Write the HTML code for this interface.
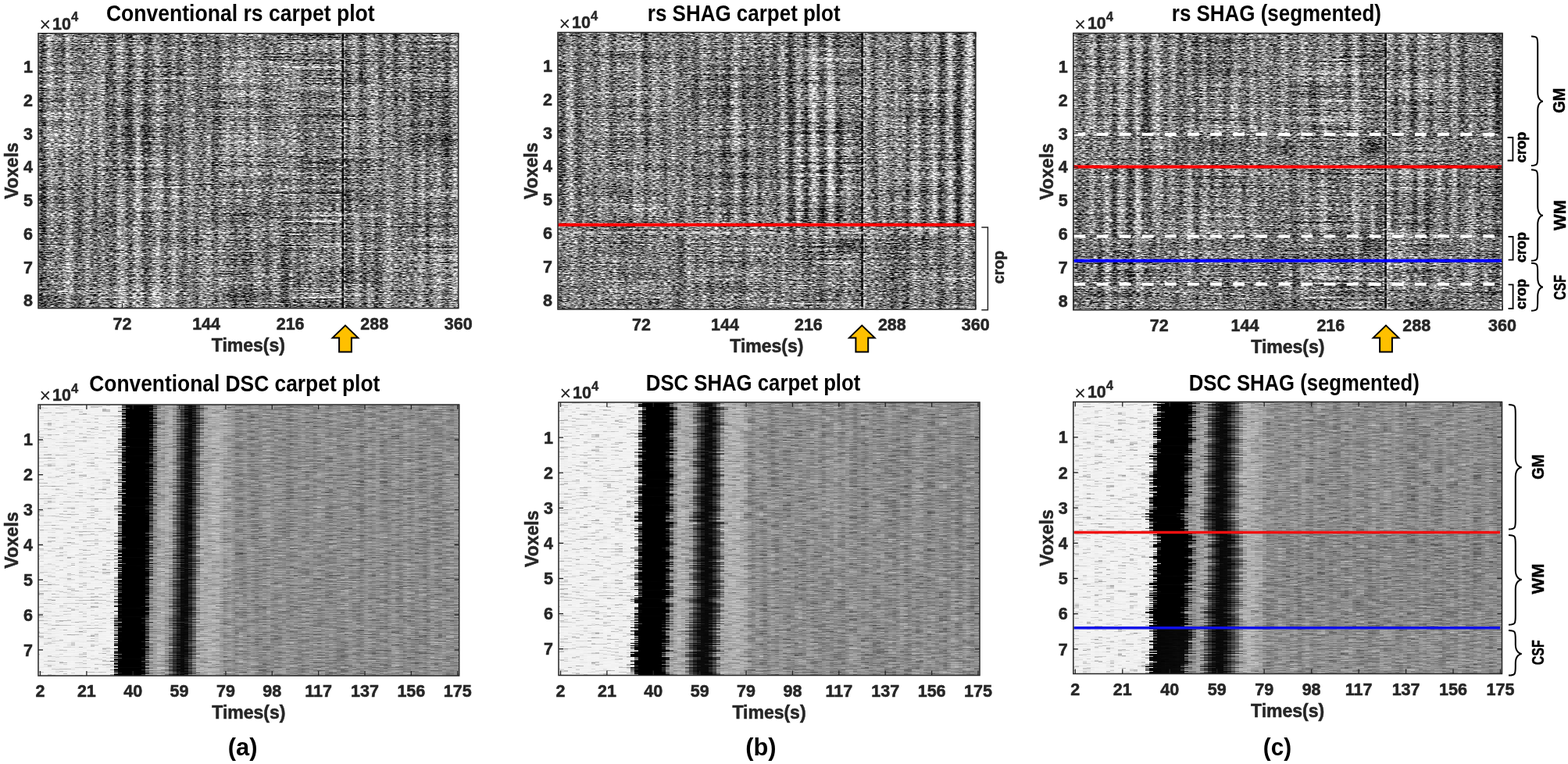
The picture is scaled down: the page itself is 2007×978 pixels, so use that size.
<!DOCTYPE html>
<html><head><meta charset="utf-8"><title>SHAG carpet plots</title>
<style>html,body{margin:0;padding:0;background:#fff;}body{width:2007px;height:978px;overflow:hidden;}svg{display:block;}</style>
</head><body><svg width="2007" height="978" viewBox="0 0 2007 978"><defs><filter id="nzTop" x="0" y="0" width="1" height="1" color-interpolation-filters="sRGB">
<feTurbulence type="fractalNoise" baseFrequency="0.1 0.004" numOctaves="2" seed="21" result="t2"/>
<feColorMatrix in="t2" type="matrix" values="1 0 0 0 0  1 0 0 0 0  1 0 0 0 0  0 0 0 0 1" result="g2"/>
<feComposite in="SourceGraphic" in2="g2" operator="arithmetic" k1="0" k2="1" k3="0.45" k4="-0.225" result="s1"/>
<feTurbulence type="fractalNoise" baseFrequency="0.008 0.6" numOctaves="1" seed="33" result="t3"/>
<feColorMatrix in="t3" type="matrix" values="1 0 0 0 0  1 0 0 0 0  1 0 0 0 0  0 0 0 0 1" result="g3"/>
<feComposite in="s1" in2="g3" operator="arithmetic" k1="0" k2="1" k3="0.75" k4="-0.375" result="s2"/>
<feTurbulence type="fractalNoise" baseFrequency="0.2 0.7" numOctaves="3" seed="7" result="t"/>
<feColorMatrix in="t" type="matrix" values="1 0 0 0 0  1 0 0 0 0  1 0 0 0 0  0 0 0 0 1" result="g"/>
<feComposite in="s2" in2="g" operator="arithmetic" k1="0" k2="1" k3="1.75" k4="-0.875"/>
</filter><filter id="soft" x="-50%" y="-50%" width="200%" height="200%"><feGaussianBlur stdDeviation="5"/></filter><linearGradient id="gt1_0" gradientUnits="userSpaceOnUse" x1="49.0" y1="0" x2="586.7" y2="0"><stop offset="0.0000" stop-color="#898989"/><stop offset="0.0082" stop-color="#5d5d5d"/><stop offset="0.0164" stop-color="#646464"/><stop offset="0.0245" stop-color="#8d8d8d"/><stop offset="0.0327" stop-color="#9b9b9b"/><stop offset="0.0409" stop-color="#828282"/><stop offset="0.0491" stop-color="#646464"/><stop offset="0.0573" stop-color="#636363"/><stop offset="0.0655" stop-color="#969696"/><stop offset="0.0736" stop-color="#9b9b9b"/><stop offset="0.0818" stop-color="#848484"/><stop offset="0.0900" stop-color="#6b6b6b"/><stop offset="0.0982" stop-color="#6c6c6c"/><stop offset="0.1064" stop-color="#7d7d7d"/><stop offset="0.1146" stop-color="#919191"/><stop offset="0.1227" stop-color="#858585"/><stop offset="0.1309" stop-color="#6f6f6f"/><stop offset="0.1391" stop-color="#686868"/><stop offset="0.1473" stop-color="#909090"/><stop offset="0.1555" stop-color="#999999"/><stop offset="0.1637" stop-color="#818181"/><stop offset="0.1718" stop-color="#686868"/><stop offset="0.1800" stop-color="#5f5f5f"/><stop offset="0.1882" stop-color="#828282"/><stop offset="0.1964" stop-color="#a1a1a1"/><stop offset="0.2046" stop-color="#929292"/><stop offset="0.2128" stop-color="#5d5d5d"/><stop offset="0.2209" stop-color="#565656"/><stop offset="0.2291" stop-color="#848484"/><stop offset="0.2373" stop-color="#a4a4a4"/><stop offset="0.2455" stop-color="#a0a0a0"/><stop offset="0.2537" stop-color="#656565"/><stop offset="0.2619" stop-color="#5c5c5c"/><stop offset="0.2700" stop-color="#6c6c6c"/><stop offset="0.2782" stop-color="#949494"/><stop offset="0.2864" stop-color="#a1a1a1"/><stop offset="0.2946" stop-color="#7c7c7c"/><stop offset="0.3028" stop-color="#676767"/><stop offset="0.3110" stop-color="#757575"/><stop offset="0.3191" stop-color="#8d8d8d"/><stop offset="0.3273" stop-color="#939393"/><stop offset="0.3355" stop-color="#777777"/><stop offset="0.3437" stop-color="#666666"/><stop offset="0.3519" stop-color="#7b7b7b"/><stop offset="0.3601" stop-color="#8b8b8b"/><stop offset="0.3682" stop-color="#888888"/><stop offset="0.3764" stop-color="#777777"/><stop offset="0.3846" stop-color="#747474"/><stop offset="0.3928" stop-color="#7b7b7b"/><stop offset="0.4010" stop-color="#868686"/><stop offset="0.4092" stop-color="#8d8d8d"/><stop offset="0.4173" stop-color="#797979"/><stop offset="0.4255" stop-color="#717171"/><stop offset="0.4337" stop-color="#787878"/><stop offset="0.4419" stop-color="#8d8d8d"/><stop offset="0.4501" stop-color="#8f8f8f"/><stop offset="0.4582" stop-color="#757575"/><stop offset="0.4664" stop-color="#6d6d6d"/><stop offset="0.4746" stop-color="#868686"/><stop offset="0.4828" stop-color="#8a8a8a"/><stop offset="0.4910" stop-color="#808080"/><stop offset="0.4992" stop-color="#757575"/><stop offset="0.5073" stop-color="#797979"/><stop offset="0.5155" stop-color="#848484"/><stop offset="0.5237" stop-color="#878787"/><stop offset="0.5319" stop-color="#7e7e7e"/><stop offset="0.5401" stop-color="#717171"/><stop offset="0.5483" stop-color="#747474"/><stop offset="0.5564" stop-color="#848484"/><stop offset="0.5646" stop-color="#898989"/><stop offset="0.5728" stop-color="#848484"/><stop offset="0.5810" stop-color="#787878"/><stop offset="0.5892" stop-color="#747474"/><stop offset="0.5974" stop-color="#7d7d7d"/><stop offset="0.6055" stop-color="#939393"/><stop offset="0.6137" stop-color="#858585"/><stop offset="0.6219" stop-color="#7a7a7a"/><stop offset="0.6301" stop-color="#727272"/><stop offset="0.6383" stop-color="#828282"/><stop offset="0.6465" stop-color="#888888"/><stop offset="0.6546" stop-color="#7e7e7e"/><stop offset="0.6628" stop-color="#747474"/><stop offset="0.6710" stop-color="#7b7b7b"/><stop offset="0.6792" stop-color="#909090"/><stop offset="0.6874" stop-color="#878787"/><stop offset="0.6956" stop-color="#6c6c6c"/><stop offset="0.7037" stop-color="#6f6f6f"/><stop offset="0.7119" stop-color="#929292"/><stop offset="0.7201" stop-color="#949494"/><stop offset="0.7283" stop-color="#6d6d6d"/><stop offset="0.7365" stop-color="#5c5c5c"/><stop offset="0.7447" stop-color="#7b7b7b"/><stop offset="0.7528" stop-color="#a0a0a0"/><stop offset="0.7610" stop-color="#8d8d8d"/><stop offset="0.7692" stop-color="#5f5f5f"/><stop offset="0.7774" stop-color="#5a5a5a"/><stop offset="0.7856" stop-color="#8e8e8e"/><stop offset="0.7938" stop-color="#999999"/><stop offset="0.8019" stop-color="#7c7c7c"/><stop offset="0.8101" stop-color="#626262"/><stop offset="0.8183" stop-color="#686868"/><stop offset="0.8265" stop-color="#939393"/><stop offset="0.8347" stop-color="#989898"/><stop offset="0.8428" stop-color="#7f7f7f"/><stop offset="0.8510" stop-color="#676767"/><stop offset="0.8592" stop-color="#6c6c6c"/><stop offset="0.8674" stop-color="#8e8e8e"/><stop offset="0.8756" stop-color="#8e8e8e"/><stop offset="0.8838" stop-color="#7a7a7a"/><stop offset="0.8919" stop-color="#616161"/><stop offset="0.9001" stop-color="#777777"/><stop offset="0.9083" stop-color="#929292"/><stop offset="0.9165" stop-color="#989898"/><stop offset="0.9247" stop-color="#6d6d6d"/><stop offset="0.9329" stop-color="#636363"/><stop offset="0.9410" stop-color="#7d7d7d"/><stop offset="0.9492" stop-color="#949494"/><stop offset="0.9574" stop-color="#939393"/><stop offset="0.9656" stop-color="#757575"/><stop offset="0.9738" stop-color="#5f5f5f"/><stop offset="0.9820" stop-color="#7d7d7d"/><stop offset="0.9901" stop-color="#969696"/><stop offset="0.9983" stop-color="#a0a0a0"/><stop offset="1.0000" stop-color="#7f7f7f"/></linearGradient><clipPath id="cpt1"><rect x="49.00" y="42.70" width="537.70" height="351.90"/></clipPath><linearGradient id="gt2_0" gradientUnits="userSpaceOnUse" x1="714.0" y1="0" x2="1248.8" y2="0"><stop offset="0.0000" stop-color="#818181"/><stop offset="0.0080" stop-color="#565656"/><stop offset="0.0161" stop-color="#5a5a5a"/><stop offset="0.0241" stop-color="#939393"/><stop offset="0.0322" stop-color="#afafaf"/><stop offset="0.0402" stop-color="#7e7e7e"/><stop offset="0.0482" stop-color="#626262"/><stop offset="0.0563" stop-color="#787878"/><stop offset="0.0643" stop-color="#8e8e8e"/><stop offset="0.0724" stop-color="#898989"/><stop offset="0.0804" stop-color="#707070"/><stop offset="0.0884" stop-color="#6d6d6d"/><stop offset="0.0965" stop-color="#7c7c7c"/><stop offset="0.1045" stop-color="#969696"/><stop offset="0.1126" stop-color="#8c8c8c"/><stop offset="0.1206" stop-color="#767676"/><stop offset="0.1286" stop-color="#696969"/><stop offset="0.1367" stop-color="#717171"/><stop offset="0.1447" stop-color="#858585"/><stop offset="0.1528" stop-color="#8f8f8f"/><stop offset="0.1608" stop-color="#7f7f7f"/><stop offset="0.1688" stop-color="#6e6e6e"/><stop offset="0.1769" stop-color="#6a6a6a"/><stop offset="0.1849" stop-color="#939393"/><stop offset="0.1930" stop-color="#9e9e9e"/><stop offset="0.2010" stop-color="#808080"/><stop offset="0.2091" stop-color="#636363"/><stop offset="0.2171" stop-color="#6e6e6e"/><stop offset="0.2251" stop-color="#8f8f8f"/><stop offset="0.2332" stop-color="#919191"/><stop offset="0.2412" stop-color="#7c7c7c"/><stop offset="0.2493" stop-color="#6d6d6d"/><stop offset="0.2573" stop-color="#757575"/><stop offset="0.2653" stop-color="#8c8c8c"/><stop offset="0.2734" stop-color="#8d8d8d"/><stop offset="0.2814" stop-color="#777777"/><stop offset="0.2895" stop-color="#6d6d6d"/><stop offset="0.2975" stop-color="#7a7a7a"/><stop offset="0.3055" stop-color="#8d8d8d"/><stop offset="0.3136" stop-color="#8d8d8d"/><stop offset="0.3216" stop-color="#757575"/><stop offset="0.3297" stop-color="#6f6f6f"/><stop offset="0.3377" stop-color="#878787"/><stop offset="0.3457" stop-color="#979797"/><stop offset="0.3538" stop-color="#7f7f7f"/><stop offset="0.3618" stop-color="#686868"/><stop offset="0.3699" stop-color="#707070"/><stop offset="0.3779" stop-color="#7e7e7e"/><stop offset="0.3859" stop-color="#9d9d9d"/><stop offset="0.3940" stop-color="#858585"/><stop offset="0.4020" stop-color="#6d6d6d"/><stop offset="0.4101" stop-color="#606060"/><stop offset="0.4181" stop-color="#888888"/><stop offset="0.4261" stop-color="#9a9a9a"/><stop offset="0.4342" stop-color="#818181"/><stop offset="0.4422" stop-color="#5e5e5e"/><stop offset="0.4503" stop-color="#6d6d6d"/><stop offset="0.4583" stop-color="#8d8d8d"/><stop offset="0.4663" stop-color="#8c8c8c"/><stop offset="0.4744" stop-color="#6f6f6f"/><stop offset="0.4824" stop-color="#6a6a6a"/><stop offset="0.4905" stop-color="#757575"/><stop offset="0.4985" stop-color="#8d8d8d"/><stop offset="0.5065" stop-color="#888888"/><stop offset="0.5146" stop-color="#767676"/><stop offset="0.5226" stop-color="#6d6d6d"/><stop offset="0.5307" stop-color="#878787"/><stop offset="0.5387" stop-color="#a4a4a4"/><stop offset="0.5467" stop-color="#828282"/><stop offset="0.5548" stop-color="#4c4c4c"/><stop offset="0.5628" stop-color="#6d6d6d"/><stop offset="0.5709" stop-color="#a4a4a4"/><stop offset="0.5789" stop-color="#a0a0a0"/><stop offset="0.5869" stop-color="#6d6d6d"/><stop offset="0.5950" stop-color="#424242"/><stop offset="0.6030" stop-color="#8c8c8c"/><stop offset="0.6111" stop-color="#bababa"/><stop offset="0.6191" stop-color="#989898"/><stop offset="0.6272" stop-color="#565656"/><stop offset="0.6352" stop-color="#404040"/><stop offset="0.6432" stop-color="#8b8b8b"/><stop offset="0.6513" stop-color="#bebebe"/><stop offset="0.6593" stop-color="#979797"/><stop offset="0.6674" stop-color="#5b5b5b"/><stop offset="0.6754" stop-color="#5b5b5b"/><stop offset="0.6834" stop-color="#7d7d7d"/><stop offset="0.6915" stop-color="#a8a8a8"/><stop offset="0.6995" stop-color="#959595"/><stop offset="0.7076" stop-color="#626262"/><stop offset="0.7156" stop-color="#595959"/><stop offset="0.7236" stop-color="#797979"/><stop offset="0.7317" stop-color="#9e9e9e"/><stop offset="0.7397" stop-color="#a8a8a8"/><stop offset="0.7478" stop-color="#828282"/><stop offset="0.7558" stop-color="#5e5e5e"/><stop offset="0.7638" stop-color="#676767"/><stop offset="0.7719" stop-color="#909090"/><stop offset="0.7799" stop-color="#909090"/><stop offset="0.7880" stop-color="#7b7b7b"/><stop offset="0.7960" stop-color="#6d6d6d"/><stop offset="0.8040" stop-color="#767676"/><stop offset="0.8121" stop-color="#919191"/><stop offset="0.8201" stop-color="#8f8f8f"/><stop offset="0.8282" stop-color="#6e6e6e"/><stop offset="0.8362" stop-color="#525252"/><stop offset="0.8442" stop-color="#818181"/><stop offset="0.8523" stop-color="#b5b5b5"/><stop offset="0.8603" stop-color="#a8a8a8"/><stop offset="0.8684" stop-color="#6c6c6c"/><stop offset="0.8764" stop-color="#525252"/><stop offset="0.8844" stop-color="#6c6c6c"/><stop offset="0.8925" stop-color="#929292"/><stop offset="0.9005" stop-color="#bababa"/><stop offset="0.9086" stop-color="#8d8d8d"/><stop offset="0.9166" stop-color="#3e3e3e"/><stop offset="0.9246" stop-color="#575757"/><stop offset="0.9327" stop-color="#a4a4a4"/><stop offset="0.9407" stop-color="#c5c5c5"/><stop offset="0.9488" stop-color="#808080"/><stop offset="0.9568" stop-color="#3b3b3b"/><stop offset="0.9648" stop-color="#464646"/><stop offset="0.9729" stop-color="#969696"/><stop offset="0.9809" stop-color="#c5c5c5"/><stop offset="0.9890" stop-color="#b9b9b9"/><stop offset="0.9970" stop-color="#595959"/><stop offset="1.0000" stop-color="#323232"/></linearGradient><linearGradient id="gt2_1" gradientUnits="userSpaceOnUse" x1="714.0" y1="0" x2="1248.8" y2="0"><stop offset="0.0000" stop-color="#7d7d7d"/><stop offset="0.0080" stop-color="#6f6f6f"/><stop offset="0.0161" stop-color="#717171"/><stop offset="0.0241" stop-color="#828282"/><stop offset="0.0322" stop-color="#8b8b8b"/><stop offset="0.0402" stop-color="#7c7c7c"/><stop offset="0.0482" stop-color="#737373"/><stop offset="0.0563" stop-color="#7a7a7a"/><stop offset="0.0643" stop-color="#808080"/><stop offset="0.0724" stop-color="#7f7f7f"/><stop offset="0.0804" stop-color="#777777"/><stop offset="0.0884" stop-color="#767676"/><stop offset="0.0965" stop-color="#7b7b7b"/><stop offset="0.1045" stop-color="#838383"/><stop offset="0.1126" stop-color="#808080"/><stop offset="0.1206" stop-color="#797979"/><stop offset="0.1286" stop-color="#757575"/><stop offset="0.1367" stop-color="#787878"/><stop offset="0.1447" stop-color="#7e7e7e"/><stop offset="0.1528" stop-color="#818181"/><stop offset="0.1608" stop-color="#7c7c7c"/><stop offset="0.1688" stop-color="#777777"/><stop offset="0.1769" stop-color="#757575"/><stop offset="0.1849" stop-color="#828282"/><stop offset="0.1930" stop-color="#858585"/><stop offset="0.2010" stop-color="#7c7c7c"/><stop offset="0.2091" stop-color="#737373"/><stop offset="0.2171" stop-color="#777777"/><stop offset="0.2251" stop-color="#818181"/><stop offset="0.2332" stop-color="#818181"/><stop offset="0.2412" stop-color="#7b7b7b"/><stop offset="0.2493" stop-color="#767676"/><stop offset="0.2573" stop-color="#797979"/><stop offset="0.2653" stop-color="#808080"/><stop offset="0.2734" stop-color="#808080"/><stop offset="0.2814" stop-color="#797979"/><stop offset="0.2895" stop-color="#767676"/><stop offset="0.2975" stop-color="#7a7a7a"/><stop offset="0.3055" stop-color="#808080"/><stop offset="0.3136" stop-color="#808080"/><stop offset="0.3216" stop-color="#797979"/><stop offset="0.3297" stop-color="#777777"/><stop offset="0.3377" stop-color="#7e7e7e"/><stop offset="0.3457" stop-color="#838383"/><stop offset="0.3538" stop-color="#7c7c7c"/><stop offset="0.3618" stop-color="#757575"/><stop offset="0.3699" stop-color="#777777"/><stop offset="0.3779" stop-color="#7c7c7c"/><stop offset="0.3859" stop-color="#858585"/><stop offset="0.3940" stop-color="#7e7e7e"/><stop offset="0.4020" stop-color="#767676"/><stop offset="0.4101" stop-color="#727272"/><stop offset="0.4181" stop-color="#7f7f7f"/><stop offset="0.4261" stop-color="#848484"/><stop offset="0.4342" stop-color="#7d7d7d"/><stop offset="0.4422" stop-color="#727272"/><stop offset="0.4503" stop-color="#767676"/><stop offset="0.4583" stop-color="#808080"/><stop offset="0.4663" stop-color="#808080"/><stop offset="0.4744" stop-color="#777777"/><stop offset="0.4824" stop-color="#767676"/><stop offset="0.4905" stop-color="#797979"/><stop offset="0.4985" stop-color="#808080"/><stop offset="0.5065" stop-color="#7f7f7f"/><stop offset="0.5146" stop-color="#797979"/><stop offset="0.5226" stop-color="#777777"/><stop offset="0.5307" stop-color="#7e7e7e"/><stop offset="0.5387" stop-color="#878787"/><stop offset="0.5467" stop-color="#7d7d7d"/><stop offset="0.5548" stop-color="#6c6c6c"/><stop offset="0.5628" stop-color="#777777"/><stop offset="0.5709" stop-color="#878787"/><stop offset="0.5789" stop-color="#868686"/><stop offset="0.5869" stop-color="#767676"/><stop offset="0.5950" stop-color="#696969"/><stop offset="0.6030" stop-color="#808080"/><stop offset="0.6111" stop-color="#8e8e8e"/><stop offset="0.6191" stop-color="#848484"/><stop offset="0.6272" stop-color="#6f6f6f"/><stop offset="0.6352" stop-color="#696969"/><stop offset="0.6432" stop-color="#808080"/><stop offset="0.6513" stop-color="#8f8f8f"/><stop offset="0.6593" stop-color="#838383"/><stop offset="0.6674" stop-color="#717171"/><stop offset="0.6754" stop-color="#717171"/><stop offset="0.6834" stop-color="#7b7b7b"/><stop offset="0.6915" stop-color="#888888"/><stop offset="0.6995" stop-color="#838383"/><stop offset="0.7076" stop-color="#737373"/><stop offset="0.7156" stop-color="#707070"/><stop offset="0.7236" stop-color="#7a7a7a"/><stop offset="0.7317" stop-color="#858585"/><stop offset="0.7397" stop-color="#898989"/><stop offset="0.7478" stop-color="#7d7d7d"/><stop offset="0.7558" stop-color="#727272"/><stop offset="0.7638" stop-color="#757575"/><stop offset="0.7719" stop-color="#818181"/><stop offset="0.7799" stop-color="#818181"/><stop offset="0.7880" stop-color="#7b7b7b"/><stop offset="0.7960" stop-color="#767676"/><stop offset="0.8040" stop-color="#797979"/><stop offset="0.8121" stop-color="#818181"/><stop offset="0.8201" stop-color="#818181"/><stop offset="0.8282" stop-color="#777777"/><stop offset="0.8362" stop-color="#6e6e6e"/><stop offset="0.8442" stop-color="#7d7d7d"/><stop offset="0.8523" stop-color="#8c8c8c"/><stop offset="0.8603" stop-color="#898989"/><stop offset="0.8684" stop-color="#767676"/><stop offset="0.8764" stop-color="#6e6e6e"/><stop offset="0.8844" stop-color="#767676"/><stop offset="0.8925" stop-color="#828282"/><stop offset="0.9005" stop-color="#8e8e8e"/><stop offset="0.9086" stop-color="#808080"/><stop offset="0.9166" stop-color="#686868"/><stop offset="0.9246" stop-color="#707070"/><stop offset="0.9327" stop-color="#878787"/><stop offset="0.9407" stop-color="#919191"/><stop offset="0.9488" stop-color="#7c7c7c"/><stop offset="0.9568" stop-color="#676767"/><stop offset="0.9648" stop-color="#6a6a6a"/><stop offset="0.9729" stop-color="#838383"/><stop offset="0.9809" stop-color="#919191"/><stop offset="0.9890" stop-color="#8d8d8d"/><stop offset="0.9970" stop-color="#707070"/><stop offset="1.0000" stop-color="#656565"/></linearGradient><clipPath id="cpt2"><rect x="714.00" y="41.50" width="534.80" height="354.50"/></clipPath><linearGradient id="gt3_0" gradientUnits="userSpaceOnUse" x1="1373.8" y1="0" x2="1923.0" y2="0"><stop offset="0.0000" stop-color="#bdbdbd"/><stop offset="0.0078" stop-color="#787878"/><stop offset="0.0157" stop-color="#555555"/><stop offset="0.0235" stop-color="#565656"/><stop offset="0.0313" stop-color="#848484"/><stop offset="0.0391" stop-color="#a9a9a9"/><stop offset="0.0470" stop-color="#a5a5a5"/><stop offset="0.0548" stop-color="#686868"/><stop offset="0.0626" stop-color="#5f5f5f"/><stop offset="0.0705" stop-color="#808080"/><stop offset="0.0783" stop-color="#b0b0b0"/><stop offset="0.0861" stop-color="#8b8b8b"/><stop offset="0.0940" stop-color="#494949"/><stop offset="0.1018" stop-color="#696969"/><stop offset="0.1096" stop-color="#b0b0b0"/><stop offset="0.1174" stop-color="#a8a8a8"/><stop offset="0.1253" stop-color="#6f6f6f"/><stop offset="0.1331" stop-color="#464646"/><stop offset="0.1409" stop-color="#656565"/><stop offset="0.1488" stop-color="#bdbdbd"/><stop offset="0.1566" stop-color="#a6a6a6"/><stop offset="0.1644" stop-color="#575757"/><stop offset="0.1723" stop-color="#4a4a4a"/><stop offset="0.1801" stop-color="#787878"/><stop offset="0.1879" stop-color="#a9a9a9"/><stop offset="0.1957" stop-color="#9b9b9b"/><stop offset="0.2036" stop-color="#737373"/><stop offset="0.2114" stop-color="#6a6a6a"/><stop offset="0.2192" stop-color="#757575"/><stop offset="0.2271" stop-color="#959595"/><stop offset="0.2349" stop-color="#a0a0a0"/><stop offset="0.2427" stop-color="#747474"/><stop offset="0.2505" stop-color="#5e5e5e"/><stop offset="0.2584" stop-color="#767676"/><stop offset="0.2662" stop-color="#979797"/><stop offset="0.2740" stop-color="#a0a0a0"/><stop offset="0.2819" stop-color="#686868"/><stop offset="0.2897" stop-color="#626262"/><stop offset="0.2975" stop-color="#878787"/><stop offset="0.3054" stop-color="#969696"/><stop offset="0.3132" stop-color="#797979"/><stop offset="0.3210" stop-color="#6a6a6a"/><stop offset="0.3288" stop-color="#7b7b7b"/><stop offset="0.3367" stop-color="#8f8f8f"/><stop offset="0.3445" stop-color="#8b8b8b"/><stop offset="0.3523" stop-color="#757575"/><stop offset="0.3602" stop-color="#6d6d6d"/><stop offset="0.3680" stop-color="#7b7b7b"/><stop offset="0.3758" stop-color="#8e8e8e"/><stop offset="0.3836" stop-color="#8b8b8b"/><stop offset="0.3915" stop-color="#7b7b7b"/><stop offset="0.3993" stop-color="#6d6d6d"/><stop offset="0.4071" stop-color="#7a7a7a"/><stop offset="0.4150" stop-color="#8e8e8e"/><stop offset="0.4228" stop-color="#8b8b8b"/><stop offset="0.4306" stop-color="#737373"/><stop offset="0.4385" stop-color="#6d6d6d"/><stop offset="0.4463" stop-color="#838383"/><stop offset="0.4541" stop-color="#959595"/><stop offset="0.4619" stop-color="#878787"/><stop offset="0.4698" stop-color="#6b6b6b"/><stop offset="0.4776" stop-color="#6b6b6b"/><stop offset="0.4854" stop-color="#8b8b8b"/><stop offset="0.4933" stop-color="#a1a1a1"/><stop offset="0.5011" stop-color="#8c8c8c"/><stop offset="0.5089" stop-color="#737373"/><stop offset="0.5168" stop-color="#6d6d6d"/><stop offset="0.5246" stop-color="#7b7b7b"/><stop offset="0.5324" stop-color="#929292"/><stop offset="0.5402" stop-color="#969696"/><stop offset="0.5481" stop-color="#7d7d7d"/><stop offset="0.5559" stop-color="#686868"/><stop offset="0.5637" stop-color="#717171"/><stop offset="0.5716" stop-color="#888888"/><stop offset="0.5794" stop-color="#a6a6a6"/><stop offset="0.5872" stop-color="#989898"/><stop offset="0.5950" stop-color="#767676"/><stop offset="0.6029" stop-color="#6d6d6d"/><stop offset="0.6107" stop-color="#6f6f6f"/><stop offset="0.6185" stop-color="#8e8e8e"/><stop offset="0.6264" stop-color="#8b8b8b"/><stop offset="0.6342" stop-color="#737373"/><stop offset="0.6420" stop-color="#6f6f6f"/><stop offset="0.6499" stop-color="#7f7f7f"/><stop offset="0.6577" stop-color="#989898"/><stop offset="0.6655" stop-color="#969696"/><stop offset="0.6733" stop-color="#7a7a7a"/><stop offset="0.6812" stop-color="#6d6d6d"/><stop offset="0.6890" stop-color="#7c7c7c"/><stop offset="0.6968" stop-color="#959595"/><stop offset="0.7047" stop-color="#818181"/><stop offset="0.7125" stop-color="#676767"/><stop offset="0.7203" stop-color="#6e6e6e"/><stop offset="0.7282" stop-color="#8b8b8b"/><stop offset="0.7360" stop-color="#a0a0a0"/><stop offset="0.7438" stop-color="#808080"/><stop offset="0.7516" stop-color="#676767"/><stop offset="0.7595" stop-color="#747474"/><stop offset="0.7673" stop-color="#858585"/><stop offset="0.7751" stop-color="#9b9b9b"/><stop offset="0.7830" stop-color="#8f8f8f"/><stop offset="0.7908" stop-color="#585858"/><stop offset="0.7986" stop-color="#5c5c5c"/><stop offset="0.8064" stop-color="#9d9d9d"/><stop offset="0.8143" stop-color="#9c9c9c"/><stop offset="0.8221" stop-color="#787878"/><stop offset="0.8299" stop-color="#545454"/><stop offset="0.8378" stop-color="#717171"/><stop offset="0.8456" stop-color="#8e8e8e"/><stop offset="0.8534" stop-color="#959595"/><stop offset="0.8613" stop-color="#7c7c7c"/><stop offset="0.8691" stop-color="#626262"/><stop offset="0.8769" stop-color="#707070"/><stop offset="0.8847" stop-color="#a4a4a4"/><stop offset="0.8926" stop-color="#a0a0a0"/><stop offset="0.9004" stop-color="#676767"/><stop offset="0.9082" stop-color="#585858"/><stop offset="0.9161" stop-color="#767676"/><stop offset="0.9239" stop-color="#8d8d8d"/><stop offset="0.9317" stop-color="#898989"/><stop offset="0.9395" stop-color="#777777"/><stop offset="0.9474" stop-color="#5f5f5f"/><stop offset="0.9552" stop-color="#717171"/><stop offset="0.9630" stop-color="#939393"/><stop offset="0.9709" stop-color="#8f8f8f"/><stop offset="0.9787" stop-color="#686868"/><stop offset="0.9865" stop-color="#4a4a4a"/><stop offset="0.9944" stop-color="#595959"/><stop offset="1.0000" stop-color="#909090"/></linearGradient><linearGradient id="gt3_1" gradientUnits="userSpaceOnUse" x1="1373.8" y1="0" x2="1923.0" y2="0"><stop offset="0.0000" stop-color="#8c8c8c"/><stop offset="0.0078" stop-color="#777777"/><stop offset="0.0157" stop-color="#6d6d6d"/><stop offset="0.0235" stop-color="#6d6d6d"/><stop offset="0.0313" stop-color="#7b7b7b"/><stop offset="0.0391" stop-color="#868686"/><stop offset="0.0470" stop-color="#858585"/><stop offset="0.0548" stop-color="#727272"/><stop offset="0.0626" stop-color="#707070"/><stop offset="0.0705" stop-color="#7a7a7a"/><stop offset="0.0783" stop-color="#888888"/><stop offset="0.0861" stop-color="#7d7d7d"/><stop offset="0.0940" stop-color="#696969"/><stop offset="0.1018" stop-color="#737373"/><stop offset="0.1096" stop-color="#888888"/><stop offset="0.1174" stop-color="#868686"/><stop offset="0.1253" stop-color="#747474"/><stop offset="0.1331" stop-color="#686868"/><stop offset="0.1409" stop-color="#717171"/><stop offset="0.1488" stop-color="#8c8c8c"/><stop offset="0.1566" stop-color="#858585"/><stop offset="0.1644" stop-color="#6d6d6d"/><stop offset="0.1723" stop-color="#696969"/><stop offset="0.1801" stop-color="#777777"/><stop offset="0.1879" stop-color="#868686"/><stop offset="0.1957" stop-color="#828282"/><stop offset="0.2036" stop-color="#767676"/><stop offset="0.2114" stop-color="#737373"/><stop offset="0.2192" stop-color="#767676"/><stop offset="0.2271" stop-color="#808080"/><stop offset="0.2349" stop-color="#838383"/><stop offset="0.2427" stop-color="#767676"/><stop offset="0.2505" stop-color="#6f6f6f"/><stop offset="0.2584" stop-color="#777777"/><stop offset="0.2662" stop-color="#818181"/><stop offset="0.2740" stop-color="#838383"/><stop offset="0.2819" stop-color="#727272"/><stop offset="0.2897" stop-color="#717171"/><stop offset="0.2975" stop-color="#7c7c7c"/><stop offset="0.3054" stop-color="#808080"/><stop offset="0.3132" stop-color="#787878"/><stop offset="0.3210" stop-color="#737373"/><stop offset="0.3288" stop-color="#787878"/><stop offset="0.3367" stop-color="#7e7e7e"/><stop offset="0.3445" stop-color="#7d7d7d"/><stop offset="0.3523" stop-color="#767676"/><stop offset="0.3602" stop-color="#747474"/><stop offset="0.3680" stop-color="#787878"/><stop offset="0.3758" stop-color="#7e7e7e"/><stop offset="0.3836" stop-color="#7d7d7d"/><stop offset="0.3915" stop-color="#787878"/><stop offset="0.3993" stop-color="#747474"/><stop offset="0.4071" stop-color="#787878"/><stop offset="0.4150" stop-color="#7e7e7e"/><stop offset="0.4228" stop-color="#7d7d7d"/><stop offset="0.4306" stop-color="#767676"/><stop offset="0.4385" stop-color="#747474"/><stop offset="0.4463" stop-color="#7b7b7b"/><stop offset="0.4541" stop-color="#808080"/><stop offset="0.4619" stop-color="#7c7c7c"/><stop offset="0.4698" stop-color="#737373"/><stop offset="0.4776" stop-color="#737373"/><stop offset="0.4854" stop-color="#7d7d7d"/><stop offset="0.4933" stop-color="#848484"/><stop offset="0.5011" stop-color="#7d7d7d"/><stop offset="0.5089" stop-color="#767676"/><stop offset="0.5168" stop-color="#747474"/><stop offset="0.5246" stop-color="#787878"/><stop offset="0.5324" stop-color="#7f7f7f"/><stop offset="0.5402" stop-color="#808080"/><stop offset="0.5481" stop-color="#797979"/><stop offset="0.5559" stop-color="#727272"/><stop offset="0.5637" stop-color="#757575"/><stop offset="0.5716" stop-color="#7c7c7c"/><stop offset="0.5794" stop-color="#858585"/><stop offset="0.5872" stop-color="#818181"/><stop offset="0.5950" stop-color="#777777"/><stop offset="0.6029" stop-color="#747474"/><stop offset="0.6107" stop-color="#757575"/><stop offset="0.6185" stop-color="#7e7e7e"/><stop offset="0.6264" stop-color="#7d7d7d"/><stop offset="0.6342" stop-color="#767676"/><stop offset="0.6420" stop-color="#747474"/><stop offset="0.6499" stop-color="#797979"/><stop offset="0.6577" stop-color="#818181"/><stop offset="0.6655" stop-color="#808080"/><stop offset="0.6733" stop-color="#787878"/><stop offset="0.6812" stop-color="#747474"/><stop offset="0.6890" stop-color="#787878"/><stop offset="0.6968" stop-color="#808080"/><stop offset="0.7047" stop-color="#7a7a7a"/><stop offset="0.7125" stop-color="#727272"/><stop offset="0.7203" stop-color="#747474"/><stop offset="0.7282" stop-color="#7d7d7d"/><stop offset="0.7360" stop-color="#848484"/><stop offset="0.7438" stop-color="#7a7a7a"/><stop offset="0.7516" stop-color="#727272"/><stop offset="0.7595" stop-color="#767676"/><stop offset="0.7673" stop-color="#7b7b7b"/><stop offset="0.7751" stop-color="#828282"/><stop offset="0.7830" stop-color="#7e7e7e"/><stop offset="0.7908" stop-color="#6d6d6d"/><stop offset="0.7986" stop-color="#6f6f6f"/><stop offset="0.8064" stop-color="#828282"/><stop offset="0.8143" stop-color="#828282"/><stop offset="0.8221" stop-color="#777777"/><stop offset="0.8299" stop-color="#6c6c6c"/><stop offset="0.8378" stop-color="#757575"/><stop offset="0.8456" stop-color="#7e7e7e"/><stop offset="0.8534" stop-color="#808080"/><stop offset="0.8613" stop-color="#797979"/><stop offset="0.8691" stop-color="#717171"/><stop offset="0.8769" stop-color="#757575"/><stop offset="0.8847" stop-color="#848484"/><stop offset="0.8926" stop-color="#838383"/><stop offset="0.9004" stop-color="#727272"/><stop offset="0.9082" stop-color="#6e6e6e"/><stop offset="0.9161" stop-color="#777777"/><stop offset="0.9239" stop-color="#7e7e7e"/><stop offset="0.9317" stop-color="#7c7c7c"/><stop offset="0.9395" stop-color="#777777"/><stop offset="0.9474" stop-color="#707070"/><stop offset="0.9552" stop-color="#757575"/><stop offset="0.9630" stop-color="#7f7f7f"/><stop offset="0.9709" stop-color="#7e7e7e"/><stop offset="0.9787" stop-color="#727272"/><stop offset="0.9865" stop-color="#696969"/><stop offset="0.9944" stop-color="#6e6e6e"/><stop offset="1.0000" stop-color="#7f7f7f"/></linearGradient><linearGradient id="gt3_2" gradientUnits="userSpaceOnUse" x1="1373.8" y1="0" x2="1923.0" y2="0"><stop offset="0.0000" stop-color="#bdbdbd"/><stop offset="0.0078" stop-color="#787878"/><stop offset="0.0157" stop-color="#555555"/><stop offset="0.0235" stop-color="#565656"/><stop offset="0.0313" stop-color="#848484"/><stop offset="0.0391" stop-color="#a9a9a9"/><stop offset="0.0470" stop-color="#a5a5a5"/><stop offset="0.0548" stop-color="#686868"/><stop offset="0.0626" stop-color="#5f5f5f"/><stop offset="0.0705" stop-color="#808080"/><stop offset="0.0783" stop-color="#b0b0b0"/><stop offset="0.0861" stop-color="#8b8b8b"/><stop offset="0.0940" stop-color="#494949"/><stop offset="0.1018" stop-color="#696969"/><stop offset="0.1096" stop-color="#b0b0b0"/><stop offset="0.1174" stop-color="#a8a8a8"/><stop offset="0.1253" stop-color="#6f6f6f"/><stop offset="0.1331" stop-color="#464646"/><stop offset="0.1409" stop-color="#656565"/><stop offset="0.1488" stop-color="#bdbdbd"/><stop offset="0.1566" stop-color="#a6a6a6"/><stop offset="0.1644" stop-color="#575757"/><stop offset="0.1723" stop-color="#4a4a4a"/><stop offset="0.1801" stop-color="#787878"/><stop offset="0.1879" stop-color="#a9a9a9"/><stop offset="0.1957" stop-color="#9b9b9b"/><stop offset="0.2036" stop-color="#737373"/><stop offset="0.2114" stop-color="#6a6a6a"/><stop offset="0.2192" stop-color="#757575"/><stop offset="0.2271" stop-color="#959595"/><stop offset="0.2349" stop-color="#a0a0a0"/><stop offset="0.2427" stop-color="#747474"/><stop offset="0.2505" stop-color="#5e5e5e"/><stop offset="0.2584" stop-color="#767676"/><stop offset="0.2662" stop-color="#979797"/><stop offset="0.2740" stop-color="#a0a0a0"/><stop offset="0.2819" stop-color="#686868"/><stop offset="0.2897" stop-color="#626262"/><stop offset="0.2975" stop-color="#878787"/><stop offset="0.3054" stop-color="#969696"/><stop offset="0.3132" stop-color="#797979"/><stop offset="0.3210" stop-color="#6a6a6a"/><stop offset="0.3288" stop-color="#7b7b7b"/><stop offset="0.3367" stop-color="#8f8f8f"/><stop offset="0.3445" stop-color="#8b8b8b"/><stop offset="0.3523" stop-color="#757575"/><stop offset="0.3602" stop-color="#6d6d6d"/><stop offset="0.3680" stop-color="#7b7b7b"/><stop offset="0.3758" stop-color="#8e8e8e"/><stop offset="0.3836" stop-color="#8b8b8b"/><stop offset="0.3915" stop-color="#7b7b7b"/><stop offset="0.3993" stop-color="#6d6d6d"/><stop offset="0.4071" stop-color="#7a7a7a"/><stop offset="0.4150" stop-color="#8e8e8e"/><stop offset="0.4228" stop-color="#8b8b8b"/><stop offset="0.4306" stop-color="#737373"/><stop offset="0.4385" stop-color="#6d6d6d"/><stop offset="0.4463" stop-color="#838383"/><stop offset="0.4541" stop-color="#959595"/><stop offset="0.4619" stop-color="#878787"/><stop offset="0.4698" stop-color="#6b6b6b"/><stop offset="0.4776" stop-color="#6b6b6b"/><stop offset="0.4854" stop-color="#8b8b8b"/><stop offset="0.4933" stop-color="#a1a1a1"/><stop offset="0.5011" stop-color="#8c8c8c"/><stop offset="0.5089" stop-color="#737373"/><stop offset="0.5168" stop-color="#6d6d6d"/><stop offset="0.5246" stop-color="#7b7b7b"/><stop offset="0.5324" stop-color="#929292"/><stop offset="0.5402" stop-color="#969696"/><stop offset="0.5481" stop-color="#7d7d7d"/><stop offset="0.5559" stop-color="#686868"/><stop offset="0.5637" stop-color="#717171"/><stop offset="0.5716" stop-color="#888888"/><stop offset="0.5794" stop-color="#a6a6a6"/><stop offset="0.5872" stop-color="#989898"/><stop offset="0.5950" stop-color="#767676"/><stop offset="0.6029" stop-color="#6d6d6d"/><stop offset="0.6107" stop-color="#6f6f6f"/><stop offset="0.6185" stop-color="#8e8e8e"/><stop offset="0.6264" stop-color="#8b8b8b"/><stop offset="0.6342" stop-color="#737373"/><stop offset="0.6420" stop-color="#6f6f6f"/><stop offset="0.6499" stop-color="#7f7f7f"/><stop offset="0.6577" stop-color="#989898"/><stop offset="0.6655" stop-color="#969696"/><stop offset="0.6733" stop-color="#7a7a7a"/><stop offset="0.6812" stop-color="#6d6d6d"/><stop offset="0.6890" stop-color="#7c7c7c"/><stop offset="0.6968" stop-color="#959595"/><stop offset="0.7047" stop-color="#818181"/><stop offset="0.7125" stop-color="#676767"/><stop offset="0.7203" stop-color="#6e6e6e"/><stop offset="0.7282" stop-color="#8b8b8b"/><stop offset="0.7360" stop-color="#a0a0a0"/><stop offset="0.7438" stop-color="#808080"/><stop offset="0.7516" stop-color="#676767"/><stop offset="0.7595" stop-color="#747474"/><stop offset="0.7673" stop-color="#858585"/><stop offset="0.7751" stop-color="#9b9b9b"/><stop offset="0.7830" stop-color="#8f8f8f"/><stop offset="0.7908" stop-color="#585858"/><stop offset="0.7986" stop-color="#5c5c5c"/><stop offset="0.8064" stop-color="#9d9d9d"/><stop offset="0.8143" stop-color="#9c9c9c"/><stop offset="0.8221" stop-color="#787878"/><stop offset="0.8299" stop-color="#545454"/><stop offset="0.8378" stop-color="#717171"/><stop offset="0.8456" stop-color="#8e8e8e"/><stop offset="0.8534" stop-color="#959595"/><stop offset="0.8613" stop-color="#7c7c7c"/><stop offset="0.8691" stop-color="#626262"/><stop offset="0.8769" stop-color="#707070"/><stop offset="0.8847" stop-color="#a4a4a4"/><stop offset="0.8926" stop-color="#a0a0a0"/><stop offset="0.9004" stop-color="#676767"/><stop offset="0.9082" stop-color="#585858"/><stop offset="0.9161" stop-color="#767676"/><stop offset="0.9239" stop-color="#8d8d8d"/><stop offset="0.9317" stop-color="#898989"/><stop offset="0.9395" stop-color="#777777"/><stop offset="0.9474" stop-color="#5f5f5f"/><stop offset="0.9552" stop-color="#717171"/><stop offset="0.9630" stop-color="#939393"/><stop offset="0.9709" stop-color="#8f8f8f"/><stop offset="0.9787" stop-color="#686868"/><stop offset="0.9865" stop-color="#4a4a4a"/><stop offset="0.9944" stop-color="#595959"/><stop offset="1.0000" stop-color="#909090"/></linearGradient><linearGradient id="gt3_3" gradientUnits="userSpaceOnUse" x1="1373.8" y1="0" x2="1923.0" y2="0"><stop offset="0.0000" stop-color="#8c8c8c"/><stop offset="0.0078" stop-color="#777777"/><stop offset="0.0157" stop-color="#6d6d6d"/><stop offset="0.0235" stop-color="#6d6d6d"/><stop offset="0.0313" stop-color="#7b7b7b"/><stop offset="0.0391" stop-color="#868686"/><stop offset="0.0470" stop-color="#858585"/><stop offset="0.0548" stop-color="#727272"/><stop offset="0.0626" stop-color="#707070"/><stop offset="0.0705" stop-color="#7a7a7a"/><stop offset="0.0783" stop-color="#888888"/><stop offset="0.0861" stop-color="#7d7d7d"/><stop offset="0.0940" stop-color="#696969"/><stop offset="0.1018" stop-color="#737373"/><stop offset="0.1096" stop-color="#888888"/><stop offset="0.1174" stop-color="#868686"/><stop offset="0.1253" stop-color="#747474"/><stop offset="0.1331" stop-color="#686868"/><stop offset="0.1409" stop-color="#717171"/><stop offset="0.1488" stop-color="#8c8c8c"/><stop offset="0.1566" stop-color="#858585"/><stop offset="0.1644" stop-color="#6d6d6d"/><stop offset="0.1723" stop-color="#696969"/><stop offset="0.1801" stop-color="#777777"/><stop offset="0.1879" stop-color="#868686"/><stop offset="0.1957" stop-color="#828282"/><stop offset="0.2036" stop-color="#767676"/><stop offset="0.2114" stop-color="#737373"/><stop offset="0.2192" stop-color="#767676"/><stop offset="0.2271" stop-color="#808080"/><stop offset="0.2349" stop-color="#838383"/><stop offset="0.2427" stop-color="#767676"/><stop offset="0.2505" stop-color="#6f6f6f"/><stop offset="0.2584" stop-color="#777777"/><stop offset="0.2662" stop-color="#818181"/><stop offset="0.2740" stop-color="#838383"/><stop offset="0.2819" stop-color="#727272"/><stop offset="0.2897" stop-color="#717171"/><stop offset="0.2975" stop-color="#7c7c7c"/><stop offset="0.3054" stop-color="#808080"/><stop offset="0.3132" stop-color="#787878"/><stop offset="0.3210" stop-color="#737373"/><stop offset="0.3288" stop-color="#787878"/><stop offset="0.3367" stop-color="#7e7e7e"/><stop offset="0.3445" stop-color="#7d7d7d"/><stop offset="0.3523" stop-color="#767676"/><stop offset="0.3602" stop-color="#747474"/><stop offset="0.3680" stop-color="#787878"/><stop offset="0.3758" stop-color="#7e7e7e"/><stop offset="0.3836" stop-color="#7d7d7d"/><stop offset="0.3915" stop-color="#787878"/><stop offset="0.3993" stop-color="#747474"/><stop offset="0.4071" stop-color="#787878"/><stop offset="0.4150" stop-color="#7e7e7e"/><stop offset="0.4228" stop-color="#7d7d7d"/><stop offset="0.4306" stop-color="#767676"/><stop offset="0.4385" stop-color="#747474"/><stop offset="0.4463" stop-color="#7b7b7b"/><stop offset="0.4541" stop-color="#808080"/><stop offset="0.4619" stop-color="#7c7c7c"/><stop offset="0.4698" stop-color="#737373"/><stop offset="0.4776" stop-color="#737373"/><stop offset="0.4854" stop-color="#7d7d7d"/><stop offset="0.4933" stop-color="#848484"/><stop offset="0.5011" stop-color="#7d7d7d"/><stop offset="0.5089" stop-color="#767676"/><stop offset="0.5168" stop-color="#747474"/><stop offset="0.5246" stop-color="#787878"/><stop offset="0.5324" stop-color="#7f7f7f"/><stop offset="0.5402" stop-color="#808080"/><stop offset="0.5481" stop-color="#797979"/><stop offset="0.5559" stop-color="#727272"/><stop offset="0.5637" stop-color="#757575"/><stop offset="0.5716" stop-color="#7c7c7c"/><stop offset="0.5794" stop-color="#858585"/><stop offset="0.5872" stop-color="#818181"/><stop offset="0.5950" stop-color="#777777"/><stop offset="0.6029" stop-color="#747474"/><stop offset="0.6107" stop-color="#757575"/><stop offset="0.6185" stop-color="#7e7e7e"/><stop offset="0.6264" stop-color="#7d7d7d"/><stop offset="0.6342" stop-color="#767676"/><stop offset="0.6420" stop-color="#747474"/><stop offset="0.6499" stop-color="#797979"/><stop offset="0.6577" stop-color="#818181"/><stop offset="0.6655" stop-color="#808080"/><stop offset="0.6733" stop-color="#787878"/><stop offset="0.6812" stop-color="#747474"/><stop offset="0.6890" stop-color="#787878"/><stop offset="0.6968" stop-color="#808080"/><stop offset="0.7047" stop-color="#7a7a7a"/><stop offset="0.7125" stop-color="#727272"/><stop offset="0.7203" stop-color="#747474"/><stop offset="0.7282" stop-color="#7d7d7d"/><stop offset="0.7360" stop-color="#848484"/><stop offset="0.7438" stop-color="#7a7a7a"/><stop offset="0.7516" stop-color="#727272"/><stop offset="0.7595" stop-color="#767676"/><stop offset="0.7673" stop-color="#7b7b7b"/><stop offset="0.7751" stop-color="#828282"/><stop offset="0.7830" stop-color="#7e7e7e"/><stop offset="0.7908" stop-color="#6d6d6d"/><stop offset="0.7986" stop-color="#6f6f6f"/><stop offset="0.8064" stop-color="#828282"/><stop offset="0.8143" stop-color="#828282"/><stop offset="0.8221" stop-color="#777777"/><stop offset="0.8299" stop-color="#6c6c6c"/><stop offset="0.8378" stop-color="#757575"/><stop offset="0.8456" stop-color="#7e7e7e"/><stop offset="0.8534" stop-color="#808080"/><stop offset="0.8613" stop-color="#797979"/><stop offset="0.8691" stop-color="#717171"/><stop offset="0.8769" stop-color="#757575"/><stop offset="0.8847" stop-color="#848484"/><stop offset="0.8926" stop-color="#838383"/><stop offset="0.9004" stop-color="#727272"/><stop offset="0.9082" stop-color="#6e6e6e"/><stop offset="0.9161" stop-color="#777777"/><stop offset="0.9239" stop-color="#7e7e7e"/><stop offset="0.9317" stop-color="#7c7c7c"/><stop offset="0.9395" stop-color="#777777"/><stop offset="0.9474" stop-color="#707070"/><stop offset="0.9552" stop-color="#757575"/><stop offset="0.9630" stop-color="#7f7f7f"/><stop offset="0.9709" stop-color="#7e7e7e"/><stop offset="0.9787" stop-color="#727272"/><stop offset="0.9865" stop-color="#696969"/><stop offset="0.9944" stop-color="#6e6e6e"/><stop offset="1.0000" stop-color="#7f7f7f"/></linearGradient><linearGradient id="gt3_4" gradientUnits="userSpaceOnUse" x1="1373.8" y1="0" x2="1923.0" y2="0"><stop offset="0.0000" stop-color="#adadad"/><stop offset="0.0078" stop-color="#777777"/><stop offset="0.0157" stop-color="#5b5b5b"/><stop offset="0.0235" stop-color="#5c5c5c"/><stop offset="0.0313" stop-color="#808080"/><stop offset="0.0391" stop-color="#9d9d9d"/><stop offset="0.0470" stop-color="#9a9a9a"/><stop offset="0.0548" stop-color="#6a6a6a"/><stop offset="0.0626" stop-color="#636363"/><stop offset="0.0705" stop-color="#7d7d7d"/><stop offset="0.0783" stop-color="#a3a3a3"/><stop offset="0.0861" stop-color="#868686"/><stop offset="0.0940" stop-color="#525252"/><stop offset="0.1018" stop-color="#6b6b6b"/><stop offset="0.1096" stop-color="#a3a3a3"/><stop offset="0.1174" stop-color="#9c9c9c"/><stop offset="0.1253" stop-color="#707070"/><stop offset="0.1331" stop-color="#505050"/><stop offset="0.1409" stop-color="#686868"/><stop offset="0.1488" stop-color="#adadad"/><stop offset="0.1566" stop-color="#9b9b9b"/><stop offset="0.1644" stop-color="#5d5d5d"/><stop offset="0.1723" stop-color="#535353"/><stop offset="0.1801" stop-color="#777777"/><stop offset="0.1879" stop-color="#9d9d9d"/><stop offset="0.1957" stop-color="#929292"/><stop offset="0.2036" stop-color="#737373"/><stop offset="0.2114" stop-color="#6c6c6c"/><stop offset="0.2192" stop-color="#757575"/><stop offset="0.2271" stop-color="#8e8e8e"/><stop offset="0.2349" stop-color="#969696"/><stop offset="0.2427" stop-color="#747474"/><stop offset="0.2505" stop-color="#626262"/><stop offset="0.2584" stop-color="#767676"/><stop offset="0.2662" stop-color="#8f8f8f"/><stop offset="0.2740" stop-color="#969696"/><stop offset="0.2819" stop-color="#6a6a6a"/><stop offset="0.2897" stop-color="#666666"/><stop offset="0.2975" stop-color="#838383"/><stop offset="0.3054" stop-color="#8e8e8e"/><stop offset="0.3132" stop-color="#787878"/><stop offset="0.3210" stop-color="#6c6c6c"/><stop offset="0.3288" stop-color="#797979"/><stop offset="0.3367" stop-color="#898989"/><stop offset="0.3445" stop-color="#868686"/><stop offset="0.3523" stop-color="#747474"/><stop offset="0.3602" stop-color="#6e6e6e"/><stop offset="0.3680" stop-color="#797979"/><stop offset="0.3758" stop-color="#888888"/><stop offset="0.3836" stop-color="#858585"/><stop offset="0.3915" stop-color="#797979"/><stop offset="0.3993" stop-color="#6e6e6e"/><stop offset="0.4071" stop-color="#787878"/><stop offset="0.4150" stop-color="#888888"/><stop offset="0.4228" stop-color="#868686"/><stop offset="0.4306" stop-color="#737373"/><stop offset="0.4385" stop-color="#6e6e6e"/><stop offset="0.4463" stop-color="#7f7f7f"/><stop offset="0.4541" stop-color="#8e8e8e"/><stop offset="0.4619" stop-color="#838383"/><stop offset="0.4698" stop-color="#6c6c6c"/><stop offset="0.4776" stop-color="#6d6d6d"/><stop offset="0.4854" stop-color="#858585"/><stop offset="0.4933" stop-color="#979797"/><stop offset="0.5011" stop-color="#868686"/><stop offset="0.5089" stop-color="#737373"/><stop offset="0.5168" stop-color="#6e6e6e"/><stop offset="0.5246" stop-color="#797979"/><stop offset="0.5324" stop-color="#8b8b8b"/><stop offset="0.5402" stop-color="#8e8e8e"/><stop offset="0.5481" stop-color="#7b7b7b"/><stop offset="0.5559" stop-color="#6a6a6a"/><stop offset="0.5637" stop-color="#717171"/><stop offset="0.5716" stop-color="#838383"/><stop offset="0.5794" stop-color="#9b9b9b"/><stop offset="0.5872" stop-color="#8f8f8f"/><stop offset="0.5950" stop-color="#757575"/><stop offset="0.6029" stop-color="#6e6e6e"/><stop offset="0.6107" stop-color="#707070"/><stop offset="0.6185" stop-color="#888888"/><stop offset="0.6264" stop-color="#868686"/><stop offset="0.6342" stop-color="#737373"/><stop offset="0.6420" stop-color="#707070"/><stop offset="0.6499" stop-color="#7c7c7c"/><stop offset="0.6577" stop-color="#909090"/><stop offset="0.6655" stop-color="#8e8e8e"/><stop offset="0.6733" stop-color="#797979"/><stop offset="0.6812" stop-color="#6e6e6e"/><stop offset="0.6890" stop-color="#7a7a7a"/><stop offset="0.6968" stop-color="#8e8e8e"/><stop offset="0.7047" stop-color="#7e7e7e"/><stop offset="0.7125" stop-color="#6a6a6a"/><stop offset="0.7203" stop-color="#6f6f6f"/><stop offset="0.7282" stop-color="#868686"/><stop offset="0.7360" stop-color="#969696"/><stop offset="0.7438" stop-color="#7d7d7d"/><stop offset="0.7516" stop-color="#6a6a6a"/><stop offset="0.7595" stop-color="#737373"/><stop offset="0.7673" stop-color="#818181"/><stop offset="0.7751" stop-color="#929292"/><stop offset="0.7830" stop-color="#898989"/><stop offset="0.7908" stop-color="#5e5e5e"/><stop offset="0.7986" stop-color="#616161"/><stop offset="0.8064" stop-color="#939393"/><stop offset="0.8143" stop-color="#939393"/><stop offset="0.8221" stop-color="#777777"/><stop offset="0.8299" stop-color="#5b5b5b"/><stop offset="0.8378" stop-color="#717171"/><stop offset="0.8456" stop-color="#888888"/><stop offset="0.8534" stop-color="#8d8d8d"/><stop offset="0.8613" stop-color="#7a7a7a"/><stop offset="0.8691" stop-color="#666666"/><stop offset="0.8769" stop-color="#717171"/><stop offset="0.8847" stop-color="#999999"/><stop offset="0.8926" stop-color="#969696"/><stop offset="0.9004" stop-color="#6a6a6a"/><stop offset="0.9082" stop-color="#5e5e5e"/><stop offset="0.9161" stop-color="#757575"/><stop offset="0.9239" stop-color="#878787"/><stop offset="0.9317" stop-color="#848484"/><stop offset="0.9395" stop-color="#767676"/><stop offset="0.9474" stop-color="#636363"/><stop offset="0.9552" stop-color="#727272"/><stop offset="0.9630" stop-color="#8c8c8c"/><stop offset="0.9709" stop-color="#898989"/><stop offset="0.9787" stop-color="#6a6a6a"/><stop offset="0.9865" stop-color="#535353"/><stop offset="0.9944" stop-color="#5e5e5e"/><stop offset="1.0000" stop-color="#8a8a8a"/></linearGradient><linearGradient id="gt3_5" gradientUnits="userSpaceOnUse" x1="1373.8" y1="0" x2="1923.0" y2="0"><stop offset="0.0000" stop-color="#8c8c8c"/><stop offset="0.0078" stop-color="#777777"/><stop offset="0.0157" stop-color="#6d6d6d"/><stop offset="0.0235" stop-color="#6d6d6d"/><stop offset="0.0313" stop-color="#7b7b7b"/><stop offset="0.0391" stop-color="#868686"/><stop offset="0.0470" stop-color="#858585"/><stop offset="0.0548" stop-color="#727272"/><stop offset="0.0626" stop-color="#707070"/><stop offset="0.0705" stop-color="#7a7a7a"/><stop offset="0.0783" stop-color="#888888"/><stop offset="0.0861" stop-color="#7d7d7d"/><stop offset="0.0940" stop-color="#696969"/><stop offset="0.1018" stop-color="#737373"/><stop offset="0.1096" stop-color="#888888"/><stop offset="0.1174" stop-color="#868686"/><stop offset="0.1253" stop-color="#747474"/><stop offset="0.1331" stop-color="#686868"/><stop offset="0.1409" stop-color="#717171"/><stop offset="0.1488" stop-color="#8c8c8c"/><stop offset="0.1566" stop-color="#858585"/><stop offset="0.1644" stop-color="#6d6d6d"/><stop offset="0.1723" stop-color="#696969"/><stop offset="0.1801" stop-color="#777777"/><stop offset="0.1879" stop-color="#868686"/><stop offset="0.1957" stop-color="#828282"/><stop offset="0.2036" stop-color="#767676"/><stop offset="0.2114" stop-color="#737373"/><stop offset="0.2192" stop-color="#767676"/><stop offset="0.2271" stop-color="#808080"/><stop offset="0.2349" stop-color="#838383"/><stop offset="0.2427" stop-color="#767676"/><stop offset="0.2505" stop-color="#6f6f6f"/><stop offset="0.2584" stop-color="#777777"/><stop offset="0.2662" stop-color="#818181"/><stop offset="0.2740" stop-color="#838383"/><stop offset="0.2819" stop-color="#727272"/><stop offset="0.2897" stop-color="#717171"/><stop offset="0.2975" stop-color="#7c7c7c"/><stop offset="0.3054" stop-color="#808080"/><stop offset="0.3132" stop-color="#787878"/><stop offset="0.3210" stop-color="#737373"/><stop offset="0.3288" stop-color="#787878"/><stop offset="0.3367" stop-color="#7e7e7e"/><stop offset="0.3445" stop-color="#7d7d7d"/><stop offset="0.3523" stop-color="#767676"/><stop offset="0.3602" stop-color="#747474"/><stop offset="0.3680" stop-color="#787878"/><stop offset="0.3758" stop-color="#7e7e7e"/><stop offset="0.3836" stop-color="#7d7d7d"/><stop offset="0.3915" stop-color="#787878"/><stop offset="0.3993" stop-color="#747474"/><stop offset="0.4071" stop-color="#787878"/><stop offset="0.4150" stop-color="#7e7e7e"/><stop offset="0.4228" stop-color="#7d7d7d"/><stop offset="0.4306" stop-color="#767676"/><stop offset="0.4385" stop-color="#747474"/><stop offset="0.4463" stop-color="#7b7b7b"/><stop offset="0.4541" stop-color="#808080"/><stop offset="0.4619" stop-color="#7c7c7c"/><stop offset="0.4698" stop-color="#737373"/><stop offset="0.4776" stop-color="#737373"/><stop offset="0.4854" stop-color="#7d7d7d"/><stop offset="0.4933" stop-color="#848484"/><stop offset="0.5011" stop-color="#7d7d7d"/><stop offset="0.5089" stop-color="#767676"/><stop offset="0.5168" stop-color="#747474"/><stop offset="0.5246" stop-color="#787878"/><stop offset="0.5324" stop-color="#7f7f7f"/><stop offset="0.5402" stop-color="#808080"/><stop offset="0.5481" stop-color="#797979"/><stop offset="0.5559" stop-color="#727272"/><stop offset="0.5637" stop-color="#757575"/><stop offset="0.5716" stop-color="#7c7c7c"/><stop offset="0.5794" stop-color="#858585"/><stop offset="0.5872" stop-color="#818181"/><stop offset="0.5950" stop-color="#777777"/><stop offset="0.6029" stop-color="#747474"/><stop offset="0.6107" stop-color="#757575"/><stop offset="0.6185" stop-color="#7e7e7e"/><stop offset="0.6264" stop-color="#7d7d7d"/><stop offset="0.6342" stop-color="#767676"/><stop offset="0.6420" stop-color="#747474"/><stop offset="0.6499" stop-color="#797979"/><stop offset="0.6577" stop-color="#818181"/><stop offset="0.6655" stop-color="#808080"/><stop offset="0.6733" stop-color="#787878"/><stop offset="0.6812" stop-color="#747474"/><stop offset="0.6890" stop-color="#787878"/><stop offset="0.6968" stop-color="#808080"/><stop offset="0.7047" stop-color="#7a7a7a"/><stop offset="0.7125" stop-color="#727272"/><stop offset="0.7203" stop-color="#747474"/><stop offset="0.7282" stop-color="#7d7d7d"/><stop offset="0.7360" stop-color="#848484"/><stop offset="0.7438" stop-color="#7a7a7a"/><stop offset="0.7516" stop-color="#727272"/><stop offset="0.7595" stop-color="#767676"/><stop offset="0.7673" stop-color="#7b7b7b"/><stop offset="0.7751" stop-color="#828282"/><stop offset="0.7830" stop-color="#7e7e7e"/><stop offset="0.7908" stop-color="#6d6d6d"/><stop offset="0.7986" stop-color="#6f6f6f"/><stop offset="0.8064" stop-color="#828282"/><stop offset="0.8143" stop-color="#828282"/><stop offset="0.8221" stop-color="#777777"/><stop offset="0.8299" stop-color="#6c6c6c"/><stop offset="0.8378" stop-color="#757575"/><stop offset="0.8456" stop-color="#7e7e7e"/><stop offset="0.8534" stop-color="#808080"/><stop offset="0.8613" stop-color="#797979"/><stop offset="0.8691" stop-color="#717171"/><stop offset="0.8769" stop-color="#757575"/><stop offset="0.8847" stop-color="#848484"/><stop offset="0.8926" stop-color="#838383"/><stop offset="0.9004" stop-color="#727272"/><stop offset="0.9082" stop-color="#6e6e6e"/><stop offset="0.9161" stop-color="#777777"/><stop offset="0.9239" stop-color="#7e7e7e"/><stop offset="0.9317" stop-color="#7c7c7c"/><stop offset="0.9395" stop-color="#777777"/><stop offset="0.9474" stop-color="#707070"/><stop offset="0.9552" stop-color="#757575"/><stop offset="0.9630" stop-color="#7f7f7f"/><stop offset="0.9709" stop-color="#7e7e7e"/><stop offset="0.9787" stop-color="#727272"/><stop offset="0.9865" stop-color="#696969"/><stop offset="0.9944" stop-color="#6e6e6e"/><stop offset="1.0000" stop-color="#7f7f7f"/></linearGradient><clipPath id="cpt3"><rect x="1373.80" y="42.50" width="549.20" height="354.30"/></clipPath><linearGradient id="sg1" gradientUnits="userSpaceOnUse" x1="33.0" y1="0" x2="603.7" y2="0"><stop offset="0.0000" stop-color="#f2f2f2"/><stop offset="0.0280" stop-color="#f2f2f2"/><stop offset="0.2135" stop-color="#f2f2f2"/><stop offset="0.2231" stop-color="#000000"/><stop offset="0.2836" stop-color="#000000"/><stop offset="0.2958" stop-color="#949494"/><stop offset="0.3133" stop-color="#a6a6a6"/><stop offset="0.3238" stop-color="#b8b8b8"/><stop offset="0.3379" stop-color="#999999"/><stop offset="0.3484" stop-color="#4c4c4c"/><stop offset="0.3589" stop-color="#262626"/><stop offset="0.3624" stop-color="#0a0a0a"/><stop offset="0.3765" stop-color="#0a0a0a"/><stop offset="0.3800" stop-color="#262626"/><stop offset="0.3887" stop-color="#4c4c4c"/><stop offset="0.4010" stop-color="#adadad"/><stop offset="0.4395" stop-color="#b2b2b2"/><stop offset="0.4606" stop-color="#999999"/><stop offset="0.4851" stop-color="#919191"/><stop offset="0.9720" stop-color="#8f8f8f"/><stop offset="1.0000" stop-color="#8f8f8f"/></linearGradient><linearGradient id="sg2" gradientUnits="userSpaceOnUse" x1="33.0" y1="0" x2="603.7" y2="0"><stop offset="0.0000" stop-color="#f2f2f2"/><stop offset="0.0280" stop-color="#f2f2f2"/><stop offset="0.2130" stop-color="#f2f2f2"/><stop offset="0.2225" stop-color="#000000"/><stop offset="0.2830" stop-color="#000000"/><stop offset="0.2951" stop-color="#949494"/><stop offset="0.3127" stop-color="#a6a6a6"/><stop offset="0.3232" stop-color="#b8b8b8"/><stop offset="0.3373" stop-color="#999999"/><stop offset="0.3477" stop-color="#4c4c4c"/><stop offset="0.3582" stop-color="#262626"/><stop offset="0.3618" stop-color="#0a0a0a"/><stop offset="0.3759" stop-color="#0a0a0a"/><stop offset="0.3794" stop-color="#262626"/><stop offset="0.3882" stop-color="#4c4c4c"/><stop offset="0.4004" stop-color="#adadad"/><stop offset="0.4390" stop-color="#b2b2b2"/><stop offset="0.4600" stop-color="#999999"/><stop offset="0.4845" stop-color="#919191"/><stop offset="0.9720" stop-color="#8f8f8f"/><stop offset="1.0000" stop-color="#8f8f8f"/></linearGradient><linearGradient id="sg3" gradientUnits="userSpaceOnUse" x1="33.0" y1="0" x2="603.7" y2="0"><stop offset="0.0000" stop-color="#f2f2f2"/><stop offset="0.0280" stop-color="#f2f2f2"/><stop offset="0.2124" stop-color="#f2f2f2"/><stop offset="0.2218" stop-color="#000000"/><stop offset="0.2824" stop-color="#000000"/><stop offset="0.2945" stop-color="#949494"/><stop offset="0.3120" stop-color="#a6a6a6"/><stop offset="0.3225" stop-color="#b8b8b8"/><stop offset="0.3367" stop-color="#999999"/><stop offset="0.3471" stop-color="#4c4c4c"/><stop offset="0.3576" stop-color="#262626"/><stop offset="0.3612" stop-color="#0a0a0a"/><stop offset="0.3754" stop-color="#0a0a0a"/><stop offset="0.3789" stop-color="#262626"/><stop offset="0.3876" stop-color="#4c4c4c"/><stop offset="0.3999" stop-color="#adadad"/><stop offset="0.4384" stop-color="#b2b2b2"/><stop offset="0.4595" stop-color="#999999"/><stop offset="0.4840" stop-color="#919191"/><stop offset="0.9720" stop-color="#8f8f8f"/><stop offset="1.0000" stop-color="#8f8f8f"/></linearGradient><linearGradient id="sg4" gradientUnits="userSpaceOnUse" x1="33.0" y1="0" x2="603.7" y2="0"><stop offset="0.0000" stop-color="#f2f2f2"/><stop offset="0.0280" stop-color="#f2f2f2"/><stop offset="0.2119" stop-color="#f2f2f2"/><stop offset="0.2212" stop-color="#000000"/><stop offset="0.2818" stop-color="#000000"/><stop offset="0.2938" stop-color="#949494"/><stop offset="0.3114" stop-color="#a6a6a6"/><stop offset="0.3219" stop-color="#b8b8b8"/><stop offset="0.3361" stop-color="#999999"/><stop offset="0.3464" stop-color="#4c4c4c"/><stop offset="0.3569" stop-color="#262626"/><stop offset="0.3606" stop-color="#0a0a0a"/><stop offset="0.3748" stop-color="#0a0a0a"/><stop offset="0.3783" stop-color="#262626"/><stop offset="0.3871" stop-color="#4c4c4c"/><stop offset="0.3993" stop-color="#adadad"/><stop offset="0.4379" stop-color="#b2b2b2"/><stop offset="0.4589" stop-color="#999999"/><stop offset="0.4835" stop-color="#919191"/><stop offset="0.9720" stop-color="#8f8f8f"/><stop offset="1.0000" stop-color="#8f8f8f"/></linearGradient><linearGradient id="sg5" gradientUnits="userSpaceOnUse" x1="33.0" y1="0" x2="603.7" y2="0"><stop offset="0.0000" stop-color="#f2f2f2"/><stop offset="0.0280" stop-color="#f2f2f2"/><stop offset="0.2113" stop-color="#f2f2f2"/><stop offset="0.2206" stop-color="#000000"/><stop offset="0.2812" stop-color="#000000"/><stop offset="0.2932" stop-color="#949494"/><stop offset="0.3107" stop-color="#a6a6a6"/><stop offset="0.3212" stop-color="#b8b8b8"/><stop offset="0.3355" stop-color="#999999"/><stop offset="0.3457" stop-color="#4c4c4c"/><stop offset="0.3563" stop-color="#262626"/><stop offset="0.3600" stop-color="#0a0a0a"/><stop offset="0.3743" stop-color="#0a0a0a"/><stop offset="0.3778" stop-color="#262626"/><stop offset="0.3865" stop-color="#4c4c4c"/><stop offset="0.3988" stop-color="#adadad"/><stop offset="0.4373" stop-color="#b2b2b2"/><stop offset="0.4584" stop-color="#999999"/><stop offset="0.4829" stop-color="#919191"/><stop offset="0.9720" stop-color="#8f8f8f"/><stop offset="1.0000" stop-color="#8f8f8f"/></linearGradient><linearGradient id="sg6" gradientUnits="userSpaceOnUse" x1="33.0" y1="0" x2="603.7" y2="0"><stop offset="0.0000" stop-color="#f2f2f2"/><stop offset="0.0280" stop-color="#f2f2f2"/><stop offset="0.2108" stop-color="#f2f2f2"/><stop offset="0.2199" stop-color="#000000"/><stop offset="0.2805" stop-color="#000000"/><stop offset="0.2925" stop-color="#949494"/><stop offset="0.3100" stop-color="#a6a6a6"/><stop offset="0.3205" stop-color="#b8b8b8"/><stop offset="0.3349" stop-color="#999999"/><stop offset="0.3451" stop-color="#4c4c4c"/><stop offset="0.3556" stop-color="#262626"/><stop offset="0.3594" stop-color="#0a0a0a"/><stop offset="0.3737" stop-color="#0a0a0a"/><stop offset="0.3772" stop-color="#262626"/><stop offset="0.3860" stop-color="#4c4c4c"/><stop offset="0.3982" stop-color="#adadad"/><stop offset="0.4368" stop-color="#b2b2b2"/><stop offset="0.4578" stop-color="#999999"/><stop offset="0.4824" stop-color="#919191"/><stop offset="0.9720" stop-color="#8f8f8f"/><stop offset="1.0000" stop-color="#8f8f8f"/></linearGradient><linearGradient id="sg7" gradientUnits="userSpaceOnUse" x1="33.0" y1="0" x2="603.7" y2="0"><stop offset="0.0000" stop-color="#f2f2f2"/><stop offset="0.0280" stop-color="#f2f2f2"/><stop offset="0.2102" stop-color="#f2f2f2"/><stop offset="0.2193" stop-color="#000000"/><stop offset="0.2799" stop-color="#000000"/><stop offset="0.2919" stop-color="#949494"/><stop offset="0.3094" stop-color="#a6a6a6"/><stop offset="0.3199" stop-color="#b8b8b8"/><stop offset="0.3343" stop-color="#999999"/><stop offset="0.3444" stop-color="#4c4c4c"/><stop offset="0.3549" stop-color="#262626"/><stop offset="0.3588" stop-color="#0a0a0a"/><stop offset="0.3732" stop-color="#0a0a0a"/><stop offset="0.3767" stop-color="#262626"/><stop offset="0.3854" stop-color="#4c4c4c"/><stop offset="0.3977" stop-color="#adadad"/><stop offset="0.4363" stop-color="#b2b2b2"/><stop offset="0.4573" stop-color="#999999"/><stop offset="0.4818" stop-color="#919191"/><stop offset="0.9720" stop-color="#8f8f8f"/><stop offset="1.0000" stop-color="#8f8f8f"/></linearGradient><linearGradient id="sg8" gradientUnits="userSpaceOnUse" x1="33.0" y1="0" x2="603.7" y2="0"><stop offset="0.0000" stop-color="#f2f2f2"/><stop offset="0.0280" stop-color="#f2f2f2"/><stop offset="0.2097" stop-color="#f2f2f2"/><stop offset="0.2187" stop-color="#000000"/><stop offset="0.2793" stop-color="#000000"/><stop offset="0.2912" stop-color="#949494"/><stop offset="0.3087" stop-color="#a6a6a6"/><stop offset="0.3192" stop-color="#b8b8b8"/><stop offset="0.3337" stop-color="#999999"/><stop offset="0.3438" stop-color="#4c4c4c"/><stop offset="0.3543" stop-color="#262626"/><stop offset="0.3582" stop-color="#0a0a0a"/><stop offset="0.3726" stop-color="#0a0a0a"/><stop offset="0.3761" stop-color="#262626"/><stop offset="0.3849" stop-color="#4c4c4c"/><stop offset="0.3972" stop-color="#adadad"/><stop offset="0.4357" stop-color="#b2b2b2"/><stop offset="0.4567" stop-color="#999999"/><stop offset="0.4813" stop-color="#919191"/><stop offset="0.9720" stop-color="#8f8f8f"/><stop offset="1.0000" stop-color="#8f8f8f"/></linearGradient><linearGradient id="sg9" gradientUnits="userSpaceOnUse" x1="33.0" y1="0" x2="603.7" y2="0"><stop offset="0.0000" stop-color="#f2f2f2"/><stop offset="0.0280" stop-color="#f2f2f2"/><stop offset="0.2091" stop-color="#f2f2f2"/><stop offset="0.2181" stop-color="#000000"/><stop offset="0.2787" stop-color="#000000"/><stop offset="0.2905" stop-color="#949494"/><stop offset="0.3081" stop-color="#a6a6a6"/><stop offset="0.3186" stop-color="#b8b8b8"/><stop offset="0.3331" stop-color="#999999"/><stop offset="0.3431" stop-color="#4c4c4c"/><stop offset="0.3536" stop-color="#262626"/><stop offset="0.3576" stop-color="#0a0a0a"/><stop offset="0.3721" stop-color="#0a0a0a"/><stop offset="0.3756" stop-color="#262626"/><stop offset="0.3843" stop-color="#4c4c4c"/><stop offset="0.3966" stop-color="#adadad"/><stop offset="0.4352" stop-color="#b2b2b2"/><stop offset="0.4562" stop-color="#999999"/><stop offset="0.4807" stop-color="#919191"/><stop offset="0.9720" stop-color="#8f8f8f"/><stop offset="1.0000" stop-color="#8f8f8f"/></linearGradient><linearGradient id="sg10" gradientUnits="userSpaceOnUse" x1="33.0" y1="0" x2="603.7" y2="0"><stop offset="0.0000" stop-color="#f2f2f2"/><stop offset="0.0280" stop-color="#f2f2f2"/><stop offset="0.2086" stop-color="#f2f2f2"/><stop offset="0.2174" stop-color="#000000"/><stop offset="0.2781" stop-color="#000000"/><stop offset="0.2899" stop-color="#949494"/><stop offset="0.3074" stop-color="#a6a6a6"/><stop offset="0.3179" stop-color="#b8b8b8"/><stop offset="0.3325" stop-color="#999999"/><stop offset="0.3425" stop-color="#4c4c4c"/><stop offset="0.3530" stop-color="#262626"/><stop offset="0.3570" stop-color="#0a0a0a"/><stop offset="0.3715" stop-color="#0a0a0a"/><stop offset="0.3750" stop-color="#262626"/><stop offset="0.3838" stop-color="#4c4c4c"/><stop offset="0.3961" stop-color="#adadad"/><stop offset="0.4346" stop-color="#b2b2b2"/><stop offset="0.4556" stop-color="#999999"/><stop offset="0.4802" stop-color="#919191"/><stop offset="0.9720" stop-color="#8f8f8f"/><stop offset="1.0000" stop-color="#8f8f8f"/></linearGradient><linearGradient id="sg11" gradientUnits="userSpaceOnUse" x1="33.0" y1="0" x2="603.7" y2="0"><stop offset="0.0000" stop-color="#f2f2f2"/><stop offset="0.0280" stop-color="#f2f2f2"/><stop offset="0.2080" stop-color="#f2f2f2"/><stop offset="0.2168" stop-color="#000000"/><stop offset="0.2775" stop-color="#000000"/><stop offset="0.2892" stop-color="#949494"/><stop offset="0.3068" stop-color="#a6a6a6"/><stop offset="0.3173" stop-color="#b8b8b8"/><stop offset="0.3319" stop-color="#999999"/><stop offset="0.3418" stop-color="#4c4c4c"/><stop offset="0.3523" stop-color="#262626"/><stop offset="0.3564" stop-color="#0a0a0a"/><stop offset="0.3710" stop-color="#0a0a0a"/><stop offset="0.3745" stop-color="#262626"/><stop offset="0.3832" stop-color="#4c4c4c"/><stop offset="0.3955" stop-color="#adadad"/><stop offset="0.4341" stop-color="#b2b2b2"/><stop offset="0.4551" stop-color="#999999"/><stop offset="0.4796" stop-color="#919191"/><stop offset="0.9720" stop-color="#8f8f8f"/><stop offset="1.0000" stop-color="#8f8f8f"/></linearGradient><linearGradient id="sg12" gradientUnits="userSpaceOnUse" x1="33.0" y1="0" x2="603.7" y2="0"><stop offset="0.0000" stop-color="#f2f2f2"/><stop offset="0.0280" stop-color="#f2f2f2"/><stop offset="0.2075" stop-color="#f2f2f2"/><stop offset="0.2162" stop-color="#000000"/><stop offset="0.2769" stop-color="#000000"/><stop offset="0.2886" stop-color="#949494"/><stop offset="0.3061" stop-color="#a6a6a6"/><stop offset="0.3166" stop-color="#b8b8b8"/><stop offset="0.3313" stop-color="#999999"/><stop offset="0.3411" stop-color="#4c4c4c"/><stop offset="0.3517" stop-color="#262626"/><stop offset="0.3558" stop-color="#0a0a0a"/><stop offset="0.3704" stop-color="#0a0a0a"/><stop offset="0.3739" stop-color="#262626"/><stop offset="0.3827" stop-color="#4c4c4c"/><stop offset="0.3950" stop-color="#adadad"/><stop offset="0.4335" stop-color="#b2b2b2"/><stop offset="0.4545" stop-color="#999999"/><stop offset="0.4791" stop-color="#919191"/><stop offset="0.9720" stop-color="#8f8f8f"/><stop offset="1.0000" stop-color="#8f8f8f"/></linearGradient><linearGradient id="sg13" gradientUnits="userSpaceOnUse" x1="33.0" y1="0" x2="603.7" y2="0"><stop offset="0.0000" stop-color="#f2f2f2"/><stop offset="0.0280" stop-color="#f2f2f2"/><stop offset="0.2069" stop-color="#f2f2f2"/><stop offset="0.2155" stop-color="#000000"/><stop offset="0.2763" stop-color="#000000"/><stop offset="0.2879" stop-color="#949494"/><stop offset="0.3054" stop-color="#a6a6a6"/><stop offset="0.3159" stop-color="#b8b8b8"/><stop offset="0.3307" stop-color="#999999"/><stop offset="0.3405" stop-color="#4c4c4c"/><stop offset="0.3510" stop-color="#262626"/><stop offset="0.3552" stop-color="#0a0a0a"/><stop offset="0.3699" stop-color="#0a0a0a"/><stop offset="0.3734" stop-color="#262626"/><stop offset="0.3822" stop-color="#4c4c4c"/><stop offset="0.3944" stop-color="#adadad"/><stop offset="0.4330" stop-color="#b2b2b2"/><stop offset="0.4540" stop-color="#999999"/><stop offset="0.4785" stop-color="#919191"/><stop offset="0.9720" stop-color="#8f8f8f"/><stop offset="1.0000" stop-color="#8f8f8f"/></linearGradient><linearGradient id="sg14" gradientUnits="userSpaceOnUse" x1="33.0" y1="0" x2="603.7" y2="0"><stop offset="0.0000" stop-color="#f2f2f2"/><stop offset="0.0280" stop-color="#f2f2f2"/><stop offset="0.2064" stop-color="#f2f2f2"/><stop offset="0.2149" stop-color="#000000"/><stop offset="0.2757" stop-color="#000000"/><stop offset="0.2873" stop-color="#949494"/><stop offset="0.3048" stop-color="#a6a6a6"/><stop offset="0.3153" stop-color="#b8b8b8"/><stop offset="0.3300" stop-color="#999999"/><stop offset="0.3398" stop-color="#4c4c4c"/><stop offset="0.3503" stop-color="#262626"/><stop offset="0.3546" stop-color="#0a0a0a"/><stop offset="0.3693" stop-color="#0a0a0a"/><stop offset="0.3728" stop-color="#262626"/><stop offset="0.3816" stop-color="#4c4c4c"/><stop offset="0.3939" stop-color="#adadad"/><stop offset="0.4324" stop-color="#b2b2b2"/><stop offset="0.4534" stop-color="#999999"/><stop offset="0.4780" stop-color="#919191"/><stop offset="0.9720" stop-color="#8f8f8f"/><stop offset="1.0000" stop-color="#8f8f8f"/></linearGradient><linearGradient id="sg15" gradientUnits="userSpaceOnUse" x1="33.0" y1="0" x2="603.7" y2="0"><stop offset="0.0000" stop-color="#f2f2f2"/><stop offset="0.0280" stop-color="#f2f2f2"/><stop offset="0.2058" stop-color="#f2f2f2"/><stop offset="0.2143" stop-color="#000000"/><stop offset="0.2751" stop-color="#000000"/><stop offset="0.2866" stop-color="#949494"/><stop offset="0.3041" stop-color="#a6a6a6"/><stop offset="0.3146" stop-color="#b8b8b8"/><stop offset="0.3294" stop-color="#999999"/><stop offset="0.3392" stop-color="#4c4c4c"/><stop offset="0.3497" stop-color="#262626"/><stop offset="0.3540" stop-color="#0a0a0a"/><stop offset="0.3688" stop-color="#0a0a0a"/><stop offset="0.3723" stop-color="#262626"/><stop offset="0.3811" stop-color="#4c4c4c"/><stop offset="0.3933" stop-color="#adadad"/><stop offset="0.4319" stop-color="#b2b2b2"/><stop offset="0.4529" stop-color="#999999"/><stop offset="0.4774" stop-color="#919191"/><stop offset="0.9720" stop-color="#8f8f8f"/><stop offset="1.0000" stop-color="#8f8f8f"/></linearGradient><linearGradient id="sg16" gradientUnits="userSpaceOnUse" x1="33.0" y1="0" x2="603.7" y2="0"><stop offset="0.0000" stop-color="#f2f2f2"/><stop offset="0.0280" stop-color="#f2f2f2"/><stop offset="0.2053" stop-color="#f2f2f2"/><stop offset="0.2136" stop-color="#000000"/><stop offset="0.2745" stop-color="#000000"/><stop offset="0.2859" stop-color="#949494"/><stop offset="0.3035" stop-color="#a6a6a6"/><stop offset="0.3140" stop-color="#b8b8b8"/><stop offset="0.3288" stop-color="#999999"/><stop offset="0.3385" stop-color="#4c4c4c"/><stop offset="0.3490" stop-color="#262626"/><stop offset="0.3534" stop-color="#0a0a0a"/><stop offset="0.3682" stop-color="#0a0a0a"/><stop offset="0.3717" stop-color="#262626"/><stop offset="0.3805" stop-color="#4c4c4c"/><stop offset="0.3928" stop-color="#adadad"/><stop offset="0.4313" stop-color="#b2b2b2"/><stop offset="0.4524" stop-color="#999999"/><stop offset="0.4769" stop-color="#919191"/><stop offset="0.9720" stop-color="#8f8f8f"/><stop offset="1.0000" stop-color="#8f8f8f"/></linearGradient><linearGradient id="sg17" gradientUnits="userSpaceOnUse" x1="33.0" y1="0" x2="603.7" y2="0"><stop offset="0.0000" stop-color="#f2f2f2"/><stop offset="0.0280" stop-color="#f2f2f2"/><stop offset="0.2047" stop-color="#f2f2f2"/><stop offset="0.2130" stop-color="#000000"/><stop offset="0.2739" stop-color="#000000"/><stop offset="0.2853" stop-color="#949494"/><stop offset="0.3028" stop-color="#a6a6a6"/><stop offset="0.3133" stop-color="#b8b8b8"/><stop offset="0.3282" stop-color="#999999"/><stop offset="0.3379" stop-color="#4c4c4c"/><stop offset="0.3484" stop-color="#262626"/><stop offset="0.3528" stop-color="#0a0a0a"/><stop offset="0.3677" stop-color="#0a0a0a"/><stop offset="0.3712" stop-color="#262626"/><stop offset="0.3800" stop-color="#4c4c4c"/><stop offset="0.3922" stop-color="#adadad"/><stop offset="0.4308" stop-color="#b2b2b2"/><stop offset="0.4518" stop-color="#999999"/><stop offset="0.4763" stop-color="#919191"/><stop offset="0.9720" stop-color="#8f8f8f"/><stop offset="1.0000" stop-color="#8f8f8f"/></linearGradient><linearGradient id="sg18" gradientUnits="userSpaceOnUse" x1="33.0" y1="0" x2="603.7" y2="0"><stop offset="0.0000" stop-color="#f2f2f2"/><stop offset="0.0280" stop-color="#f2f2f2"/><stop offset="0.2042" stop-color="#f2f2f2"/><stop offset="0.2124" stop-color="#000000"/><stop offset="0.2733" stop-color="#000000"/><stop offset="0.2846" stop-color="#949494"/><stop offset="0.3022" stop-color="#a6a6a6"/><stop offset="0.3127" stop-color="#b8b8b8"/><stop offset="0.3276" stop-color="#999999"/><stop offset="0.3372" stop-color="#4c4c4c"/><stop offset="0.3477" stop-color="#262626"/><stop offset="0.3522" stop-color="#0a0a0a"/><stop offset="0.3671" stop-color="#0a0a0a"/><stop offset="0.3707" stop-color="#262626"/><stop offset="0.3794" stop-color="#4c4c4c"/><stop offset="0.3917" stop-color="#adadad"/><stop offset="0.4302" stop-color="#b2b2b2"/><stop offset="0.4513" stop-color="#999999"/><stop offset="0.4758" stop-color="#919191"/><stop offset="0.9720" stop-color="#8f8f8f"/><stop offset="1.0000" stop-color="#8f8f8f"/></linearGradient><linearGradient id="sg19" gradientUnits="userSpaceOnUse" x1="33.0" y1="0" x2="603.7" y2="0"><stop offset="0.0000" stop-color="#f2f2f2"/><stop offset="0.0280" stop-color="#f2f2f2"/><stop offset="0.2036" stop-color="#f2f2f2"/><stop offset="0.2118" stop-color="#000000"/><stop offset="0.2727" stop-color="#000000"/><stop offset="0.2840" stop-color="#949494"/><stop offset="0.3015" stop-color="#a6a6a6"/><stop offset="0.3120" stop-color="#b8b8b8"/><stop offset="0.3270" stop-color="#999999"/><stop offset="0.3365" stop-color="#4c4c4c"/><stop offset="0.3471" stop-color="#262626"/><stop offset="0.3516" stop-color="#0a0a0a"/><stop offset="0.3666" stop-color="#0a0a0a"/><stop offset="0.3701" stop-color="#262626"/><stop offset="0.3789" stop-color="#4c4c4c"/><stop offset="0.3911" stop-color="#adadad"/><stop offset="0.4297" stop-color="#b2b2b2"/><stop offset="0.4507" stop-color="#999999"/><stop offset="0.4752" stop-color="#919191"/><stop offset="0.9720" stop-color="#8f8f8f"/><stop offset="1.0000" stop-color="#8f8f8f"/></linearGradient><linearGradient id="sg20" gradientUnits="userSpaceOnUse" x1="33.0" y1="0" x2="603.7" y2="0"><stop offset="0.0000" stop-color="#f2f2f2"/><stop offset="0.0280" stop-color="#f2f2f2"/><stop offset="0.2031" stop-color="#f2f2f2"/><stop offset="0.2111" stop-color="#000000"/><stop offset="0.2721" stop-color="#000000"/><stop offset="0.2833" stop-color="#949494"/><stop offset="0.3008" stop-color="#a6a6a6"/><stop offset="0.3114" stop-color="#b8b8b8"/><stop offset="0.3264" stop-color="#999999"/><stop offset="0.3359" stop-color="#4c4c4c"/><stop offset="0.3464" stop-color="#262626"/><stop offset="0.3510" stop-color="#0a0a0a"/><stop offset="0.3661" stop-color="#0a0a0a"/><stop offset="0.3696" stop-color="#262626"/><stop offset="0.3783" stop-color="#4c4c4c"/><stop offset="0.3906" stop-color="#adadad"/><stop offset="0.4291" stop-color="#b2b2b2"/><stop offset="0.4502" stop-color="#999999"/><stop offset="0.4747" stop-color="#919191"/><stop offset="0.9720" stop-color="#8f8f8f"/><stop offset="1.0000" stop-color="#8f8f8f"/></linearGradient><linearGradient id="sg21" gradientUnits="userSpaceOnUse" x1="33.0" y1="0" x2="603.7" y2="0"><stop offset="0.0000" stop-color="#f2f2f2"/><stop offset="0.0280" stop-color="#f2f2f2"/><stop offset="0.2025" stop-color="#f2f2f2"/><stop offset="0.2105" stop-color="#000000"/><stop offset="0.2715" stop-color="#000000"/><stop offset="0.2827" stop-color="#949494"/><stop offset="0.3002" stop-color="#a6a6a6"/><stop offset="0.3107" stop-color="#b8b8b8"/><stop offset="0.3258" stop-color="#999999"/><stop offset="0.3352" stop-color="#4c4c4c"/><stop offset="0.3457" stop-color="#262626"/><stop offset="0.3504" stop-color="#0a0a0a"/><stop offset="0.3655" stop-color="#0a0a0a"/><stop offset="0.3690" stop-color="#262626"/><stop offset="0.3778" stop-color="#4c4c4c"/><stop offset="0.3900" stop-color="#adadad"/><stop offset="0.4286" stop-color="#b2b2b2"/><stop offset="0.4496" stop-color="#999999"/><stop offset="0.4741" stop-color="#919191"/><stop offset="0.9720" stop-color="#8f8f8f"/><stop offset="1.0000" stop-color="#8f8f8f"/></linearGradient><linearGradient id="sg22" gradientUnits="userSpaceOnUse" x1="33.0" y1="0" x2="603.7" y2="0"><stop offset="0.0000" stop-color="#f2f2f2"/><stop offset="0.0280" stop-color="#f2f2f2"/><stop offset="0.2020" stop-color="#f2f2f2"/><stop offset="0.2099" stop-color="#000000"/><stop offset="0.2709" stop-color="#000000"/><stop offset="0.2820" stop-color="#949494"/><stop offset="0.2995" stop-color="#a6a6a6"/><stop offset="0.3100" stop-color="#b8b8b8"/><stop offset="0.3252" stop-color="#999999"/><stop offset="0.3346" stop-color="#4c4c4c"/><stop offset="0.3451" stop-color="#262626"/><stop offset="0.3498" stop-color="#0a0a0a"/><stop offset="0.3650" stop-color="#0a0a0a"/><stop offset="0.3685" stop-color="#262626"/><stop offset="0.3772" stop-color="#4c4c4c"/><stop offset="0.3895" stop-color="#adadad"/><stop offset="0.4280" stop-color="#b2b2b2"/><stop offset="0.4491" stop-color="#999999"/><stop offset="0.4736" stop-color="#919191"/><stop offset="0.9720" stop-color="#8f8f8f"/><stop offset="1.0000" stop-color="#8f8f8f"/></linearGradient><linearGradient id="sg23" gradientUnits="userSpaceOnUse" x1="33.0" y1="0" x2="603.7" y2="0"><stop offset="0.0000" stop-color="#f2f2f2"/><stop offset="0.0280" stop-color="#f2f2f2"/><stop offset="0.2015" stop-color="#f2f2f2"/><stop offset="0.2092" stop-color="#000000"/><stop offset="0.2703" stop-color="#000000"/><stop offset="0.2813" stop-color="#949494"/><stop offset="0.2989" stop-color="#a6a6a6"/><stop offset="0.3094" stop-color="#b8b8b8"/><stop offset="0.3246" stop-color="#999999"/><stop offset="0.3339" stop-color="#4c4c4c"/><stop offset="0.3444" stop-color="#262626"/><stop offset="0.3492" stop-color="#0a0a0a"/><stop offset="0.3644" stop-color="#0a0a0a"/><stop offset="0.3679" stop-color="#262626"/><stop offset="0.3767" stop-color="#4c4c4c"/><stop offset="0.3889" stop-color="#adadad"/><stop offset="0.4275" stop-color="#b2b2b2"/><stop offset="0.4485" stop-color="#999999"/><stop offset="0.4730" stop-color="#919191"/><stop offset="0.9720" stop-color="#8f8f8f"/><stop offset="1.0000" stop-color="#8f8f8f"/></linearGradient><linearGradient id="sg24" gradientUnits="userSpaceOnUse" x1="33.0" y1="0" x2="603.7" y2="0"><stop offset="0.0000" stop-color="#f2f2f2"/><stop offset="0.0280" stop-color="#f2f2f2"/><stop offset="0.2009" stop-color="#f2f2f2"/><stop offset="0.2086" stop-color="#000000"/><stop offset="0.2697" stop-color="#000000"/><stop offset="0.2807" stop-color="#949494"/><stop offset="0.2982" stop-color="#a6a6a6"/><stop offset="0.3087" stop-color="#b8b8b8"/><stop offset="0.3240" stop-color="#999999"/><stop offset="0.3333" stop-color="#4c4c4c"/><stop offset="0.3438" stop-color="#262626"/><stop offset="0.3486" stop-color="#0a0a0a"/><stop offset="0.3639" stop-color="#0a0a0a"/><stop offset="0.3674" stop-color="#262626"/><stop offset="0.3761" stop-color="#4c4c4c"/><stop offset="0.3884" stop-color="#adadad"/><stop offset="0.4269" stop-color="#b2b2b2"/><stop offset="0.4480" stop-color="#999999"/><stop offset="0.4725" stop-color="#919191"/><stop offset="0.9720" stop-color="#8f8f8f"/><stop offset="1.0000" stop-color="#8f8f8f"/></linearGradient><linearGradient id="sg25" gradientUnits="userSpaceOnUse" x1="33.0" y1="0" x2="603.7" y2="0"><stop offset="0.0000" stop-color="#f2f2f2"/><stop offset="0.0280" stop-color="#f2f2f2"/><stop offset="0.2004" stop-color="#f2f2f2"/><stop offset="0.2080" stop-color="#000000"/><stop offset="0.2691" stop-color="#000000"/><stop offset="0.2800" stop-color="#949494"/><stop offset="0.2976" stop-color="#a6a6a6"/><stop offset="0.3081" stop-color="#b8b8b8"/><stop offset="0.3234" stop-color="#999999"/><stop offset="0.3326" stop-color="#4c4c4c"/><stop offset="0.3431" stop-color="#262626"/><stop offset="0.3480" stop-color="#0a0a0a"/><stop offset="0.3633" stop-color="#0a0a0a"/><stop offset="0.3668" stop-color="#262626"/><stop offset="0.3756" stop-color="#4c4c4c"/><stop offset="0.3878" stop-color="#adadad"/><stop offset="0.4264" stop-color="#b2b2b2"/><stop offset="0.4474" stop-color="#999999"/><stop offset="0.4720" stop-color="#919191"/><stop offset="0.9720" stop-color="#8f8f8f"/><stop offset="1.0000" stop-color="#8f8f8f"/></linearGradient><linearGradient id="sg26" gradientUnits="userSpaceOnUse" x1="33.0" y1="0" x2="603.7" y2="0"><stop offset="0.0000" stop-color="#f2f2f2"/><stop offset="0.0280" stop-color="#f2f2f2"/><stop offset="0.1998" stop-color="#f2f2f2"/><stop offset="0.2074" stop-color="#000000"/><stop offset="0.2685" stop-color="#000000"/><stop offset="0.2794" stop-color="#949494"/><stop offset="0.2969" stop-color="#a6a6a6"/><stop offset="0.3074" stop-color="#b8b8b8"/><stop offset="0.3228" stop-color="#999999"/><stop offset="0.3319" stop-color="#4c4c4c"/><stop offset="0.3425" stop-color="#262626"/><stop offset="0.3474" stop-color="#0a0a0a"/><stop offset="0.3628" stop-color="#0a0a0a"/><stop offset="0.3663" stop-color="#262626"/><stop offset="0.3750" stop-color="#4c4c4c"/><stop offset="0.3873" stop-color="#adadad"/><stop offset="0.4258" stop-color="#b2b2b2"/><stop offset="0.4469" stop-color="#999999"/><stop offset="0.4714" stop-color="#919191"/><stop offset="0.9720" stop-color="#8f8f8f"/><stop offset="1.0000" stop-color="#8f8f8f"/></linearGradient><linearGradient id="sg27" gradientUnits="userSpaceOnUse" x1="33.0" y1="0" x2="603.7" y2="0"><stop offset="0.0000" stop-color="#f2f2f2"/><stop offset="0.0280" stop-color="#f2f2f2"/><stop offset="0.1993" stop-color="#f2f2f2"/><stop offset="0.2067" stop-color="#000000"/><stop offset="0.2679" stop-color="#000000"/><stop offset="0.2787" stop-color="#949494"/><stop offset="0.2962" stop-color="#a6a6a6"/><stop offset="0.3068" stop-color="#b8b8b8"/><stop offset="0.3222" stop-color="#999999"/><stop offset="0.3313" stop-color="#4c4c4c"/><stop offset="0.3418" stop-color="#262626"/><stop offset="0.3468" stop-color="#0a0a0a"/><stop offset="0.3622" stop-color="#0a0a0a"/><stop offset="0.3657" stop-color="#262626"/><stop offset="0.3745" stop-color="#4c4c4c"/><stop offset="0.3868" stop-color="#adadad"/><stop offset="0.4253" stop-color="#b2b2b2"/><stop offset="0.4463" stop-color="#999999"/><stop offset="0.4709" stop-color="#919191"/><stop offset="0.9720" stop-color="#8f8f8f"/><stop offset="1.0000" stop-color="#8f8f8f"/></linearGradient><linearGradient id="sg28" gradientUnits="userSpaceOnUse" x1="33.0" y1="0" x2="603.7" y2="0"><stop offset="0.0000" stop-color="#f2f2f2"/><stop offset="0.0280" stop-color="#f2f2f2"/><stop offset="0.1987" stop-color="#f2f2f2"/><stop offset="0.2061" stop-color="#000000"/><stop offset="0.2673" stop-color="#000000"/><stop offset="0.2781" stop-color="#949494"/><stop offset="0.2956" stop-color="#a6a6a6"/><stop offset="0.3061" stop-color="#b8b8b8"/><stop offset="0.3216" stop-color="#999999"/><stop offset="0.3306" stop-color="#4c4c4c"/><stop offset="0.3411" stop-color="#262626"/><stop offset="0.3461" stop-color="#0a0a0a"/><stop offset="0.3617" stop-color="#0a0a0a"/><stop offset="0.3652" stop-color="#262626"/><stop offset="0.3739" stop-color="#4c4c4c"/><stop offset="0.3862" stop-color="#adadad"/><stop offset="0.4248" stop-color="#b2b2b2"/><stop offset="0.4458" stop-color="#999999"/><stop offset="0.4703" stop-color="#919191"/><stop offset="0.9720" stop-color="#8f8f8f"/><stop offset="1.0000" stop-color="#8f8f8f"/></linearGradient><linearGradient id="sg29" gradientUnits="userSpaceOnUse" x1="33.0" y1="0" x2="603.7" y2="0"><stop offset="0.0000" stop-color="#f2f2f2"/><stop offset="0.0280" stop-color="#f2f2f2"/><stop offset="0.1982" stop-color="#f2f2f2"/><stop offset="0.2055" stop-color="#000000"/><stop offset="0.2667" stop-color="#000000"/><stop offset="0.2774" stop-color="#949494"/><stop offset="0.2949" stop-color="#a6a6a6"/><stop offset="0.3054" stop-color="#b8b8b8"/><stop offset="0.3210" stop-color="#999999"/><stop offset="0.3300" stop-color="#4c4c4c"/><stop offset="0.3405" stop-color="#262626"/><stop offset="0.3455" stop-color="#0a0a0a"/><stop offset="0.3611" stop-color="#0a0a0a"/><stop offset="0.3646" stop-color="#262626"/><stop offset="0.3734" stop-color="#4c4c4c"/><stop offset="0.3857" stop-color="#adadad"/><stop offset="0.4242" stop-color="#b2b2b2"/><stop offset="0.4452" stop-color="#999999"/><stop offset="0.4698" stop-color="#919191"/><stop offset="0.9720" stop-color="#8f8f8f"/><stop offset="1.0000" stop-color="#8f8f8f"/></linearGradient><linearGradient id="sg30" gradientUnits="userSpaceOnUse" x1="33.0" y1="0" x2="603.7" y2="0"><stop offset="0.0000" stop-color="#f2f2f2"/><stop offset="0.0280" stop-color="#f2f2f2"/><stop offset="0.1976" stop-color="#f2f2f2"/><stop offset="0.2048" stop-color="#000000"/><stop offset="0.2661" stop-color="#000000"/><stop offset="0.2767" stop-color="#949494"/><stop offset="0.2943" stop-color="#a6a6a6"/><stop offset="0.3048" stop-color="#b8b8b8"/><stop offset="0.3204" stop-color="#999999"/><stop offset="0.3293" stop-color="#4c4c4c"/><stop offset="0.3398" stop-color="#262626"/><stop offset="0.3449" stop-color="#0a0a0a"/><stop offset="0.3606" stop-color="#0a0a0a"/><stop offset="0.3641" stop-color="#262626"/><stop offset="0.3728" stop-color="#4c4c4c"/><stop offset="0.3851" stop-color="#adadad"/><stop offset="0.4237" stop-color="#b2b2b2"/><stop offset="0.4447" stop-color="#999999"/><stop offset="0.4692" stop-color="#919191"/><stop offset="0.9720" stop-color="#8f8f8f"/><stop offset="1.0000" stop-color="#8f8f8f"/></linearGradient><linearGradient id="sg31" gradientUnits="userSpaceOnUse" x1="33.0" y1="0" x2="603.7" y2="0"><stop offset="0.0000" stop-color="#f2f2f2"/><stop offset="0.0280" stop-color="#f2f2f2"/><stop offset="0.1971" stop-color="#f2f2f2"/><stop offset="0.2042" stop-color="#000000"/><stop offset="0.2655" stop-color="#000000"/><stop offset="0.2761" stop-color="#949494"/><stop offset="0.2936" stop-color="#a6a6a6"/><stop offset="0.3041" stop-color="#b8b8b8"/><stop offset="0.3198" stop-color="#999999"/><stop offset="0.3287" stop-color="#4c4c4c"/><stop offset="0.3392" stop-color="#262626"/><stop offset="0.3443" stop-color="#0a0a0a"/><stop offset="0.3600" stop-color="#0a0a0a"/><stop offset="0.3635" stop-color="#262626"/><stop offset="0.3723" stop-color="#4c4c4c"/><stop offset="0.3846" stop-color="#adadad"/><stop offset="0.4231" stop-color="#b2b2b2"/><stop offset="0.4441" stop-color="#999999"/><stop offset="0.4687" stop-color="#919191"/><stop offset="0.9720" stop-color="#8f8f8f"/><stop offset="1.0000" stop-color="#8f8f8f"/></linearGradient><linearGradient id="sg32" gradientUnits="userSpaceOnUse" x1="33.0" y1="0" x2="603.7" y2="0"><stop offset="0.0000" stop-color="#f2f2f2"/><stop offset="0.0280" stop-color="#f2f2f2"/><stop offset="0.1965" stop-color="#f2f2f2"/><stop offset="0.2036" stop-color="#000000"/><stop offset="0.2649" stop-color="#000000"/><stop offset="0.2754" stop-color="#949494"/><stop offset="0.2930" stop-color="#a6a6a6"/><stop offset="0.3035" stop-color="#b8b8b8"/><stop offset="0.3192" stop-color="#999999"/><stop offset="0.3280" stop-color="#4c4c4c"/><stop offset="0.3385" stop-color="#262626"/><stop offset="0.3437" stop-color="#0a0a0a"/><stop offset="0.3595" stop-color="#0a0a0a"/><stop offset="0.3630" stop-color="#262626"/><stop offset="0.3717" stop-color="#4c4c4c"/><stop offset="0.3840" stop-color="#adadad"/><stop offset="0.4226" stop-color="#b2b2b2"/><stop offset="0.4436" stop-color="#999999"/><stop offset="0.4681" stop-color="#919191"/><stop offset="0.9720" stop-color="#8f8f8f"/><stop offset="1.0000" stop-color="#8f8f8f"/></linearGradient><clipPath id="cp4"><rect x="49.00" y="518.00" width="538.70" height="347.00"/></clipPath><filter id="nzBot4" x="0" y="0" width="1" height="1" color-interpolation-filters="sRGB">
<feFlood x="33" y="518" width="1" height="1" flood-color="#fff" result="fl"/>
<feComposite in="fl" x="33" y="518" width="5" height="1" result="fl2"/>
<feTile in="fl2" result="tile"/>
<feTurbulence type="fractalNoise" baseFrequency="0.0004 0.8" numOctaves="1" seed="16" result="rn"/>
<feColorMatrix in="rn" type="matrix" values="1 0 0 0 0  0 0 0 0 0.5  0 0 0 0 0  0 0 0 0 1" result="dm"/>
<feDisplacementMap in="SourceGraphic" in2="dm" scale="26" xChannelSelector="R" yChannelSelector="G" result="disp0"/>
<feComposite in="disp0" in2="tile" operator="in" result="dsamp"/>
<feMorphology in="dsamp" operator="dilate" radius="2 0" result="disp"/>
<feTurbulence type="fractalNoise" baseFrequency="0.12 0.004" numOctaves="1" seed="12" result="tb"/>
<feColorMatrix in="tb" type="matrix" values="1 0 0 0 0  1 0 0 0 0  1 0 0 0 0  0 0 0 0 1" result="gb"/>
<feComponentTransfer in="gb" result="gbs"><feFuncR type="linear" slope="0.2" intercept="0.4"/><feFuncG type="linear" slope="0.2" intercept="0.4"/><feFuncB type="linear" slope="0.2" intercept="0.4"/></feComponentTransfer>
<feBlend in="gbs" in2="disp" mode="overlay" result="sb"/>
<feTurbulence type="fractalNoise" baseFrequency="0.06 0.75" numOctaves="2" seed="7" result="t"/>
<feColorMatrix in="t" type="matrix" values="1 0 0 0 0  1 0 0 0 0  1 0 0 0 0  0 0 0 0 1" result="g"/>
<feComposite in="g" in2="tile" operator="in" result="samp"/>
<feMorphology in="samp" operator="dilate" radius="2 0" result="cells"/>
<feComponentTransfer in="cells" result="gs"><feFuncR type="linear" slope="0.62" intercept="0.19"/><feFuncG type="linear" slope="0.62" intercept="0.19"/><feFuncB type="linear" slope="0.62" intercept="0.19"/></feComponentTransfer>
<feBlend in="gs" in2="sb" mode="overlay" result="r1"/>
<feTurbulence type="fractalNoise" baseFrequency="0.07 0.5" numOctaves="2" seed="27" result="t2"/>
<feColorMatrix in="t2" type="matrix" values="1 0 0 0 0  1 0 0 0 0  1 0 0 0 0  0 0 0 0 1" result="g2"/>
<feComposite in="g2" in2="tile" operator="in" result="samp2"/>
<feMorphology in="samp2" operator="dilate" radius="2 0" result="cells2"/>
<feComponentTransfer in="cells2" result="dk"><feFuncR type="table" tableValues="0.55 0.62 0.8 1 1 1 1 1"/><feFuncG type="table" tableValues="0.55 0.62 0.8 1 1 1 1 1"/><feFuncB type="table" tableValues="0.55 0.62 0.8 1 1 1 1 1"/></feComponentTransfer>
<feBlend in="dk" in2="r1" mode="multiply"/>
</filter><linearGradient id="sg33" gradientUnits="userSpaceOnUse" x1="699.0" y1="0" x2="1270.0" y2="0"><stop offset="0.0000" stop-color="#f2f2f2"/><stop offset="0.0280" stop-color="#f2f2f2"/><stop offset="0.2082" stop-color="#f2f2f2"/><stop offset="0.2203" stop-color="#000000"/><stop offset="0.2800" stop-color="#000000"/><stop offset="0.2922" stop-color="#999999"/><stop offset="0.3097" stop-color="#b8b8b8"/><stop offset="0.3324" stop-color="#a3a3a3"/><stop offset="0.3447" stop-color="#4c4c4c"/><stop offset="0.3552" stop-color="#262626"/><stop offset="0.3605" stop-color="#0a0a0a"/><stop offset="0.3764" stop-color="#0a0a0a"/><stop offset="0.3799" stop-color="#262626"/><stop offset="0.3904" stop-color="#4c4c4c"/><stop offset="0.4026" stop-color="#b2b2b2"/><stop offset="0.4430" stop-color="#b2b2b2"/><stop offset="0.4605" stop-color="#919191"/><stop offset="0.9720" stop-color="#8f8f8f"/><stop offset="1.0000" stop-color="#8f8f8f"/></linearGradient><linearGradient id="sg34" gradientUnits="userSpaceOnUse" x1="699.0" y1="0" x2="1270.0" y2="0"><stop offset="0.0000" stop-color="#f2f2f2"/><stop offset="0.0280" stop-color="#f2f2f2"/><stop offset="0.2077" stop-color="#f2f2f2"/><stop offset="0.2197" stop-color="#000000"/><stop offset="0.2795" stop-color="#000000"/><stop offset="0.2916" stop-color="#999999"/><stop offset="0.3091" stop-color="#b8b8b8"/><stop offset="0.3318" stop-color="#a3a3a3"/><stop offset="0.3440" stop-color="#4c4c4c"/><stop offset="0.3545" stop-color="#262626"/><stop offset="0.3599" stop-color="#0a0a0a"/><stop offset="0.3760" stop-color="#0a0a0a"/><stop offset="0.3796" stop-color="#262626"/><stop offset="0.3901" stop-color="#4c4c4c"/><stop offset="0.4022" stop-color="#b2b2b2"/><stop offset="0.4429" stop-color="#b2b2b2"/><stop offset="0.4604" stop-color="#919191"/><stop offset="0.9720" stop-color="#8f8f8f"/><stop offset="1.0000" stop-color="#8f8f8f"/></linearGradient><linearGradient id="sg35" gradientUnits="userSpaceOnUse" x1="699.0" y1="0" x2="1270.0" y2="0"><stop offset="0.0000" stop-color="#f2f2f2"/><stop offset="0.0280" stop-color="#f2f2f2"/><stop offset="0.2072" stop-color="#f2f2f2"/><stop offset="0.2190" stop-color="#000000"/><stop offset="0.2790" stop-color="#000000"/><stop offset="0.2911" stop-color="#999999"/><stop offset="0.3085" stop-color="#b8b8b8"/><stop offset="0.3312" stop-color="#a3a3a3"/><stop offset="0.3434" stop-color="#4c4c4c"/><stop offset="0.3539" stop-color="#262626"/><stop offset="0.3593" stop-color="#0a0a0a"/><stop offset="0.3757" stop-color="#0a0a0a"/><stop offset="0.3794" stop-color="#262626"/><stop offset="0.3899" stop-color="#4c4c4c"/><stop offset="0.4018" stop-color="#b2b2b2"/><stop offset="0.4428" stop-color="#b2b2b2"/><stop offset="0.4603" stop-color="#919191"/><stop offset="0.9720" stop-color="#8f8f8f"/><stop offset="1.0000" stop-color="#8f8f8f"/></linearGradient><linearGradient id="sg36" gradientUnits="userSpaceOnUse" x1="699.0" y1="0" x2="1270.0" y2="0"><stop offset="0.0000" stop-color="#f2f2f2"/><stop offset="0.0280" stop-color="#f2f2f2"/><stop offset="0.2067" stop-color="#f2f2f2"/><stop offset="0.2184" stop-color="#000000"/><stop offset="0.2785" stop-color="#000000"/><stop offset="0.2906" stop-color="#999999"/><stop offset="0.3079" stop-color="#b8b8b8"/><stop offset="0.3306" stop-color="#a3a3a3"/><stop offset="0.3427" stop-color="#4c4c4c"/><stop offset="0.3532" stop-color="#262626"/><stop offset="0.3587" stop-color="#0a0a0a"/><stop offset="0.3754" stop-color="#0a0a0a"/><stop offset="0.3791" stop-color="#262626"/><stop offset="0.3896" stop-color="#4c4c4c"/><stop offset="0.4015" stop-color="#b2b2b2"/><stop offset="0.4427" stop-color="#b2b2b2"/><stop offset="0.4602" stop-color="#919191"/><stop offset="0.9720" stop-color="#8f8f8f"/><stop offset="1.0000" stop-color="#8f8f8f"/></linearGradient><linearGradient id="sg37" gradientUnits="userSpaceOnUse" x1="699.0" y1="0" x2="1270.0" y2="0"><stop offset="0.0000" stop-color="#f2f2f2"/><stop offset="0.0280" stop-color="#f2f2f2"/><stop offset="0.2062" stop-color="#f2f2f2"/><stop offset="0.2177" stop-color="#000000"/><stop offset="0.2780" stop-color="#000000"/><stop offset="0.2900" stop-color="#999999"/><stop offset="0.3073" stop-color="#b8b8b8"/><stop offset="0.3300" stop-color="#a3a3a3"/><stop offset="0.3421" stop-color="#4c4c4c"/><stop offset="0.3526" stop-color="#262626"/><stop offset="0.3581" stop-color="#0a0a0a"/><stop offset="0.3751" stop-color="#0a0a0a"/><stop offset="0.3788" stop-color="#262626"/><stop offset="0.3893" stop-color="#4c4c4c"/><stop offset="0.4011" stop-color="#b2b2b2"/><stop offset="0.4426" stop-color="#b2b2b2"/><stop offset="0.4601" stop-color="#919191"/><stop offset="0.9720" stop-color="#8f8f8f"/><stop offset="1.0000" stop-color="#8f8f8f"/></linearGradient><linearGradient id="sg38" gradientUnits="userSpaceOnUse" x1="699.0" y1="0" x2="1270.0" y2="0"><stop offset="0.0000" stop-color="#f2f2f2"/><stop offset="0.0280" stop-color="#f2f2f2"/><stop offset="0.2057" stop-color="#f2f2f2"/><stop offset="0.2171" stop-color="#000000"/><stop offset="0.2775" stop-color="#000000"/><stop offset="0.2895" stop-color="#999999"/><stop offset="0.3067" stop-color="#b8b8b8"/><stop offset="0.3294" stop-color="#a3a3a3"/><stop offset="0.3414" stop-color="#4c4c4c"/><stop offset="0.3519" stop-color="#262626"/><stop offset="0.3575" stop-color="#0a0a0a"/><stop offset="0.3747" stop-color="#0a0a0a"/><stop offset="0.3785" stop-color="#262626"/><stop offset="0.3890" stop-color="#4c4c4c"/><stop offset="0.4007" stop-color="#b2b2b2"/><stop offset="0.4425" stop-color="#b2b2b2"/><stop offset="0.4600" stop-color="#919191"/><stop offset="0.9720" stop-color="#8f8f8f"/><stop offset="1.0000" stop-color="#8f8f8f"/></linearGradient><linearGradient id="sg39" gradientUnits="userSpaceOnUse" x1="699.0" y1="0" x2="1270.0" y2="0"><stop offset="0.0000" stop-color="#f2f2f2"/><stop offset="0.0280" stop-color="#f2f2f2"/><stop offset="0.2052" stop-color="#f2f2f2"/><stop offset="0.2164" stop-color="#000000"/><stop offset="0.2770" stop-color="#000000"/><stop offset="0.2889" stop-color="#999999"/><stop offset="0.3061" stop-color="#b8b8b8"/><stop offset="0.3288" stop-color="#a3a3a3"/><stop offset="0.3407" stop-color="#4c4c4c"/><stop offset="0.3512" stop-color="#262626"/><stop offset="0.3569" stop-color="#0a0a0a"/><stop offset="0.3744" stop-color="#0a0a0a"/><stop offset="0.3783" stop-color="#262626"/><stop offset="0.3888" stop-color="#4c4c4c"/><stop offset="0.4003" stop-color="#b2b2b2"/><stop offset="0.4424" stop-color="#b2b2b2"/><stop offset="0.4599" stop-color="#919191"/><stop offset="0.9720" stop-color="#8f8f8f"/><stop offset="1.0000" stop-color="#8f8f8f"/></linearGradient><linearGradient id="sg40" gradientUnits="userSpaceOnUse" x1="699.0" y1="0" x2="1270.0" y2="0"><stop offset="0.0000" stop-color="#f2f2f2"/><stop offset="0.0280" stop-color="#f2f2f2"/><stop offset="0.2047" stop-color="#f2f2f2"/><stop offset="0.2157" stop-color="#000000"/><stop offset="0.2765" stop-color="#000000"/><stop offset="0.2884" stop-color="#999999"/><stop offset="0.3055" stop-color="#b8b8b8"/><stop offset="0.3282" stop-color="#a3a3a3"/><stop offset="0.3401" stop-color="#4c4c4c"/><stop offset="0.3506" stop-color="#262626"/><stop offset="0.3563" stop-color="#0a0a0a"/><stop offset="0.3741" stop-color="#0a0a0a"/><stop offset="0.3780" stop-color="#262626"/><stop offset="0.3885" stop-color="#4c4c4c"/><stop offset="0.3999" stop-color="#b2b2b2"/><stop offset="0.4423" stop-color="#b2b2b2"/><stop offset="0.4598" stop-color="#919191"/><stop offset="0.9720" stop-color="#8f8f8f"/><stop offset="1.0000" stop-color="#8f8f8f"/></linearGradient><linearGradient id="sg41" gradientUnits="userSpaceOnUse" x1="699.0" y1="0" x2="1270.0" y2="0"><stop offset="0.0000" stop-color="#f2f2f2"/><stop offset="0.0280" stop-color="#f2f2f2"/><stop offset="0.2042" stop-color="#f2f2f2"/><stop offset="0.2151" stop-color="#000000"/><stop offset="0.2760" stop-color="#000000"/><stop offset="0.2878" stop-color="#999999"/><stop offset="0.3049" stop-color="#b8b8b8"/><stop offset="0.3276" stop-color="#a3a3a3"/><stop offset="0.3394" stop-color="#4c4c4c"/><stop offset="0.3499" stop-color="#262626"/><stop offset="0.3557" stop-color="#0a0a0a"/><stop offset="0.3737" stop-color="#0a0a0a"/><stop offset="0.3777" stop-color="#262626"/><stop offset="0.3882" stop-color="#4c4c4c"/><stop offset="0.3995" stop-color="#b2b2b2"/><stop offset="0.4422" stop-color="#b2b2b2"/><stop offset="0.4597" stop-color="#919191"/><stop offset="0.9720" stop-color="#8f8f8f"/><stop offset="1.0000" stop-color="#8f8f8f"/></linearGradient><linearGradient id="sg42" gradientUnits="userSpaceOnUse" x1="699.0" y1="0" x2="1270.0" y2="0"><stop offset="0.0000" stop-color="#f2f2f2"/><stop offset="0.0280" stop-color="#f2f2f2"/><stop offset="0.2037" stop-color="#f2f2f2"/><stop offset="0.2144" stop-color="#000000"/><stop offset="0.2755" stop-color="#000000"/><stop offset="0.2873" stop-color="#999999"/><stop offset="0.3043" stop-color="#b8b8b8"/><stop offset="0.3270" stop-color="#a3a3a3"/><stop offset="0.3388" stop-color="#4c4c4c"/><stop offset="0.3493" stop-color="#262626"/><stop offset="0.3551" stop-color="#0a0a0a"/><stop offset="0.3734" stop-color="#0a0a0a"/><stop offset="0.3774" stop-color="#262626"/><stop offset="0.3879" stop-color="#4c4c4c"/><stop offset="0.3992" stop-color="#b2b2b2"/><stop offset="0.4420" stop-color="#b2b2b2"/><stop offset="0.4596" stop-color="#919191"/><stop offset="0.9720" stop-color="#8f8f8f"/><stop offset="1.0000" stop-color="#8f8f8f"/></linearGradient><linearGradient id="sg43" gradientUnits="userSpaceOnUse" x1="699.0" y1="0" x2="1270.0" y2="0"><stop offset="0.0000" stop-color="#f2f2f2"/><stop offset="0.0280" stop-color="#f2f2f2"/><stop offset="0.2032" stop-color="#f2f2f2"/><stop offset="0.2138" stop-color="#000000"/><stop offset="0.2750" stop-color="#000000"/><stop offset="0.2867" stop-color="#999999"/><stop offset="0.3037" stop-color="#b8b8b8"/><stop offset="0.3264" stop-color="#a3a3a3"/><stop offset="0.3381" stop-color="#4c4c4c"/><stop offset="0.3486" stop-color="#262626"/><stop offset="0.3544" stop-color="#0a0a0a"/><stop offset="0.3731" stop-color="#0a0a0a"/><stop offset="0.3772" stop-color="#262626"/><stop offset="0.3877" stop-color="#4c4c4c"/><stop offset="0.3988" stop-color="#b2b2b2"/><stop offset="0.4419" stop-color="#b2b2b2"/><stop offset="0.4594" stop-color="#919191"/><stop offset="0.9720" stop-color="#8f8f8f"/><stop offset="1.0000" stop-color="#8f8f8f"/></linearGradient><linearGradient id="sg44" gradientUnits="userSpaceOnUse" x1="699.0" y1="0" x2="1270.0" y2="0"><stop offset="0.0000" stop-color="#f2f2f2"/><stop offset="0.0280" stop-color="#f2f2f2"/><stop offset="0.2027" stop-color="#f2f2f2"/><stop offset="0.2131" stop-color="#000000"/><stop offset="0.2745" stop-color="#000000"/><stop offset="0.2862" stop-color="#999999"/><stop offset="0.3031" stop-color="#b8b8b8"/><stop offset="0.3258" stop-color="#a3a3a3"/><stop offset="0.3375" stop-color="#4c4c4c"/><stop offset="0.3480" stop-color="#262626"/><stop offset="0.3538" stop-color="#0a0a0a"/><stop offset="0.3728" stop-color="#0a0a0a"/><stop offset="0.3769" stop-color="#262626"/><stop offset="0.3874" stop-color="#4c4c4c"/><stop offset="0.3984" stop-color="#b2b2b2"/><stop offset="0.4418" stop-color="#b2b2b2"/><stop offset="0.4593" stop-color="#919191"/><stop offset="0.9720" stop-color="#8f8f8f"/><stop offset="1.0000" stop-color="#8f8f8f"/></linearGradient><linearGradient id="sg45" gradientUnits="userSpaceOnUse" x1="699.0" y1="0" x2="1270.0" y2="0"><stop offset="0.0000" stop-color="#f2f2f2"/><stop offset="0.0280" stop-color="#f2f2f2"/><stop offset="0.2022" stop-color="#f2f2f2"/><stop offset="0.2125" stop-color="#000000"/><stop offset="0.2741" stop-color="#000000"/><stop offset="0.2856" stop-color="#999999"/><stop offset="0.3025" stop-color="#b8b8b8"/><stop offset="0.3252" stop-color="#a3a3a3"/><stop offset="0.3368" stop-color="#4c4c4c"/><stop offset="0.3473" stop-color="#262626"/><stop offset="0.3532" stop-color="#0a0a0a"/><stop offset="0.3724" stop-color="#0a0a0a"/><stop offset="0.3766" stop-color="#262626"/><stop offset="0.3871" stop-color="#4c4c4c"/><stop offset="0.3980" stop-color="#b2b2b2"/><stop offset="0.4417" stop-color="#b2b2b2"/><stop offset="0.4592" stop-color="#919191"/><stop offset="0.9720" stop-color="#8f8f8f"/><stop offset="1.0000" stop-color="#8f8f8f"/></linearGradient><linearGradient id="sg46" gradientUnits="userSpaceOnUse" x1="699.0" y1="0" x2="1270.0" y2="0"><stop offset="0.0000" stop-color="#f2f2f2"/><stop offset="0.0280" stop-color="#f2f2f2"/><stop offset="0.2018" stop-color="#f2f2f2"/><stop offset="0.2118" stop-color="#000000"/><stop offset="0.2736" stop-color="#000000"/><stop offset="0.2851" stop-color="#999999"/><stop offset="0.3019" stop-color="#b8b8b8"/><stop offset="0.3246" stop-color="#a3a3a3"/><stop offset="0.3361" stop-color="#4c4c4c"/><stop offset="0.3467" stop-color="#262626"/><stop offset="0.3526" stop-color="#0a0a0a"/><stop offset="0.3721" stop-color="#0a0a0a"/><stop offset="0.3763" stop-color="#262626"/><stop offset="0.3868" stop-color="#4c4c4c"/><stop offset="0.3976" stop-color="#b2b2b2"/><stop offset="0.4416" stop-color="#b2b2b2"/><stop offset="0.4591" stop-color="#919191"/><stop offset="0.9720" stop-color="#8f8f8f"/><stop offset="1.0000" stop-color="#8f8f8f"/></linearGradient><linearGradient id="sg47" gradientUnits="userSpaceOnUse" x1="699.0" y1="0" x2="1270.0" y2="0"><stop offset="0.0000" stop-color="#f2f2f2"/><stop offset="0.0280" stop-color="#f2f2f2"/><stop offset="0.2013" stop-color="#f2f2f2"/><stop offset="0.2111" stop-color="#000000"/><stop offset="0.2731" stop-color="#000000"/><stop offset="0.2845" stop-color="#999999"/><stop offset="0.3013" stop-color="#b8b8b8"/><stop offset="0.3240" stop-color="#a3a3a3"/><stop offset="0.3355" stop-color="#4c4c4c"/><stop offset="0.3460" stop-color="#262626"/><stop offset="0.3520" stop-color="#0a0a0a"/><stop offset="0.3718" stop-color="#0a0a0a"/><stop offset="0.3761" stop-color="#262626"/><stop offset="0.3866" stop-color="#4c4c4c"/><stop offset="0.3972" stop-color="#b2b2b2"/><stop offset="0.4415" stop-color="#b2b2b2"/><stop offset="0.4590" stop-color="#919191"/><stop offset="0.9720" stop-color="#8f8f8f"/><stop offset="1.0000" stop-color="#8f8f8f"/></linearGradient><linearGradient id="sg48" gradientUnits="userSpaceOnUse" x1="699.0" y1="0" x2="1270.0" y2="0"><stop offset="0.0000" stop-color="#f2f2f2"/><stop offset="0.0280" stop-color="#f2f2f2"/><stop offset="0.2008" stop-color="#f2f2f2"/><stop offset="0.2105" stop-color="#000000"/><stop offset="0.2726" stop-color="#000000"/><stop offset="0.2840" stop-color="#999999"/><stop offset="0.3007" stop-color="#b8b8b8"/><stop offset="0.3234" stop-color="#a3a3a3"/><stop offset="0.3348" stop-color="#4c4c4c"/><stop offset="0.3453" stop-color="#262626"/><stop offset="0.3514" stop-color="#0a0a0a"/><stop offset="0.3714" stop-color="#0a0a0a"/><stop offset="0.3758" stop-color="#262626"/><stop offset="0.3863" stop-color="#4c4c4c"/><stop offset="0.3969" stop-color="#b2b2b2"/><stop offset="0.4414" stop-color="#b2b2b2"/><stop offset="0.4589" stop-color="#919191"/><stop offset="0.9720" stop-color="#8f8f8f"/><stop offset="1.0000" stop-color="#8f8f8f"/></linearGradient><linearGradient id="sg49" gradientUnits="userSpaceOnUse" x1="699.0" y1="0" x2="1270.0" y2="0"><stop offset="0.0000" stop-color="#f2f2f2"/><stop offset="0.0280" stop-color="#f2f2f2"/><stop offset="0.2003" stop-color="#f2f2f2"/><stop offset="0.2098" stop-color="#000000"/><stop offset="0.2721" stop-color="#000000"/><stop offset="0.2834" stop-color="#999999"/><stop offset="0.3000" stop-color="#b8b8b8"/><stop offset="0.3228" stop-color="#a3a3a3"/><stop offset="0.3342" stop-color="#4c4c4c"/><stop offset="0.3447" stop-color="#262626"/><stop offset="0.3508" stop-color="#0a0a0a"/><stop offset="0.3711" stop-color="#0a0a0a"/><stop offset="0.3755" stop-color="#262626"/><stop offset="0.3860" stop-color="#4c4c4c"/><stop offset="0.3965" stop-color="#b2b2b2"/><stop offset="0.4413" stop-color="#b2b2b2"/><stop offset="0.4588" stop-color="#919191"/><stop offset="0.9720" stop-color="#8f8f8f"/><stop offset="1.0000" stop-color="#8f8f8f"/></linearGradient><linearGradient id="sg50" gradientUnits="userSpaceOnUse" x1="699.0" y1="0" x2="1270.0" y2="0"><stop offset="0.0000" stop-color="#f2f2f2"/><stop offset="0.0280" stop-color="#f2f2f2"/><stop offset="0.1998" stop-color="#f2f2f2"/><stop offset="0.2092" stop-color="#000000"/><stop offset="0.2716" stop-color="#000000"/><stop offset="0.2829" stop-color="#999999"/><stop offset="0.2994" stop-color="#b8b8b8"/><stop offset="0.3222" stop-color="#a3a3a3"/><stop offset="0.3335" stop-color="#4c4c4c"/><stop offset="0.3440" stop-color="#262626"/><stop offset="0.3502" stop-color="#0a0a0a"/><stop offset="0.3708" stop-color="#0a0a0a"/><stop offset="0.3752" stop-color="#262626"/><stop offset="0.3858" stop-color="#4c4c4c"/><stop offset="0.3961" stop-color="#b2b2b2"/><stop offset="0.4412" stop-color="#b2b2b2"/><stop offset="0.4587" stop-color="#919191"/><stop offset="0.9720" stop-color="#8f8f8f"/><stop offset="1.0000" stop-color="#8f8f8f"/></linearGradient><linearGradient id="sg51" gradientUnits="userSpaceOnUse" x1="699.0" y1="0" x2="1270.0" y2="0"><stop offset="0.0000" stop-color="#f2f2f2"/><stop offset="0.0280" stop-color="#f2f2f2"/><stop offset="0.1993" stop-color="#f2f2f2"/><stop offset="0.2085" stop-color="#000000"/><stop offset="0.2711" stop-color="#000000"/><stop offset="0.2823" stop-color="#999999"/><stop offset="0.2988" stop-color="#b8b8b8"/><stop offset="0.3216" stop-color="#a3a3a3"/><stop offset="0.3329" stop-color="#4c4c4c"/><stop offset="0.3434" stop-color="#262626"/><stop offset="0.3496" stop-color="#0a0a0a"/><stop offset="0.3705" stop-color="#0a0a0a"/><stop offset="0.3750" stop-color="#262626"/><stop offset="0.3855" stop-color="#4c4c4c"/><stop offset="0.3957" stop-color="#b2b2b2"/><stop offset="0.4411" stop-color="#b2b2b2"/><stop offset="0.4586" stop-color="#919191"/><stop offset="0.9720" stop-color="#8f8f8f"/><stop offset="1.0000" stop-color="#8f8f8f"/></linearGradient><linearGradient id="sg52" gradientUnits="userSpaceOnUse" x1="699.0" y1="0" x2="1270.0" y2="0"><stop offset="0.0000" stop-color="#f2f2f2"/><stop offset="0.0280" stop-color="#f2f2f2"/><stop offset="0.1988" stop-color="#f2f2f2"/><stop offset="0.2079" stop-color="#000000"/><stop offset="0.2706" stop-color="#000000"/><stop offset="0.2818" stop-color="#999999"/><stop offset="0.2982" stop-color="#b8b8b8"/><stop offset="0.3210" stop-color="#a3a3a3"/><stop offset="0.3322" stop-color="#4c4c4c"/><stop offset="0.3427" stop-color="#262626"/><stop offset="0.3490" stop-color="#0a0a0a"/><stop offset="0.3701" stop-color="#0a0a0a"/><stop offset="0.3747" stop-color="#262626"/><stop offset="0.3852" stop-color="#4c4c4c"/><stop offset="0.3953" stop-color="#b2b2b2"/><stop offset="0.4409" stop-color="#b2b2b2"/><stop offset="0.4585" stop-color="#919191"/><stop offset="0.9720" stop-color="#8f8f8f"/><stop offset="1.0000" stop-color="#8f8f8f"/></linearGradient><linearGradient id="sg53" gradientUnits="userSpaceOnUse" x1="699.0" y1="0" x2="1270.0" y2="0"><stop offset="0.0000" stop-color="#f2f2f2"/><stop offset="0.0280" stop-color="#f2f2f2"/><stop offset="0.1983" stop-color="#f2f2f2"/><stop offset="0.2072" stop-color="#000000"/><stop offset="0.2701" stop-color="#000000"/><stop offset="0.2812" stop-color="#999999"/><stop offset="0.2976" stop-color="#b8b8b8"/><stop offset="0.3204" stop-color="#a3a3a3"/><stop offset="0.3315" stop-color="#4c4c4c"/><stop offset="0.3421" stop-color="#262626"/><stop offset="0.3484" stop-color="#0a0a0a"/><stop offset="0.3698" stop-color="#0a0a0a"/><stop offset="0.3744" stop-color="#262626"/><stop offset="0.3849" stop-color="#4c4c4c"/><stop offset="0.3949" stop-color="#b2b2b2"/><stop offset="0.4408" stop-color="#b2b2b2"/><stop offset="0.4584" stop-color="#919191"/><stop offset="0.9720" stop-color="#8f8f8f"/><stop offset="1.0000" stop-color="#8f8f8f"/></linearGradient><linearGradient id="sg54" gradientUnits="userSpaceOnUse" x1="699.0" y1="0" x2="1270.0" y2="0"><stop offset="0.0000" stop-color="#f2f2f2"/><stop offset="0.0280" stop-color="#f2f2f2"/><stop offset="0.1978" stop-color="#f2f2f2"/><stop offset="0.2065" stop-color="#000000"/><stop offset="0.2696" stop-color="#000000"/><stop offset="0.2807" stop-color="#999999"/><stop offset="0.2970" stop-color="#b8b8b8"/><stop offset="0.3198" stop-color="#a3a3a3"/><stop offset="0.3309" stop-color="#4c4c4c"/><stop offset="0.3414" stop-color="#262626"/><stop offset="0.3478" stop-color="#0a0a0a"/><stop offset="0.3695" stop-color="#0a0a0a"/><stop offset="0.3742" stop-color="#262626"/><stop offset="0.3847" stop-color="#4c4c4c"/><stop offset="0.3946" stop-color="#b2b2b2"/><stop offset="0.4407" stop-color="#b2b2b2"/><stop offset="0.4582" stop-color="#919191"/><stop offset="0.9720" stop-color="#8f8f8f"/><stop offset="1.0000" stop-color="#8f8f8f"/></linearGradient><linearGradient id="sg55" gradientUnits="userSpaceOnUse" x1="699.0" y1="0" x2="1270.0" y2="0"><stop offset="0.0000" stop-color="#f2f2f2"/><stop offset="0.0280" stop-color="#f2f2f2"/><stop offset="0.1973" stop-color="#f2f2f2"/><stop offset="0.2059" stop-color="#000000"/><stop offset="0.2691" stop-color="#000000"/><stop offset="0.2802" stop-color="#999999"/><stop offset="0.2964" stop-color="#b8b8b8"/><stop offset="0.3192" stop-color="#a3a3a3"/><stop offset="0.3302" stop-color="#4c4c4c"/><stop offset="0.3407" stop-color="#262626"/><stop offset="0.3472" stop-color="#0a0a0a"/><stop offset="0.3691" stop-color="#0a0a0a"/><stop offset="0.3739" stop-color="#262626"/><stop offset="0.3844" stop-color="#4c4c4c"/><stop offset="0.3942" stop-color="#b2b2b2"/><stop offset="0.4406" stop-color="#b2b2b2"/><stop offset="0.4581" stop-color="#919191"/><stop offset="0.9720" stop-color="#8f8f8f"/><stop offset="1.0000" stop-color="#8f8f8f"/></linearGradient><linearGradient id="sg56" gradientUnits="userSpaceOnUse" x1="699.0" y1="0" x2="1270.0" y2="0"><stop offset="0.0000" stop-color="#f2f2f2"/><stop offset="0.0280" stop-color="#f2f2f2"/><stop offset="0.1968" stop-color="#f2f2f2"/><stop offset="0.2052" stop-color="#000000"/><stop offset="0.2686" stop-color="#000000"/><stop offset="0.2796" stop-color="#999999"/><stop offset="0.2958" stop-color="#b8b8b8"/><stop offset="0.3186" stop-color="#a3a3a3"/><stop offset="0.3296" stop-color="#4c4c4c"/><stop offset="0.3401" stop-color="#262626"/><stop offset="0.3466" stop-color="#0a0a0a"/><stop offset="0.3688" stop-color="#0a0a0a"/><stop offset="0.3736" stop-color="#262626"/><stop offset="0.3841" stop-color="#4c4c4c"/><stop offset="0.3938" stop-color="#b2b2b2"/><stop offset="0.4405" stop-color="#b2b2b2"/><stop offset="0.4580" stop-color="#919191"/><stop offset="0.9720" stop-color="#8f8f8f"/><stop offset="1.0000" stop-color="#8f8f8f"/></linearGradient><linearGradient id="sg57" gradientUnits="userSpaceOnUse" x1="699.0" y1="0" x2="1270.0" y2="0"><stop offset="0.0000" stop-color="#f2f2f2"/><stop offset="0.0280" stop-color="#f2f2f2"/><stop offset="0.1963" stop-color="#f2f2f2"/><stop offset="0.2046" stop-color="#000000"/><stop offset="0.2681" stop-color="#000000"/><stop offset="0.2791" stop-color="#999999"/><stop offset="0.2952" stop-color="#b8b8b8"/><stop offset="0.3180" stop-color="#a3a3a3"/><stop offset="0.3289" stop-color="#4c4c4c"/><stop offset="0.3394" stop-color="#262626"/><stop offset="0.3460" stop-color="#0a0a0a"/><stop offset="0.3685" stop-color="#0a0a0a"/><stop offset="0.3733" stop-color="#262626"/><stop offset="0.3838" stop-color="#4c4c4c"/><stop offset="0.3934" stop-color="#b2b2b2"/><stop offset="0.4404" stop-color="#b2b2b2"/><stop offset="0.4579" stop-color="#919191"/><stop offset="0.9720" stop-color="#8f8f8f"/><stop offset="1.0000" stop-color="#8f8f8f"/></linearGradient><linearGradient id="sg58" gradientUnits="userSpaceOnUse" x1="699.0" y1="0" x2="1270.0" y2="0"><stop offset="0.0000" stop-color="#f2f2f2"/><stop offset="0.0280" stop-color="#f2f2f2"/><stop offset="0.1958" stop-color="#f2f2f2"/><stop offset="0.2039" stop-color="#000000"/><stop offset="0.2676" stop-color="#000000"/><stop offset="0.2785" stop-color="#999999"/><stop offset="0.2946" stop-color="#b8b8b8"/><stop offset="0.3174" stop-color="#a3a3a3"/><stop offset="0.3283" stop-color="#4c4c4c"/><stop offset="0.3388" stop-color="#262626"/><stop offset="0.3454" stop-color="#0a0a0a"/><stop offset="0.3682" stop-color="#0a0a0a"/><stop offset="0.3731" stop-color="#262626"/><stop offset="0.3836" stop-color="#4c4c4c"/><stop offset="0.3930" stop-color="#b2b2b2"/><stop offset="0.4403" stop-color="#b2b2b2"/><stop offset="0.4578" stop-color="#919191"/><stop offset="0.9720" stop-color="#8f8f8f"/><stop offset="1.0000" stop-color="#8f8f8f"/></linearGradient><linearGradient id="sg59" gradientUnits="userSpaceOnUse" x1="699.0" y1="0" x2="1270.0" y2="0"><stop offset="0.0000" stop-color="#f2f2f2"/><stop offset="0.0280" stop-color="#f2f2f2"/><stop offset="0.1954" stop-color="#f2f2f2"/><stop offset="0.2033" stop-color="#000000"/><stop offset="0.2672" stop-color="#000000"/><stop offset="0.2780" stop-color="#999999"/><stop offset="0.2940" stop-color="#b8b8b8"/><stop offset="0.3168" stop-color="#a3a3a3"/><stop offset="0.3276" stop-color="#4c4c4c"/><stop offset="0.3381" stop-color="#262626"/><stop offset="0.3448" stop-color="#0a0a0a"/><stop offset="0.3678" stop-color="#0a0a0a"/><stop offset="0.3728" stop-color="#262626"/><stop offset="0.3833" stop-color="#4c4c4c"/><stop offset="0.3926" stop-color="#b2b2b2"/><stop offset="0.4402" stop-color="#b2b2b2"/><stop offset="0.4577" stop-color="#919191"/><stop offset="0.9720" stop-color="#8f8f8f"/><stop offset="1.0000" stop-color="#8f8f8f"/></linearGradient><linearGradient id="sg60" gradientUnits="userSpaceOnUse" x1="699.0" y1="0" x2="1270.0" y2="0"><stop offset="0.0000" stop-color="#f2f2f2"/><stop offset="0.0280" stop-color="#f2f2f2"/><stop offset="0.1949" stop-color="#f2f2f2"/><stop offset="0.2026" stop-color="#000000"/><stop offset="0.2667" stop-color="#000000"/><stop offset="0.2774" stop-color="#999999"/><stop offset="0.2934" stop-color="#b8b8b8"/><stop offset="0.3162" stop-color="#a3a3a3"/><stop offset="0.3269" stop-color="#4c4c4c"/><stop offset="0.3375" stop-color="#262626"/><stop offset="0.3442" stop-color="#0a0a0a"/><stop offset="0.3675" stop-color="#0a0a0a"/><stop offset="0.3725" stop-color="#262626"/><stop offset="0.3830" stop-color="#4c4c4c"/><stop offset="0.3923" stop-color="#b2b2b2"/><stop offset="0.4401" stop-color="#b2b2b2"/><stop offset="0.4576" stop-color="#919191"/><stop offset="0.9720" stop-color="#8f8f8f"/><stop offset="1.0000" stop-color="#8f8f8f"/></linearGradient><linearGradient id="sg61" gradientUnits="userSpaceOnUse" x1="699.0" y1="0" x2="1270.0" y2="0"><stop offset="0.0000" stop-color="#f2f2f2"/><stop offset="0.0280" stop-color="#f2f2f2"/><stop offset="0.1944" stop-color="#f2f2f2"/><stop offset="0.2019" stop-color="#000000"/><stop offset="0.2662" stop-color="#000000"/><stop offset="0.2769" stop-color="#999999"/><stop offset="0.2928" stop-color="#b8b8b8"/><stop offset="0.3156" stop-color="#a3a3a3"/><stop offset="0.3263" stop-color="#4c4c4c"/><stop offset="0.3368" stop-color="#262626"/><stop offset="0.3436" stop-color="#0a0a0a"/><stop offset="0.3672" stop-color="#0a0a0a"/><stop offset="0.3722" stop-color="#262626"/><stop offset="0.3827" stop-color="#4c4c4c"/><stop offset="0.3919" stop-color="#b2b2b2"/><stop offset="0.4400" stop-color="#b2b2b2"/><stop offset="0.4575" stop-color="#919191"/><stop offset="0.9720" stop-color="#8f8f8f"/><stop offset="1.0000" stop-color="#8f8f8f"/></linearGradient><linearGradient id="sg62" gradientUnits="userSpaceOnUse" x1="699.0" y1="0" x2="1270.0" y2="0"><stop offset="0.0000" stop-color="#f2f2f2"/><stop offset="0.0280" stop-color="#f2f2f2"/><stop offset="0.1939" stop-color="#f2f2f2"/><stop offset="0.2013" stop-color="#000000"/><stop offset="0.2657" stop-color="#000000"/><stop offset="0.2763" stop-color="#999999"/><stop offset="0.2922" stop-color="#b8b8b8"/><stop offset="0.3150" stop-color="#a3a3a3"/><stop offset="0.3256" stop-color="#4c4c4c"/><stop offset="0.3361" stop-color="#262626"/><stop offset="0.3430" stop-color="#0a0a0a"/><stop offset="0.3668" stop-color="#0a0a0a"/><stop offset="0.3720" stop-color="#262626"/><stop offset="0.3825" stop-color="#4c4c4c"/><stop offset="0.3915" stop-color="#b2b2b2"/><stop offset="0.4399" stop-color="#b2b2b2"/><stop offset="0.4574" stop-color="#919191"/><stop offset="0.9720" stop-color="#8f8f8f"/><stop offset="1.0000" stop-color="#8f8f8f"/></linearGradient><linearGradient id="sg63" gradientUnits="userSpaceOnUse" x1="699.0" y1="0" x2="1270.0" y2="0"><stop offset="0.0000" stop-color="#f2f2f2"/><stop offset="0.0280" stop-color="#f2f2f2"/><stop offset="0.1934" stop-color="#f2f2f2"/><stop offset="0.2006" stop-color="#000000"/><stop offset="0.2652" stop-color="#000000"/><stop offset="0.2758" stop-color="#999999"/><stop offset="0.2916" stop-color="#b8b8b8"/><stop offset="0.3144" stop-color="#a3a3a3"/><stop offset="0.3250" stop-color="#4c4c4c"/><stop offset="0.3355" stop-color="#262626"/><stop offset="0.3424" stop-color="#0a0a0a"/><stop offset="0.3665" stop-color="#0a0a0a"/><stop offset="0.3717" stop-color="#262626"/><stop offset="0.3822" stop-color="#4c4c4c"/><stop offset="0.3911" stop-color="#b2b2b2"/><stop offset="0.4397" stop-color="#b2b2b2"/><stop offset="0.4573" stop-color="#919191"/><stop offset="0.9720" stop-color="#8f8f8f"/><stop offset="1.0000" stop-color="#8f8f8f"/></linearGradient><linearGradient id="sg64" gradientUnits="userSpaceOnUse" x1="699.0" y1="0" x2="1270.0" y2="0"><stop offset="0.0000" stop-color="#f2f2f2"/><stop offset="0.0280" stop-color="#f2f2f2"/><stop offset="0.1929" stop-color="#f2f2f2"/><stop offset="0.2000" stop-color="#000000"/><stop offset="0.2647" stop-color="#000000"/><stop offset="0.2752" stop-color="#999999"/><stop offset="0.2910" stop-color="#b8b8b8"/><stop offset="0.3138" stop-color="#a3a3a3"/><stop offset="0.3243" stop-color="#4c4c4c"/><stop offset="0.3348" stop-color="#262626"/><stop offset="0.3418" stop-color="#0a0a0a"/><stop offset="0.3662" stop-color="#0a0a0a"/><stop offset="0.3714" stop-color="#262626"/><stop offset="0.3819" stop-color="#4c4c4c"/><stop offset="0.3907" stop-color="#b2b2b2"/><stop offset="0.4396" stop-color="#b2b2b2"/><stop offset="0.4571" stop-color="#919191"/><stop offset="0.9720" stop-color="#8f8f8f"/><stop offset="1.0000" stop-color="#8f8f8f"/></linearGradient><clipPath id="cp5"><rect x="715.00" y="515.00" width="539.00" height="349.50"/></clipPath><filter id="nzBot5" x="0" y="0" width="1" height="1" color-interpolation-filters="sRGB">
<feFlood x="699" y="515" width="1" height="1" flood-color="#fff" result="fl"/>
<feComposite in="fl" x="699" y="515" width="5" height="1" result="fl2"/>
<feTile in="fl2" result="tile"/>
<feTurbulence type="fractalNoise" baseFrequency="0.0004 0.8" numOctaves="1" seed="17" result="rn"/>
<feColorMatrix in="rn" type="matrix" values="1 0 0 0 0  0 0 0 0 0.5  0 0 0 0 0  0 0 0 0 1" result="dm"/>
<feDisplacementMap in="SourceGraphic" in2="dm" scale="26" xChannelSelector="R" yChannelSelector="G" result="disp0"/>
<feComposite in="disp0" in2="tile" operator="in" result="dsamp"/>
<feMorphology in="dsamp" operator="dilate" radius="2 0" result="disp"/>
<feTurbulence type="fractalNoise" baseFrequency="0.12 0.004" numOctaves="1" seed="13" result="tb"/>
<feColorMatrix in="tb" type="matrix" values="1 0 0 0 0  1 0 0 0 0  1 0 0 0 0  0 0 0 0 1" result="gb"/>
<feComponentTransfer in="gb" result="gbs"><feFuncR type="linear" slope="0.2" intercept="0.4"/><feFuncG type="linear" slope="0.2" intercept="0.4"/><feFuncB type="linear" slope="0.2" intercept="0.4"/></feComponentTransfer>
<feBlend in="gbs" in2="disp" mode="overlay" result="sb"/>
<feTurbulence type="fractalNoise" baseFrequency="0.06 0.75" numOctaves="2" seed="8" result="t"/>
<feColorMatrix in="t" type="matrix" values="1 0 0 0 0  1 0 0 0 0  1 0 0 0 0  0 0 0 0 1" result="g"/>
<feComposite in="g" in2="tile" operator="in" result="samp"/>
<feMorphology in="samp" operator="dilate" radius="2 0" result="cells"/>
<feComponentTransfer in="cells" result="gs"><feFuncR type="linear" slope="0.62" intercept="0.19"/><feFuncG type="linear" slope="0.62" intercept="0.19"/><feFuncB type="linear" slope="0.62" intercept="0.19"/></feComponentTransfer>
<feBlend in="gs" in2="sb" mode="overlay" result="r1"/>
<feTurbulence type="fractalNoise" baseFrequency="0.07 0.5" numOctaves="2" seed="28" result="t2"/>
<feColorMatrix in="t2" type="matrix" values="1 0 0 0 0  1 0 0 0 0  1 0 0 0 0  0 0 0 0 1" result="g2"/>
<feComposite in="g2" in2="tile" operator="in" result="samp2"/>
<feMorphology in="samp2" operator="dilate" radius="2 0" result="cells2"/>
<feComponentTransfer in="cells2" result="dk"><feFuncR type="table" tableValues="0.55 0.62 0.8 1 1 1 1 1"/><feFuncG type="table" tableValues="0.55 0.62 0.8 1 1 1 1 1"/><feFuncB type="table" tableValues="0.55 0.62 0.8 1 1 1 1 1"/></feComponentTransfer>
<feBlend in="dk" in2="r1" mode="multiply"/>
</filter><linearGradient id="sg65" gradientUnits="userSpaceOnUse" x1="1357.8" y1="0" x2="1938.5" y2="0"><stop offset="0.0000" stop-color="#f2f2f2"/><stop offset="0.0276" stop-color="#f2f2f2"/><stop offset="0.2097" stop-color="#f2f2f2"/><stop offset="0.2183" stop-color="#000000"/><stop offset="0.2889" stop-color="#000000"/><stop offset="0.2992" stop-color="#8c8c8c"/><stop offset="0.3202" stop-color="#adadad"/><stop offset="0.3323" stop-color="#4c4c4c"/><stop offset="0.3426" stop-color="#262626"/><stop offset="0.3495" stop-color="#0a0a0a"/><stop offset="0.3686" stop-color="#0a0a0a"/><stop offset="0.3738" stop-color="#262626"/><stop offset="0.3859" stop-color="#4c4c4c"/><stop offset="0.4065" stop-color="#b8b8b8"/><stop offset="0.4444" stop-color="#adadad"/><stop offset="0.4547" stop-color="#919191"/><stop offset="0.9724" stop-color="#8f8f8f"/><stop offset="1.0000" stop-color="#8f8f8f"/></linearGradient><linearGradient id="sg66" gradientUnits="userSpaceOnUse" x1="1357.8" y1="0" x2="1938.5" y2="0"><stop offset="0.0000" stop-color="#f2f2f2"/><stop offset="0.0276" stop-color="#f2f2f2"/><stop offset="0.2084" stop-color="#f2f2f2"/><stop offset="0.2168" stop-color="#000000"/><stop offset="0.2874" stop-color="#000000"/><stop offset="0.2977" stop-color="#8c8c8c"/><stop offset="0.3193" stop-color="#adadad"/><stop offset="0.3315" stop-color="#4c4c4c"/><stop offset="0.3418" stop-color="#262626"/><stop offset="0.3487" stop-color="#0a0a0a"/><stop offset="0.3682" stop-color="#0a0a0a"/><stop offset="0.3733" stop-color="#262626"/><stop offset="0.3854" stop-color="#4c4c4c"/><stop offset="0.4061" stop-color="#b8b8b8"/><stop offset="0.4439" stop-color="#adadad"/><stop offset="0.4543" stop-color="#919191"/><stop offset="0.9724" stop-color="#8f8f8f"/><stop offset="1.0000" stop-color="#8f8f8f"/></linearGradient><linearGradient id="sg67" gradientUnits="userSpaceOnUse" x1="1357.8" y1="0" x2="1938.5" y2="0"><stop offset="0.0000" stop-color="#f2f2f2"/><stop offset="0.0276" stop-color="#f2f2f2"/><stop offset="0.2070" stop-color="#f2f2f2"/><stop offset="0.2153" stop-color="#000000"/><stop offset="0.2859" stop-color="#000000"/><stop offset="0.2963" stop-color="#8c8c8c"/><stop offset="0.3184" stop-color="#adadad"/><stop offset="0.3307" stop-color="#4c4c4c"/><stop offset="0.3410" stop-color="#262626"/><stop offset="0.3479" stop-color="#0a0a0a"/><stop offset="0.3677" stop-color="#0a0a0a"/><stop offset="0.3729" stop-color="#262626"/><stop offset="0.3849" stop-color="#4c4c4c"/><stop offset="0.4056" stop-color="#b8b8b8"/><stop offset="0.4435" stop-color="#adadad"/><stop offset="0.4538" stop-color="#919191"/><stop offset="0.9724" stop-color="#8f8f8f"/><stop offset="1.0000" stop-color="#8f8f8f"/></linearGradient><linearGradient id="sg68" gradientUnits="userSpaceOnUse" x1="1357.8" y1="0" x2="1938.5" y2="0"><stop offset="0.0000" stop-color="#f2f2f2"/><stop offset="0.0276" stop-color="#f2f2f2"/><stop offset="0.2056" stop-color="#f2f2f2"/><stop offset="0.2138" stop-color="#000000"/><stop offset="0.2844" stop-color="#000000"/><stop offset="0.2948" stop-color="#8c8c8c"/><stop offset="0.3174" stop-color="#adadad"/><stop offset="0.3299" stop-color="#4c4c4c"/><stop offset="0.3402" stop-color="#262626"/><stop offset="0.3471" stop-color="#0a0a0a"/><stop offset="0.3673" stop-color="#0a0a0a"/><stop offset="0.3724" stop-color="#262626"/><stop offset="0.3845" stop-color="#4c4c4c"/><stop offset="0.4051" stop-color="#b8b8b8"/><stop offset="0.4430" stop-color="#adadad"/><stop offset="0.4534" stop-color="#919191"/><stop offset="0.9724" stop-color="#8f8f8f"/><stop offset="1.0000" stop-color="#8f8f8f"/></linearGradient><linearGradient id="sg69" gradientUnits="userSpaceOnUse" x1="1357.8" y1="0" x2="1938.5" y2="0"><stop offset="0.0000" stop-color="#f2f2f2"/><stop offset="0.0276" stop-color="#f2f2f2"/><stop offset="0.2042" stop-color="#f2f2f2"/><stop offset="0.2123" stop-color="#000000"/><stop offset="0.2829" stop-color="#000000"/><stop offset="0.2933" stop-color="#8c8c8c"/><stop offset="0.3165" stop-color="#adadad"/><stop offset="0.3291" stop-color="#4c4c4c"/><stop offset="0.3394" stop-color="#262626"/><stop offset="0.3463" stop-color="#0a0a0a"/><stop offset="0.3668" stop-color="#0a0a0a"/><stop offset="0.3720" stop-color="#262626"/><stop offset="0.3840" stop-color="#4c4c4c"/><stop offset="0.4047" stop-color="#b8b8b8"/><stop offset="0.4426" stop-color="#adadad"/><stop offset="0.4529" stop-color="#919191"/><stop offset="0.9724" stop-color="#8f8f8f"/><stop offset="1.0000" stop-color="#8f8f8f"/></linearGradient><linearGradient id="sg70" gradientUnits="userSpaceOnUse" x1="1357.8" y1="0" x2="1938.5" y2="0"><stop offset="0.0000" stop-color="#f2f2f2"/><stop offset="0.0276" stop-color="#f2f2f2"/><stop offset="0.2029" stop-color="#f2f2f2"/><stop offset="0.2108" stop-color="#000000"/><stop offset="0.2814" stop-color="#000000"/><stop offset="0.2918" stop-color="#8c8c8c"/><stop offset="0.3156" stop-color="#adadad"/><stop offset="0.3283" stop-color="#4c4c4c"/><stop offset="0.3386" stop-color="#262626"/><stop offset="0.3455" stop-color="#0a0a0a"/><stop offset="0.3663" stop-color="#0a0a0a"/><stop offset="0.3715" stop-color="#262626"/><stop offset="0.3836" stop-color="#4c4c4c"/><stop offset="0.4042" stop-color="#b8b8b8"/><stop offset="0.4421" stop-color="#adadad"/><stop offset="0.4524" stop-color="#919191"/><stop offset="0.9724" stop-color="#8f8f8f"/><stop offset="1.0000" stop-color="#8f8f8f"/></linearGradient><linearGradient id="sg71" gradientUnits="userSpaceOnUse" x1="1357.8" y1="0" x2="1938.5" y2="0"><stop offset="0.0000" stop-color="#f2f2f2"/><stop offset="0.0276" stop-color="#f2f2f2"/><stop offset="0.2015" stop-color="#f2f2f2"/><stop offset="0.2093" stop-color="#000000"/><stop offset="0.2799" stop-color="#000000"/><stop offset="0.2903" stop-color="#8c8c8c"/><stop offset="0.3147" stop-color="#adadad"/><stop offset="0.3275" stop-color="#4c4c4c"/><stop offset="0.3378" stop-color="#262626"/><stop offset="0.3447" stop-color="#0a0a0a"/><stop offset="0.3659" stop-color="#0a0a0a"/><stop offset="0.3710" stop-color="#262626"/><stop offset="0.3831" stop-color="#4c4c4c"/><stop offset="0.4038" stop-color="#b8b8b8"/><stop offset="0.4417" stop-color="#adadad"/><stop offset="0.4520" stop-color="#919191"/><stop offset="0.9724" stop-color="#8f8f8f"/><stop offset="1.0000" stop-color="#8f8f8f"/></linearGradient><linearGradient id="sg72" gradientUnits="userSpaceOnUse" x1="1357.8" y1="0" x2="1938.5" y2="0"><stop offset="0.0000" stop-color="#f2f2f2"/><stop offset="0.0276" stop-color="#f2f2f2"/><stop offset="0.2001" stop-color="#f2f2f2"/><stop offset="0.2079" stop-color="#000000"/><stop offset="0.2785" stop-color="#000000"/><stop offset="0.2888" stop-color="#8c8c8c"/><stop offset="0.3138" stop-color="#adadad"/><stop offset="0.3267" stop-color="#4c4c4c"/><stop offset="0.3370" stop-color="#262626"/><stop offset="0.3439" stop-color="#0a0a0a"/><stop offset="0.3654" stop-color="#0a0a0a"/><stop offset="0.3706" stop-color="#262626"/><stop offset="0.3826" stop-color="#4c4c4c"/><stop offset="0.4033" stop-color="#b8b8b8"/><stop offset="0.4412" stop-color="#adadad"/><stop offset="0.4515" stop-color="#919191"/><stop offset="0.9724" stop-color="#8f8f8f"/><stop offset="1.0000" stop-color="#8f8f8f"/></linearGradient><linearGradient id="sg73" gradientUnits="userSpaceOnUse" x1="1357.8" y1="0" x2="1938.5" y2="0"><stop offset="0.0000" stop-color="#f2f2f2"/><stop offset="0.0276" stop-color="#f2f2f2"/><stop offset="0.1987" stop-color="#f2f2f2"/><stop offset="0.2064" stop-color="#000000"/><stop offset="0.2770" stop-color="#000000"/><stop offset="0.2873" stop-color="#8c8c8c"/><stop offset="0.3128" stop-color="#adadad"/><stop offset="0.3259" stop-color="#4c4c4c"/><stop offset="0.3362" stop-color="#262626"/><stop offset="0.3431" stop-color="#0a0a0a"/><stop offset="0.3650" stop-color="#0a0a0a"/><stop offset="0.3701" stop-color="#262626"/><stop offset="0.3822" stop-color="#4c4c4c"/><stop offset="0.4028" stop-color="#b8b8b8"/><stop offset="0.4407" stop-color="#adadad"/><stop offset="0.4511" stop-color="#919191"/><stop offset="0.9724" stop-color="#8f8f8f"/><stop offset="1.0000" stop-color="#8f8f8f"/></linearGradient><linearGradient id="sg74" gradientUnits="userSpaceOnUse" x1="1357.8" y1="0" x2="1938.5" y2="0"><stop offset="0.0000" stop-color="#f2f2f2"/><stop offset="0.0276" stop-color="#f2f2f2"/><stop offset="0.1973" stop-color="#f2f2f2"/><stop offset="0.2049" stop-color="#000000"/><stop offset="0.2755" stop-color="#000000"/><stop offset="0.2858" stop-color="#8c8c8c"/><stop offset="0.3119" stop-color="#adadad"/><stop offset="0.3251" stop-color="#4c4c4c"/><stop offset="0.3354" stop-color="#262626"/><stop offset="0.3423" stop-color="#0a0a0a"/><stop offset="0.3645" stop-color="#0a0a0a"/><stop offset="0.3697" stop-color="#262626"/><stop offset="0.3817" stop-color="#4c4c4c"/><stop offset="0.4024" stop-color="#b8b8b8"/><stop offset="0.4403" stop-color="#adadad"/><stop offset="0.4506" stop-color="#919191"/><stop offset="0.9724" stop-color="#8f8f8f"/><stop offset="1.0000" stop-color="#8f8f8f"/></linearGradient><linearGradient id="sg75" gradientUnits="userSpaceOnUse" x1="1357.8" y1="0" x2="1938.5" y2="0"><stop offset="0.0000" stop-color="#f2f2f2"/><stop offset="0.0276" stop-color="#f2f2f2"/><stop offset="0.1960" stop-color="#f2f2f2"/><stop offset="0.2034" stop-color="#000000"/><stop offset="0.2740" stop-color="#000000"/><stop offset="0.2843" stop-color="#8c8c8c"/><stop offset="0.3110" stop-color="#adadad"/><stop offset="0.3243" stop-color="#4c4c4c"/><stop offset="0.3346" stop-color="#262626"/><stop offset="0.3415" stop-color="#0a0a0a"/><stop offset="0.3640" stop-color="#0a0a0a"/><stop offset="0.3692" stop-color="#262626"/><stop offset="0.3813" stop-color="#4c4c4c"/><stop offset="0.4019" stop-color="#b8b8b8"/><stop offset="0.4398" stop-color="#adadad"/><stop offset="0.4501" stop-color="#919191"/><stop offset="0.9724" stop-color="#8f8f8f"/><stop offset="1.0000" stop-color="#8f8f8f"/></linearGradient><linearGradient id="sg76" gradientUnits="userSpaceOnUse" x1="1357.8" y1="0" x2="1938.5" y2="0"><stop offset="0.0000" stop-color="#f2f2f2"/><stop offset="0.0276" stop-color="#f2f2f2"/><stop offset="0.1946" stop-color="#f2f2f2"/><stop offset="0.2019" stop-color="#000000"/><stop offset="0.2725" stop-color="#000000"/><stop offset="0.2828" stop-color="#8c8c8c"/><stop offset="0.3101" stop-color="#adadad"/><stop offset="0.3235" stop-color="#4c4c4c"/><stop offset="0.3338" stop-color="#262626"/><stop offset="0.3407" stop-color="#0a0a0a"/><stop offset="0.3636" stop-color="#0a0a0a"/><stop offset="0.3688" stop-color="#262626"/><stop offset="0.3808" stop-color="#4c4c4c"/><stop offset="0.4015" stop-color="#b8b8b8"/><stop offset="0.4394" stop-color="#adadad"/><stop offset="0.4497" stop-color="#919191"/><stop offset="0.9724" stop-color="#8f8f8f"/><stop offset="1.0000" stop-color="#8f8f8f"/></linearGradient><linearGradient id="sg77" gradientUnits="userSpaceOnUse" x1="1357.8" y1="0" x2="1938.5" y2="0"><stop offset="0.0000" stop-color="#f2f2f2"/><stop offset="0.0276" stop-color="#f2f2f2"/><stop offset="0.1932" stop-color="#f2f2f2"/><stop offset="0.2004" stop-color="#000000"/><stop offset="0.2710" stop-color="#000000"/><stop offset="0.2813" stop-color="#8c8c8c"/><stop offset="0.3092" stop-color="#adadad"/><stop offset="0.3227" stop-color="#4c4c4c"/><stop offset="0.3330" stop-color="#262626"/><stop offset="0.3399" stop-color="#0a0a0a"/><stop offset="0.3631" stop-color="#0a0a0a"/><stop offset="0.3683" stop-color="#262626"/><stop offset="0.3803" stop-color="#4c4c4c"/><stop offset="0.4010" stop-color="#b8b8b8"/><stop offset="0.4389" stop-color="#adadad"/><stop offset="0.4492" stop-color="#919191"/><stop offset="0.9724" stop-color="#8f8f8f"/><stop offset="1.0000" stop-color="#8f8f8f"/></linearGradient><linearGradient id="sg78" gradientUnits="userSpaceOnUse" x1="1357.8" y1="0" x2="1938.5" y2="0"><stop offset="0.0000" stop-color="#f2f2f2"/><stop offset="0.0276" stop-color="#f2f2f2"/><stop offset="0.1918" stop-color="#f2f2f2"/><stop offset="0.1989" stop-color="#000000"/><stop offset="0.2695" stop-color="#000000"/><stop offset="0.2798" stop-color="#8c8c8c"/><stop offset="0.3082" stop-color="#adadad"/><stop offset="0.3219" stop-color="#4c4c4c"/><stop offset="0.3322" stop-color="#262626"/><stop offset="0.3391" stop-color="#0a0a0a"/><stop offset="0.3627" stop-color="#0a0a0a"/><stop offset="0.3678" stop-color="#262626"/><stop offset="0.3799" stop-color="#4c4c4c"/><stop offset="0.4006" stop-color="#b8b8b8"/><stop offset="0.4384" stop-color="#adadad"/><stop offset="0.4488" stop-color="#919191"/><stop offset="0.9724" stop-color="#8f8f8f"/><stop offset="1.0000" stop-color="#8f8f8f"/></linearGradient><linearGradient id="sg79" gradientUnits="userSpaceOnUse" x1="1357.8" y1="0" x2="1938.5" y2="0"><stop offset="0.0000" stop-color="#f2f2f2"/><stop offset="0.0276" stop-color="#f2f2f2"/><stop offset="0.1905" stop-color="#f2f2f2"/><stop offset="0.1974" stop-color="#000000"/><stop offset="0.2680" stop-color="#000000"/><stop offset="0.2783" stop-color="#8c8c8c"/><stop offset="0.3073" stop-color="#adadad"/><stop offset="0.3210" stop-color="#4c4c4c"/><stop offset="0.3314" stop-color="#262626"/><stop offset="0.3383" stop-color="#0a0a0a"/><stop offset="0.3622" stop-color="#0a0a0a"/><stop offset="0.3674" stop-color="#262626"/><stop offset="0.3794" stop-color="#4c4c4c"/><stop offset="0.4001" stop-color="#b8b8b8"/><stop offset="0.4380" stop-color="#adadad"/><stop offset="0.4483" stop-color="#919191"/><stop offset="0.9724" stop-color="#8f8f8f"/><stop offset="1.0000" stop-color="#8f8f8f"/></linearGradient><linearGradient id="sg80" gradientUnits="userSpaceOnUse" x1="1357.8" y1="0" x2="1938.5" y2="0"><stop offset="0.0000" stop-color="#f2f2f2"/><stop offset="0.0276" stop-color="#f2f2f2"/><stop offset="0.2064" stop-color="#f2f2f2"/><stop offset="0.2132" stop-color="#000000"/><stop offset="0.2855" stop-color="#000000"/><stop offset="0.2958" stop-color="#8c8c8c"/><stop offset="0.3218" stop-color="#adadad"/><stop offset="0.3322" stop-color="#4c4c4c"/><stop offset="0.3426" stop-color="#262626"/><stop offset="0.3495" stop-color="#0a0a0a"/><stop offset="0.3720" stop-color="#0a0a0a"/><stop offset="0.3772" stop-color="#262626"/><stop offset="0.3892" stop-color="#4c4c4c"/><stop offset="0.4081" stop-color="#b8b8b8"/><stop offset="0.4443" stop-color="#a8a8a8"/><stop offset="0.4581" stop-color="#8c8c8c"/><stop offset="0.9724" stop-color="#8a8a8a"/><stop offset="1.0000" stop-color="#8a8a8a"/></linearGradient><linearGradient id="sg81" gradientUnits="userSpaceOnUse" x1="1357.8" y1="0" x2="1938.5" y2="0"><stop offset="0.0000" stop-color="#f2f2f2"/><stop offset="0.0276" stop-color="#f2f2f2"/><stop offset="0.2051" stop-color="#f2f2f2"/><stop offset="0.2118" stop-color="#000000"/><stop offset="0.2841" stop-color="#000000"/><stop offset="0.2944" stop-color="#8c8c8c"/><stop offset="0.3207" stop-color="#adadad"/><stop offset="0.3313" stop-color="#4c4c4c"/><stop offset="0.3416" stop-color="#262626"/><stop offset="0.3485" stop-color="#0a0a0a"/><stop offset="0.3714" stop-color="#0a0a0a"/><stop offset="0.3765" stop-color="#262626"/><stop offset="0.3886" stop-color="#4c4c4c"/><stop offset="0.4073" stop-color="#b8b8b8"/><stop offset="0.4437" stop-color="#a8a8a8"/><stop offset="0.4575" stop-color="#8c8c8c"/><stop offset="0.9724" stop-color="#8a8a8a"/><stop offset="1.0000" stop-color="#8a8a8a"/></linearGradient><linearGradient id="sg82" gradientUnits="userSpaceOnUse" x1="1357.8" y1="0" x2="1938.5" y2="0"><stop offset="0.0000" stop-color="#f2f2f2"/><stop offset="0.0276" stop-color="#f2f2f2"/><stop offset="0.2039" stop-color="#f2f2f2"/><stop offset="0.2104" stop-color="#000000"/><stop offset="0.2827" stop-color="#000000"/><stop offset="0.2930" stop-color="#8c8c8c"/><stop offset="0.3196" stop-color="#adadad"/><stop offset="0.3304" stop-color="#4c4c4c"/><stop offset="0.3407" stop-color="#262626"/><stop offset="0.3476" stop-color="#0a0a0a"/><stop offset="0.3707" stop-color="#0a0a0a"/><stop offset="0.3759" stop-color="#262626"/><stop offset="0.3880" stop-color="#4c4c4c"/><stop offset="0.4065" stop-color="#b8b8b8"/><stop offset="0.4431" stop-color="#a8a8a8"/><stop offset="0.4568" stop-color="#8c8c8c"/><stop offset="0.9724" stop-color="#8a8a8a"/><stop offset="1.0000" stop-color="#8a8a8a"/></linearGradient><linearGradient id="sg83" gradientUnits="userSpaceOnUse" x1="1357.8" y1="0" x2="1938.5" y2="0"><stop offset="0.0000" stop-color="#f2f2f2"/><stop offset="0.0276" stop-color="#f2f2f2"/><stop offset="0.2026" stop-color="#f2f2f2"/><stop offset="0.2089" stop-color="#000000"/><stop offset="0.2813" stop-color="#000000"/><stop offset="0.2916" stop-color="#8c8c8c"/><stop offset="0.3185" stop-color="#adadad"/><stop offset="0.3294" stop-color="#4c4c4c"/><stop offset="0.3397" stop-color="#262626"/><stop offset="0.3466" stop-color="#0a0a0a"/><stop offset="0.3701" stop-color="#0a0a0a"/><stop offset="0.3753" stop-color="#262626"/><stop offset="0.3873" stop-color="#4c4c4c"/><stop offset="0.4057" stop-color="#b8b8b8"/><stop offset="0.4424" stop-color="#a8a8a8"/><stop offset="0.4562" stop-color="#8c8c8c"/><stop offset="0.9724" stop-color="#8a8a8a"/><stop offset="1.0000" stop-color="#8a8a8a"/></linearGradient><linearGradient id="sg84" gradientUnits="userSpaceOnUse" x1="1357.8" y1="0" x2="1938.5" y2="0"><stop offset="0.0000" stop-color="#f2f2f2"/><stop offset="0.0276" stop-color="#f2f2f2"/><stop offset="0.2014" stop-color="#f2f2f2"/><stop offset="0.2075" stop-color="#000000"/><stop offset="0.2799" stop-color="#000000"/><stop offset="0.2902" stop-color="#8c8c8c"/><stop offset="0.3174" stop-color="#adadad"/><stop offset="0.3285" stop-color="#4c4c4c"/><stop offset="0.3388" stop-color="#262626"/><stop offset="0.3457" stop-color="#0a0a0a"/><stop offset="0.3695" stop-color="#0a0a0a"/><stop offset="0.3747" stop-color="#262626"/><stop offset="0.3867" stop-color="#4c4c4c"/><stop offset="0.4050" stop-color="#b8b8b8"/><stop offset="0.4418" stop-color="#a8a8a8"/><stop offset="0.4556" stop-color="#8c8c8c"/><stop offset="0.9724" stop-color="#8a8a8a"/><stop offset="1.0000" stop-color="#8a8a8a"/></linearGradient><linearGradient id="sg85" gradientUnits="userSpaceOnUse" x1="1357.8" y1="0" x2="1938.5" y2="0"><stop offset="0.0000" stop-color="#f2f2f2"/><stop offset="0.0276" stop-color="#f2f2f2"/><stop offset="0.2001" stop-color="#f2f2f2"/><stop offset="0.2061" stop-color="#000000"/><stop offset="0.2785" stop-color="#000000"/><stop offset="0.2888" stop-color="#8c8c8c"/><stop offset="0.3163" stop-color="#adadad"/><stop offset="0.3275" stop-color="#4c4c4c"/><stop offset="0.3379" stop-color="#262626"/><stop offset="0.3448" stop-color="#0a0a0a"/><stop offset="0.3689" stop-color="#0a0a0a"/><stop offset="0.3740" stop-color="#262626"/><stop offset="0.3861" stop-color="#4c4c4c"/><stop offset="0.4042" stop-color="#b8b8b8"/><stop offset="0.4412" stop-color="#a8a8a8"/><stop offset="0.4550" stop-color="#8c8c8c"/><stop offset="0.9724" stop-color="#8a8a8a"/><stop offset="1.0000" stop-color="#8a8a8a"/></linearGradient><linearGradient id="sg86" gradientUnits="userSpaceOnUse" x1="1357.8" y1="0" x2="1938.5" y2="0"><stop offset="0.0000" stop-color="#f2f2f2"/><stop offset="0.0276" stop-color="#f2f2f2"/><stop offset="0.1989" stop-color="#f2f2f2"/><stop offset="0.2047" stop-color="#000000"/><stop offset="0.2770" stop-color="#000000"/><stop offset="0.2874" stop-color="#8c8c8c"/><stop offset="0.3152" stop-color="#adadad"/><stop offset="0.3266" stop-color="#4c4c4c"/><stop offset="0.3369" stop-color="#262626"/><stop offset="0.3438" stop-color="#0a0a0a"/><stop offset="0.3682" stop-color="#0a0a0a"/><stop offset="0.3734" stop-color="#262626"/><stop offset="0.3855" stop-color="#4c4c4c"/><stop offset="0.4034" stop-color="#b8b8b8"/><stop offset="0.4406" stop-color="#a8a8a8"/><stop offset="0.4543" stop-color="#8c8c8c"/><stop offset="0.9724" stop-color="#8a8a8a"/><stop offset="1.0000" stop-color="#8a8a8a"/></linearGradient><linearGradient id="sg87" gradientUnits="userSpaceOnUse" x1="1357.8" y1="0" x2="1938.5" y2="0"><stop offset="0.0000" stop-color="#f2f2f2"/><stop offset="0.0276" stop-color="#f2f2f2"/><stop offset="0.1976" stop-color="#f2f2f2"/><stop offset="0.2033" stop-color="#000000"/><stop offset="0.2756" stop-color="#000000"/><stop offset="0.2860" stop-color="#8c8c8c"/><stop offset="0.3142" stop-color="#adadad"/><stop offset="0.3257" stop-color="#4c4c4c"/><stop offset="0.3360" stop-color="#262626"/><stop offset="0.3429" stop-color="#0a0a0a"/><stop offset="0.3676" stop-color="#0a0a0a"/><stop offset="0.3728" stop-color="#262626"/><stop offset="0.3848" stop-color="#4c4c4c"/><stop offset="0.4026" stop-color="#b8b8b8"/><stop offset="0.4399" stop-color="#a8a8a8"/><stop offset="0.4537" stop-color="#8c8c8c"/><stop offset="0.9724" stop-color="#8a8a8a"/><stop offset="1.0000" stop-color="#8a8a8a"/></linearGradient><linearGradient id="sg88" gradientUnits="userSpaceOnUse" x1="1357.8" y1="0" x2="1938.5" y2="0"><stop offset="0.0000" stop-color="#f2f2f2"/><stop offset="0.0276" stop-color="#f2f2f2"/><stop offset="0.1963" stop-color="#f2f2f2"/><stop offset="0.2019" stop-color="#000000"/><stop offset="0.2742" stop-color="#000000"/><stop offset="0.2846" stop-color="#8c8c8c"/><stop offset="0.3131" stop-color="#adadad"/><stop offset="0.3247" stop-color="#4c4c4c"/><stop offset="0.3351" stop-color="#262626"/><stop offset="0.3419" stop-color="#0a0a0a"/><stop offset="0.3670" stop-color="#0a0a0a"/><stop offset="0.3722" stop-color="#262626"/><stop offset="0.3842" stop-color="#4c4c4c"/><stop offset="0.4018" stop-color="#b8b8b8"/><stop offset="0.4393" stop-color="#a8a8a8"/><stop offset="0.4531" stop-color="#8c8c8c"/><stop offset="0.9724" stop-color="#8a8a8a"/><stop offset="1.0000" stop-color="#8a8a8a"/></linearGradient><linearGradient id="sg89" gradientUnits="userSpaceOnUse" x1="1357.8" y1="0" x2="1938.5" y2="0"><stop offset="0.0000" stop-color="#f2f2f2"/><stop offset="0.0276" stop-color="#f2f2f2"/><stop offset="0.1951" stop-color="#f2f2f2"/><stop offset="0.2005" stop-color="#000000"/><stop offset="0.2728" stop-color="#000000"/><stop offset="0.2832" stop-color="#8c8c8c"/><stop offset="0.3120" stop-color="#adadad"/><stop offset="0.3238" stop-color="#4c4c4c"/><stop offset="0.3341" stop-color="#262626"/><stop offset="0.3410" stop-color="#0a0a0a"/><stop offset="0.3664" stop-color="#0a0a0a"/><stop offset="0.3715" stop-color="#262626"/><stop offset="0.3836" stop-color="#4c4c4c"/><stop offset="0.4010" stop-color="#b8b8b8"/><stop offset="0.4387" stop-color="#a8a8a8"/><stop offset="0.4525" stop-color="#8c8c8c"/><stop offset="0.9724" stop-color="#8a8a8a"/><stop offset="1.0000" stop-color="#8a8a8a"/></linearGradient><linearGradient id="sg90" gradientUnits="userSpaceOnUse" x1="1357.8" y1="0" x2="1938.5" y2="0"><stop offset="0.0000" stop-color="#f2f2f2"/><stop offset="0.0276" stop-color="#f2f2f2"/><stop offset="0.1938" stop-color="#f2f2f2"/><stop offset="0.1991" stop-color="#000000"/><stop offset="0.2714" stop-color="#000000"/><stop offset="0.2817" stop-color="#8c8c8c"/><stop offset="0.3109" stop-color="#adadad"/><stop offset="0.3228" stop-color="#4c4c4c"/><stop offset="0.3332" stop-color="#262626"/><stop offset="0.3401" stop-color="#0a0a0a"/><stop offset="0.3657" stop-color="#0a0a0a"/><stop offset="0.3709" stop-color="#262626"/><stop offset="0.3830" stop-color="#4c4c4c"/><stop offset="0.4003" stop-color="#b8b8b8"/><stop offset="0.4381" stop-color="#a8a8a8"/><stop offset="0.4518" stop-color="#8c8c8c"/><stop offset="0.9724" stop-color="#8a8a8a"/><stop offset="1.0000" stop-color="#8a8a8a"/></linearGradient><linearGradient id="sg91" gradientUnits="userSpaceOnUse" x1="1357.8" y1="0" x2="1938.5" y2="0"><stop offset="0.0000" stop-color="#f2f2f2"/><stop offset="0.0276" stop-color="#f2f2f2"/><stop offset="0.2022" stop-color="#f2f2f2"/><stop offset="0.2091" stop-color="#050505"/><stop offset="0.2874" stop-color="#0a0a0a"/><stop offset="0.2977" stop-color="#8c8c8c"/><stop offset="0.3146" stop-color="#adadad"/><stop offset="0.3251" stop-color="#4c4c4c"/><stop offset="0.3355" stop-color="#262626"/><stop offset="0.3423" stop-color="#0a0a0a"/><stop offset="0.3680" stop-color="#0a0a0a"/><stop offset="0.3732" stop-color="#262626"/><stop offset="0.3851" stop-color="#4c4c4c"/><stop offset="0.4057" stop-color="#b8b8b8"/><stop offset="0.4439" stop-color="#a8a8a8"/><stop offset="0.4577" stop-color="#919191"/><stop offset="0.9724" stop-color="#8f8f8f"/><stop offset="1.0000" stop-color="#8f8f8f"/></linearGradient><linearGradient id="sg92" gradientUnits="userSpaceOnUse" x1="1357.8" y1="0" x2="1938.5" y2="0"><stop offset="0.0000" stop-color="#f2f2f2"/><stop offset="0.0276" stop-color="#f2f2f2"/><stop offset="0.1994" stop-color="#f2f2f2"/><stop offset="0.2063" stop-color="#050505"/><stop offset="0.2829" stop-color="#0a0a0a"/><stop offset="0.2933" stop-color="#8c8c8c"/><stop offset="0.3129" stop-color="#adadad"/><stop offset="0.3237" stop-color="#4c4c4c"/><stop offset="0.3341" stop-color="#262626"/><stop offset="0.3410" stop-color="#0a0a0a"/><stop offset="0.3663" stop-color="#0a0a0a"/><stop offset="0.3714" stop-color="#262626"/><stop offset="0.3830" stop-color="#4c4c4c"/><stop offset="0.4037" stop-color="#b8b8b8"/><stop offset="0.4426" stop-color="#a8a8a8"/><stop offset="0.4563" stop-color="#919191"/><stop offset="0.9724" stop-color="#8f8f8f"/><stop offset="1.0000" stop-color="#8f8f8f"/></linearGradient><linearGradient id="sg93" gradientUnits="userSpaceOnUse" x1="1357.8" y1="0" x2="1938.5" y2="0"><stop offset="0.0000" stop-color="#f2f2f2"/><stop offset="0.0276" stop-color="#f2f2f2"/><stop offset="0.1967" stop-color="#f2f2f2"/><stop offset="0.2035" stop-color="#050505"/><stop offset="0.2785" stop-color="#0a0a0a"/><stop offset="0.2888" stop-color="#8c8c8c"/><stop offset="0.3112" stop-color="#adadad"/><stop offset="0.3224" stop-color="#4c4c4c"/><stop offset="0.3327" stop-color="#262626"/><stop offset="0.3396" stop-color="#0a0a0a"/><stop offset="0.3646" stop-color="#0a0a0a"/><stop offset="0.3697" stop-color="#262626"/><stop offset="0.3809" stop-color="#4c4c4c"/><stop offset="0.4016" stop-color="#b8b8b8"/><stop offset="0.4412" stop-color="#a8a8a8"/><stop offset="0.4550" stop-color="#919191"/><stop offset="0.9724" stop-color="#8f8f8f"/><stop offset="1.0000" stop-color="#8f8f8f"/></linearGradient><linearGradient id="sg94" gradientUnits="userSpaceOnUse" x1="1357.8" y1="0" x2="1938.5" y2="0"><stop offset="0.0000" stop-color="#f2f2f2"/><stop offset="0.0276" stop-color="#f2f2f2"/><stop offset="0.1939" stop-color="#f2f2f2"/><stop offset="0.2008" stop-color="#050505"/><stop offset="0.2740" stop-color="#0a0a0a"/><stop offset="0.2843" stop-color="#8c8c8c"/><stop offset="0.3095" stop-color="#adadad"/><stop offset="0.3210" stop-color="#4c4c4c"/><stop offset="0.3313" stop-color="#262626"/><stop offset="0.3382" stop-color="#0a0a0a"/><stop offset="0.3628" stop-color="#0a0a0a"/><stop offset="0.3680" stop-color="#262626"/><stop offset="0.3789" stop-color="#4c4c4c"/><stop offset="0.3995" stop-color="#b8b8b8"/><stop offset="0.4398" stop-color="#a8a8a8"/><stop offset="0.4536" stop-color="#919191"/><stop offset="0.9724" stop-color="#8f8f8f"/><stop offset="1.0000" stop-color="#8f8f8f"/></linearGradient><linearGradient id="sg95" gradientUnits="userSpaceOnUse" x1="1357.8" y1="0" x2="1938.5" y2="0"><stop offset="0.0000" stop-color="#f2f2f2"/><stop offset="0.0276" stop-color="#f2f2f2"/><stop offset="0.1911" stop-color="#f2f2f2"/><stop offset="0.1980" stop-color="#050505"/><stop offset="0.2695" stop-color="#0a0a0a"/><stop offset="0.2798" stop-color="#8c8c8c"/><stop offset="0.3077" stop-color="#adadad"/><stop offset="0.3196" stop-color="#4c4c4c"/><stop offset="0.3299" stop-color="#262626"/><stop offset="0.3368" stop-color="#0a0a0a"/><stop offset="0.3611" stop-color="#0a0a0a"/><stop offset="0.3663" stop-color="#262626"/><stop offset="0.3768" stop-color="#4c4c4c"/><stop offset="0.3975" stop-color="#b8b8b8"/><stop offset="0.4384" stop-color="#a8a8a8"/><stop offset="0.4522" stop-color="#919191"/><stop offset="0.9724" stop-color="#8f8f8f"/><stop offset="1.0000" stop-color="#8f8f8f"/></linearGradient><clipPath id="cp6"><rect x="1373.80" y="514.50" width="548.70" height="348.00"/></clipPath><filter id="nzBot6" x="0" y="0" width="1" height="1" color-interpolation-filters="sRGB">
<feFlood x="1358" y="514" width="1" height="1" flood-color="#fff" result="fl"/>
<feComposite in="fl" x="1358" y="514" width="5" height="1" result="fl2"/>
<feTile in="fl2" result="tile"/>
<feTurbulence type="fractalNoise" baseFrequency="0.0004 0.8" numOctaves="1" seed="18" result="rn"/>
<feColorMatrix in="rn" type="matrix" values="1 0 0 0 0  0 0 0 0 0.5  0 0 0 0 0  0 0 0 0 1" result="dm"/>
<feDisplacementMap in="SourceGraphic" in2="dm" scale="26" xChannelSelector="R" yChannelSelector="G" result="disp0"/>
<feComposite in="disp0" in2="tile" operator="in" result="dsamp"/>
<feMorphology in="dsamp" operator="dilate" radius="2 0" result="disp"/>
<feTurbulence type="fractalNoise" baseFrequency="0.12 0.004" numOctaves="1" seed="14" result="tb"/>
<feColorMatrix in="tb" type="matrix" values="1 0 0 0 0  1 0 0 0 0  1 0 0 0 0  0 0 0 0 1" result="gb"/>
<feComponentTransfer in="gb" result="gbs"><feFuncR type="linear" slope="0.2" intercept="0.4"/><feFuncG type="linear" slope="0.2" intercept="0.4"/><feFuncB type="linear" slope="0.2" intercept="0.4"/></feComponentTransfer>
<feBlend in="gbs" in2="disp" mode="overlay" result="sb"/>
<feTurbulence type="fractalNoise" baseFrequency="0.06 0.75" numOctaves="2" seed="9" result="t"/>
<feColorMatrix in="t" type="matrix" values="1 0 0 0 0  1 0 0 0 0  1 0 0 0 0  0 0 0 0 1" result="g"/>
<feComposite in="g" in2="tile" operator="in" result="samp"/>
<feMorphology in="samp" operator="dilate" radius="2 0" result="cells"/>
<feComponentTransfer in="cells" result="gs"><feFuncR type="linear" slope="0.62" intercept="0.19"/><feFuncG type="linear" slope="0.62" intercept="0.19"/><feFuncB type="linear" slope="0.62" intercept="0.19"/></feComponentTransfer>
<feBlend in="gs" in2="sb" mode="overlay" result="r1"/>
<feTurbulence type="fractalNoise" baseFrequency="0.07 0.5" numOctaves="2" seed="29" result="t2"/>
<feColorMatrix in="t2" type="matrix" values="1 0 0 0 0  1 0 0 0 0  1 0 0 0 0  0 0 0 0 1" result="g2"/>
<feComposite in="g2" in2="tile" operator="in" result="samp2"/>
<feMorphology in="samp2" operator="dilate" radius="2 0" result="cells2"/>
<feComponentTransfer in="cells2" result="dk"><feFuncR type="table" tableValues="0.55 0.62 0.8 1 1 1 1 1"/><feFuncG type="table" tableValues="0.55 0.62 0.8 1 1 1 1 1"/><feFuncB type="table" tableValues="0.55 0.62 0.8 1 1 1 1 1"/></feComponentTransfer>
<feBlend in="dk" in2="r1" mode="multiply"/>
</filter></defs><rect width="2007" height="978" fill="#fff"/><g clip-path="url(#cpt1)"><g filter="url(#nzTop)"><rect x="49.00" y="42.70" width="537.70" height="352.40" fill="url(#gt1_0)"/><line x1="333.2" y1="247.5" x2="436.7" y2="247.5" stroke="#000" stroke-width="1" opacity="0.45"/><line x1="353.2" y1="118.5" x2="437.1" y2="118.5" stroke="#000" stroke-width="1" opacity="0.54"/><line x1="336.3" y1="68.5" x2="426.7" y2="68.5" stroke="#000" stroke-width="1" opacity="0.39"/><line x1="258.1" y1="157.5" x2="288.7" y2="157.5" stroke="#000" stroke-width="1" opacity="0.34"/><line x1="401.1" y1="82.5" x2="466.0" y2="82.5" stroke="#fff" stroke-width="1" opacity="0.37"/><line x1="354.8" y1="176.5" x2="436.7" y2="176.5" stroke="#000" stroke-width="1" opacity="0.39"/><line x1="330.6" y1="230.5" x2="415.4" y2="230.5" stroke="#000" stroke-width="1" opacity="0.42"/><line x1="344.1" y1="97.5" x2="374.7" y2="97.5" stroke="#000" stroke-width="1" opacity="0.46"/><line x1="371.3" y1="298.5" x2="436.7" y2="298.5" stroke="#000" stroke-width="1" opacity="0.51"/><line x1="406.8" y1="152.5" x2="473.0" y2="152.5" stroke="#000" stroke-width="1" opacity="0.28"/><line x1="337.3" y1="54.5" x2="436.7" y2="54.5" stroke="#fff" stroke-width="1" opacity="0.29"/><line x1="468.0" y1="290.5" x2="542.4" y2="290.5" stroke="#000" stroke-width="1" opacity="0.30"/><line x1="511.0" y1="321.5" x2="559.5" y2="321.5" stroke="#fff" stroke-width="1" opacity="0.29"/><line x1="223.8" y1="378.5" x2="243.8" y2="378.5" stroke="#000" stroke-width="1" opacity="0.46"/><line x1="341.6" y1="166.5" x2="436.7" y2="166.5" stroke="#000" stroke-width="1" opacity="0.53"/><line x1="328.3" y1="131.5" x2="436.7" y2="131.5" stroke="#fff" stroke-width="1" opacity="0.35"/><line x1="508.5" y1="77.5" x2="524.4" y2="77.5" stroke="#fff" stroke-width="1" opacity="0.51"/><line x1="465.4" y1="204.5" x2="498.3" y2="204.5" stroke="#000" stroke-width="1" opacity="0.45"/><line x1="222.1" y1="236.5" x2="307.4" y2="236.5" stroke="#000" stroke-width="1" opacity="0.45"/><line x1="333.3" y1="356.5" x2="377.1" y2="356.5" stroke="#000" stroke-width="1" opacity="0.29"/><line x1="360.1" y1="85.5" x2="423.2" y2="85.5" stroke="#fff" stroke-width="1" opacity="0.45"/><line x1="365.0" y1="284.5" x2="436.7" y2="284.5" stroke="#000" stroke-width="1" opacity="0.41"/><line x1="429.4" y1="155.5" x2="462.4" y2="155.5" stroke="#000" stroke-width="1" opacity="0.39"/><line x1="327.3" y1="147.5" x2="436.7" y2="147.5" stroke="#fff" stroke-width="1" opacity="0.38"/><line x1="330.9" y1="276.5" x2="436.7" y2="276.5" stroke="#fff" stroke-width="1" opacity="0.39"/><line x1="79.2" y1="387.5" x2="125.0" y2="387.5" stroke="#000" stroke-width="1" opacity="0.33"/><line x1="338.8" y1="259.5" x2="436.7" y2="259.5" stroke="#000" stroke-width="1" opacity="0.46"/><line x1="406.8" y1="136.5" x2="495.1" y2="136.5" stroke="#fff" stroke-width="1" opacity="0.35"/><line x1="376.2" y1="299.5" x2="436.7" y2="299.5" stroke="#000" stroke-width="1" opacity="0.32"/><line x1="98.8" y1="119.5" x2="131.2" y2="119.5" stroke="#000" stroke-width="1" opacity="0.30"/><line x1="393.2" y1="299.5" x2="475.7" y2="299.5" stroke="#000" stroke-width="1" opacity="0.26"/><line x1="419.3" y1="109.5" x2="503.2" y2="109.5" stroke="#000" stroke-width="1" opacity="0.32"/><line x1="221.4" y1="251.5" x2="306.2" y2="251.5" stroke="#fff" stroke-width="1" opacity="0.42"/><line x1="338.1" y1="212.5" x2="366.6" y2="212.5" stroke="#fff" stroke-width="1" opacity="0.46"/><line x1="563.5" y1="391.5" x2="608.7" y2="391.5" stroke="#000" stroke-width="1" opacity="0.27"/><line x1="559.6" y1="144.5" x2="596.9" y2="144.5" stroke="#000" stroke-width="1" opacity="0.47"/><line x1="127.4" y1="179.5" x2="206.4" y2="179.5" stroke="#fff" stroke-width="1" opacity="0.48"/><line x1="331.5" y1="371.5" x2="382.4" y2="371.5" stroke="#fff" stroke-width="1" opacity="0.39"/><line x1="342.7" y1="113.5" x2="405.0" y2="113.5" stroke="#fff" stroke-width="1" opacity="0.52"/><line x1="147.8" y1="308.5" x2="221.1" y2="308.5" stroke="#000" stroke-width="1" opacity="0.41"/><line x1="115.5" y1="55.5" x2="175.0" y2="55.5" stroke="#fff" stroke-width="1" opacity="0.44"/><line x1="331.9" y1="282.5" x2="436.7" y2="282.5" stroke="#fff" stroke-width="1" opacity="0.54"/><line x1="385.8" y1="341.5" x2="418.6" y2="341.5" stroke="#fff" stroke-width="1" opacity="0.36"/><line x1="408.0" y1="342.5" x2="436.7" y2="342.5" stroke="#000" stroke-width="1" opacity="0.25"/><line x1="481.4" y1="87.5" x2="565.2" y2="87.5" stroke="#000" stroke-width="1" opacity="0.46"/><line x1="188.6" y1="321.5" x2="276.4" y2="321.5" stroke="#fff" stroke-width="1" opacity="0.46"/><line x1="367.8" y1="143.5" x2="436.7" y2="143.5" stroke="#000" stroke-width="1" opacity="0.53"/><line x1="73.2" y1="190.5" x2="128.0" y2="190.5" stroke="#fff" stroke-width="1" opacity="0.25"/><line x1="358.7" y1="287.5" x2="436.7" y2="287.5" stroke="#000" stroke-width="1" opacity="0.53"/><line x1="366.3" y1="128.5" x2="396.8" y2="128.5" stroke="#000" stroke-width="1" opacity="0.48"/><line x1="507.4" y1="77.5" x2="556.4" y2="77.5" stroke="#fff" stroke-width="1" opacity="0.50"/><line x1="338.1" y1="101.5" x2="436.7" y2="101.5" stroke="#fff" stroke-width="1" opacity="0.46"/><line x1="432.0" y1="222.5" x2="504.2" y2="222.5" stroke="#fff" stroke-width="1" opacity="0.27"/><line x1="55.6" y1="303.5" x2="89.7" y2="303.5" stroke="#fff" stroke-width="1" opacity="0.41"/><line x1="337.0" y1="240.5" x2="436.7" y2="240.5" stroke="#fff" stroke-width="1" opacity="0.42"/><line x1="340.6" y1="299.5" x2="413.2" y2="299.5" stroke="#fff" stroke-width="1" opacity="0.29"/><line x1="206.9" y1="95.5" x2="232.4" y2="95.5" stroke="#000" stroke-width="1" opacity="0.38"/><line x1="397.2" y1="321.5" x2="428.5" y2="321.5" stroke="#000" stroke-width="1" opacity="0.45"/><line x1="341.8" y1="46.5" x2="386.4" y2="46.5" stroke="#fff" stroke-width="1" opacity="0.30"/><line x1="176.4" y1="295.5" x2="256.1" y2="295.5" stroke="#000" stroke-width="1" opacity="0.48"/><line x1="352.6" y1="246.5" x2="436.7" y2="246.5" stroke="#000" stroke-width="1" opacity="0.42"/><line x1="328.8" y1="146.5" x2="436.7" y2="146.5" stroke="#000" stroke-width="1" opacity="0.52"/><line x1="337.9" y1="293.5" x2="399.9" y2="293.5" stroke="#fff" stroke-width="1" opacity="0.51"/><line x1="393.9" y1="131.5" x2="436.7" y2="131.5" stroke="#000" stroke-width="1" opacity="0.37"/><line x1="502.9" y1="281.5" x2="518.8" y2="281.5" stroke="#000" stroke-width="1" opacity="0.29"/><line x1="359.4" y1="252.5" x2="436.7" y2="252.5" stroke="#fff" stroke-width="1" opacity="0.46"/><line x1="494.8" y1="115.5" x2="571.5" y2="115.5" stroke="#fff" stroke-width="1" opacity="0.30"/><line x1="389.6" y1="62.5" x2="431.7" y2="62.5" stroke="#fff" stroke-width="1" opacity="0.51"/><line x1="126.9" y1="287.5" x2="202.6" y2="287.5" stroke="#000" stroke-width="1" opacity="0.40"/><line x1="171.1" y1="309.5" x2="252.1" y2="309.5" stroke="#000" stroke-width="1" opacity="0.38"/><line x1="69.1" y1="197.5" x2="132.0" y2="197.5" stroke="#000" stroke-width="1" opacity="0.49"/><line x1="549.9" y1="171.5" x2="569.3" y2="171.5" stroke="#fff" stroke-width="1" opacity="0.39"/><line x1="340.0" y1="148.5" x2="436.7" y2="148.5" stroke="#000" stroke-width="1" opacity="0.54"/><line x1="362.3" y1="224.5" x2="436.7" y2="224.5" stroke="#fff" stroke-width="1" opacity="0.29"/><line x1="344.3" y1="285.5" x2="404.6" y2="285.5" stroke="#000" stroke-width="1" opacity="0.33"/><line x1="264.3" y1="242.5" x2="317.5" y2="242.5" stroke="#fff" stroke-width="1" opacity="0.32"/><line x1="341.6" y1="392.5" x2="436.7" y2="392.5" stroke="#000" stroke-width="1" opacity="0.35"/><line x1="502.5" y1="103.5" x2="523.6" y2="103.5" stroke="#000" stroke-width="1" opacity="0.30"/><line x1="366.8" y1="50.5" x2="436.7" y2="50.5" stroke="#000" stroke-width="1" opacity="0.42"/><line x1="337.0" y1="72.5" x2="432.1" y2="72.5" stroke="#000" stroke-width="1" opacity="0.46"/><line x1="377.6" y1="161.5" x2="424.6" y2="161.5" stroke="#000" stroke-width="1" opacity="0.48"/><line x1="330.4" y1="69.5" x2="397.0" y2="69.5" stroke="#000" stroke-width="1" opacity="0.41"/><line x1="195.0" y1="100.5" x2="266.2" y2="100.5" stroke="#fff" stroke-width="1" opacity="0.54"/><line x1="495.2" y1="205.5" x2="535.4" y2="205.5" stroke="#fff" stroke-width="1" opacity="0.54"/><line x1="404.9" y1="98.5" x2="466.1" y2="98.5" stroke="#fff" stroke-width="1" opacity="0.33"/><line x1="143.9" y1="335.5" x2="231.4" y2="335.5" stroke="#fff" stroke-width="1" opacity="0.27"/><line x1="350.3" y1="55.5" x2="436.7" y2="55.5" stroke="#fff" stroke-width="1" opacity="0.52"/><line x1="335.9" y1="115.5" x2="394.1" y2="115.5" stroke="#000" stroke-width="1" opacity="0.36"/><line x1="465.1" y1="330.5" x2="544.8" y2="330.5" stroke="#fff" stroke-width="1" opacity="0.40"/><line x1="287.1" y1="186.5" x2="352.3" y2="186.5" stroke="#fff" stroke-width="1" opacity="0.45"/><line x1="284.9" y1="132.5" x2="309.1" y2="132.5" stroke="#000" stroke-width="1" opacity="0.39"/><line x1="77.9" y1="372.5" x2="161.7" y2="372.5" stroke="#fff" stroke-width="1" opacity="0.43"/><line x1="357.1" y1="45.5" x2="423.1" y2="45.5" stroke="#000" stroke-width="1" opacity="0.44"/><line x1="304.9" y1="257.5" x2="361.7" y2="257.5" stroke="#000" stroke-width="1" opacity="0.50"/><line x1="446.3" y1="347.5" x2="479.4" y2="347.5" stroke="#000" stroke-width="1" opacity="0.27"/><line x1="533.9" y1="318.5" x2="593.9" y2="318.5" stroke="#fff" stroke-width="1" opacity="0.50"/><line x1="329.2" y1="85.5" x2="436.7" y2="85.5" stroke="#fff" stroke-width="1" opacity="0.44"/><line x1="196.6" y1="182.5" x2="215.6" y2="182.5" stroke="#fff" stroke-width="1" opacity="0.27"/><line x1="106.1" y1="294.5" x2="153.8" y2="294.5" stroke="#000" stroke-width="1" opacity="0.49"/><line x1="341.8" y1="315.5" x2="395.9" y2="315.5" stroke="#000" stroke-width="1" opacity="0.43"/><line x1="341.3" y1="375.5" x2="419.5" y2="375.5" stroke="#000" stroke-width="1" opacity="0.47"/><line x1="471.4" y1="275.5" x2="501.1" y2="275.5" stroke="#fff" stroke-width="1" opacity="0.30"/><line x1="330.4" y1="211.5" x2="353.8" y2="211.5" stroke="#000" stroke-width="1" opacity="0.33"/><line x1="363.9" y1="140.5" x2="406.4" y2="140.5" stroke="#fff" stroke-width="1" opacity="0.53"/><line x1="348.4" y1="375.5" x2="408.0" y2="375.5" stroke="#fff" stroke-width="1" opacity="0.46"/><line x1="566.0" y1="249.5" x2="653.1" y2="249.5" stroke="#fff" stroke-width="1" opacity="0.33"/><line x1="352.1" y1="312.5" x2="436.7" y2="312.5" stroke="#fff" stroke-width="1" opacity="0.38"/><line x1="396.5" y1="292.5" x2="436.7" y2="292.5" stroke="#000" stroke-width="1" opacity="0.33"/><line x1="466.9" y1="276.5" x2="533.2" y2="276.5" stroke="#fff" stroke-width="1" opacity="0.53"/><line x1="353.2" y1="66.5" x2="389.6" y2="66.5" stroke="#fff" stroke-width="1" opacity="0.47"/><line x1="176.8" y1="107.5" x2="193.1" y2="107.5" stroke="#000" stroke-width="1" opacity="0.33"/><line x1="83.9" y1="284.5" x2="135.7" y2="284.5" stroke="#000" stroke-width="1" opacity="0.44"/><line x1="191.6" y1="95.5" x2="250.0" y2="95.5" stroke="#000" stroke-width="1" opacity="0.42"/><line x1="225.5" y1="351.5" x2="312.0" y2="351.5" stroke="#000" stroke-width="1" opacity="0.54"/><line x1="338.1" y1="279.5" x2="436.7" y2="279.5" stroke="#000" stroke-width="1" opacity="0.49"/><line x1="331.5" y1="76.5" x2="436.7" y2="76.5" stroke="#000" stroke-width="1" opacity="0.55"/><line x1="453.7" y1="246.5" x2="478.6" y2="246.5" stroke="#fff" stroke-width="1" opacity="0.43"/><line x1="364.0" y1="86.5" x2="436.7" y2="86.5" stroke="#fff" stroke-width="1" opacity="0.51"/><line x1="328.6" y1="235.5" x2="436.7" y2="235.5" stroke="#000" stroke-width="1" opacity="0.41"/><line x1="333.9" y1="85.5" x2="390.7" y2="85.5" stroke="#fff" stroke-width="1" opacity="0.51"/><line x1="181.1" y1="306.5" x2="260.1" y2="306.5" stroke="#000" stroke-width="1" opacity="0.36"/><line x1="289.4" y1="233.5" x2="308.8" y2="233.5" stroke="#000" stroke-width="1" opacity="0.42"/><line x1="352.9" y1="282.5" x2="392.0" y2="282.5" stroke="#000" stroke-width="1" opacity="0.37"/><line x1="439.0" y1="155.5" x2="500.2" y2="155.5" stroke="#fff" stroke-width="1" opacity="0.37"/><line x1="334.8" y1="367.5" x2="368.0" y2="367.5" stroke="#000" stroke-width="1" opacity="0.35"/><line x1="395.6" y1="113.5" x2="425.5" y2="113.5" stroke="#fff" stroke-width="1" opacity="0.54"/><line x1="506.6" y1="131.5" x2="554.5" y2="131.5" stroke="#fff" stroke-width="1" opacity="0.26"/><line x1="304.6" y1="243.5" x2="381.8" y2="243.5" stroke="#fff" stroke-width="1" opacity="0.50"/><line x1="500.0" y1="211.5" x2="561.8" y2="211.5" stroke="#000" stroke-width="1" opacity="0.31"/><line x1="329.1" y1="257.5" x2="436.7" y2="257.5" stroke="#000" stroke-width="1" opacity="0.55"/><line x1="266.2" y1="336.5" x2="298.8" y2="336.5" stroke="#000" stroke-width="1" opacity="0.32"/><line x1="126.7" y1="217.5" x2="176.0" y2="217.5" stroke="#000" stroke-width="1" opacity="0.51"/><line x1="382.5" y1="148.5" x2="467.7" y2="148.5" stroke="#000" stroke-width="1" opacity="0.33"/><line x1="330.7" y1="214.5" x2="436.7" y2="214.5" stroke="#000" stroke-width="1" opacity="0.31"/><line x1="280.3" y1="62.5" x2="296.0" y2="62.5" stroke="#000" stroke-width="1" opacity="0.49"/><line x1="328.2" y1="262.5" x2="436.7" y2="262.5" stroke="#000" stroke-width="1" opacity="0.32"/><line x1="343.4" y1="257.5" x2="436.7" y2="257.5" stroke="#fff" stroke-width="1" opacity="0.40"/><line x1="374.9" y1="381.5" x2="428.5" y2="381.5" stroke="#fff" stroke-width="1" opacity="0.52"/><line x1="459.8" y1="219.5" x2="537.9" y2="219.5" stroke="#fff" stroke-width="1" opacity="0.30"/><line x1="332.5" y1="88.5" x2="387.5" y2="88.5" stroke="#000" stroke-width="1" opacity="0.29"/><line x1="510.2" y1="94.5" x2="541.7" y2="94.5" stroke="#fff" stroke-width="1" opacity="0.37"/><line x1="106.4" y1="47.5" x2="157.5" y2="47.5" stroke="#000" stroke-width="1" opacity="0.34"/><line x1="329.5" y1="167.5" x2="436.7" y2="167.5" stroke="#fff" stroke-width="1" opacity="0.39"/><line x1="411.1" y1="335.5" x2="459.6" y2="335.5" stroke="#fff" stroke-width="1" opacity="0.28"/><line x1="432.4" y1="104.5" x2="474.4" y2="104.5" stroke="#000" stroke-width="1" opacity="0.43"/><line x1="343.6" y1="80.5" x2="436.7" y2="80.5" stroke="#fff" stroke-width="1" opacity="0.28"/><line x1="348.5" y1="299.5" x2="436.7" y2="299.5" stroke="#fff" stroke-width="1" opacity="0.51"/><line x1="530.9" y1="330.5" x2="550.8" y2="330.5" stroke="#000" stroke-width="1" opacity="0.46"/><line x1="264.0" y1="85.5" x2="335.5" y2="85.5" stroke="#000" stroke-width="1" opacity="0.42"/><line x1="142.5" y1="295.5" x2="175.6" y2="295.5" stroke="#fff" stroke-width="1" opacity="0.49"/><line x1="347.5" y1="221.5" x2="436.7" y2="221.5" stroke="#fff" stroke-width="1" opacity="0.54"/><line x1="177.2" y1="265.5" x2="213.8" y2="265.5" stroke="#fff" stroke-width="1" opacity="0.55"/><line x1="404.1" y1="81.5" x2="464.8" y2="81.5" stroke="#000" stroke-width="1" opacity="0.36"/><line x1="336.3" y1="366.5" x2="424.8" y2="366.5" stroke="#000" stroke-width="1" opacity="0.37"/><line x1="182.0" y1="239.5" x2="244.8" y2="239.5" stroke="#fff" stroke-width="1" opacity="0.50"/><line x1="282.5" y1="208.5" x2="366.2" y2="208.5" stroke="#000" stroke-width="1" opacity="0.47"/><line x1="437.4" y1="145.5" x2="457.0" y2="145.5" stroke="#fff" stroke-width="1" opacity="0.28"/><line x1="349.1" y1="320.5" x2="400.8" y2="320.5" stroke="#000" stroke-width="1" opacity="0.43"/><line x1="245.7" y1="165.5" x2="319.0" y2="165.5" stroke="#000" stroke-width="1" opacity="0.41"/><line x1="358.5" y1="249.5" x2="436.7" y2="249.5" stroke="#fff" stroke-width="1" opacity="0.45"/><line x1="352.8" y1="123.5" x2="436.7" y2="123.5" stroke="#000" stroke-width="1" opacity="0.55"/><line x1="111.3" y1="373.5" x2="155.6" y2="373.5" stroke="#000" stroke-width="1" opacity="0.42"/><line x1="507.7" y1="147.5" x2="531.0" y2="147.5" stroke="#000" stroke-width="1" opacity="0.41"/><line x1="346.2" y1="49.5" x2="436.7" y2="49.5" stroke="#000" stroke-width="1" opacity="0.41"/><line x1="251.9" y1="347.5" x2="281.0" y2="347.5" stroke="#fff" stroke-width="1" opacity="0.48"/><line x1="337.6" y1="284.5" x2="436.7" y2="284.5" stroke="#fff" stroke-width="1" opacity="0.50"/><line x1="470.8" y1="150.5" x2="553.0" y2="150.5" stroke="#fff" stroke-width="1" opacity="0.27"/><line x1="383.1" y1="62.5" x2="436.7" y2="62.5" stroke="#000" stroke-width="1" opacity="0.39"/><line x1="369.0" y1="100.5" x2="436.7" y2="100.5" stroke="#000" stroke-width="1" opacity="0.40"/><line x1="313.5" y1="380.5" x2="337.3" y2="380.5" stroke="#fff" stroke-width="1" opacity="0.29"/><line x1="338.9" y1="47.5" x2="436.7" y2="47.5" stroke="#000" stroke-width="1" opacity="0.48"/><line x1="317.8" y1="229.5" x2="387.7" y2="229.5" stroke="#000" stroke-width="1" opacity="0.33"/><line x1="458.7" y1="322.5" x2="524.4" y2="322.5" stroke="#fff" stroke-width="1" opacity="0.42"/><line x1="256.4" y1="275.5" x2="274.3" y2="275.5" stroke="#fff" stroke-width="1" opacity="0.52"/><line x1="332.3" y1="157.5" x2="436.7" y2="157.5" stroke="#000" stroke-width="1" opacity="0.38"/><line x1="410.0" y1="52.5" x2="482.8" y2="52.5" stroke="#fff" stroke-width="1" opacity="0.46"/><line x1="351.7" y1="360.5" x2="386.4" y2="360.5" stroke="#000" stroke-width="1" opacity="0.27"/><line x1="421.5" y1="266.5" x2="498.6" y2="266.5" stroke="#000" stroke-width="1" opacity="0.26"/><line x1="417.4" y1="199.5" x2="457.5" y2="199.5" stroke="#fff" stroke-width="1" opacity="0.41"/><line x1="520.6" y1="214.5" x2="591.0" y2="214.5" stroke="#fff" stroke-width="1" opacity="0.30"/><line x1="349.9" y1="81.5" x2="436.7" y2="81.5" stroke="#000" stroke-width="1" opacity="0.43"/><line x1="557.0" y1="116.5" x2="637.5" y2="116.5" stroke="#000" stroke-width="1" opacity="0.27"/><line x1="225.0" y1="128.5" x2="273.4" y2="128.5" stroke="#000" stroke-width="1" opacity="0.52"/><line x1="356.0" y1="167.5" x2="428.1" y2="167.5" stroke="#000" stroke-width="1" opacity="0.40"/><line x1="333.3" y1="224.5" x2="417.3" y2="224.5" stroke="#000" stroke-width="1" opacity="0.39"/><line x1="352.2" y1="166.5" x2="436.7" y2="166.5" stroke="#fff" stroke-width="1" opacity="0.27"/><line x1="513.8" y1="344.5" x2="539.6" y2="344.5" stroke="#000" stroke-width="1" opacity="0.47"/><line x1="329.5" y1="280.5" x2="436.7" y2="280.5" stroke="#fff" stroke-width="1" opacity="0.36"/><line x1="330.0" y1="208.5" x2="436.7" y2="208.5" stroke="#000" stroke-width="1" opacity="0.53"/><line x1="365.2" y1="315.5" x2="436.7" y2="315.5" stroke="#fff" stroke-width="1" opacity="0.42"/><line x1="444.9" y1="190.5" x2="490.2" y2="190.5" stroke="#000" stroke-width="1" opacity="0.33"/><line x1="392.3" y1="89.5" x2="436.7" y2="89.5" stroke="#000" stroke-width="1" opacity="0.26"/><line x1="344.8" y1="386.5" x2="430.4" y2="386.5" stroke="#000" stroke-width="1" opacity="0.49"/><line x1="393.4" y1="295.5" x2="436.7" y2="295.5" stroke="#000" stroke-width="1" opacity="0.48"/><line x1="353.3" y1="369.5" x2="421.0" y2="369.5" stroke="#fff" stroke-width="1" opacity="0.54"/><line x1="337.9" y1="281.5" x2="436.7" y2="281.5" stroke="#000" stroke-width="1" opacity="0.36"/><line x1="457.3" y1="109.5" x2="490.2" y2="109.5" stroke="#fff" stroke-width="1" opacity="0.53"/><line x1="339.3" y1="150.5" x2="436.7" y2="150.5" stroke="#000" stroke-width="1" opacity="0.51"/><line x1="543.0" y1="180.5" x2="594.4" y2="180.5" stroke="#000" stroke-width="1" opacity="0.51"/><line x1="327.2" y1="380.5" x2="436.7" y2="380.5" stroke="#fff" stroke-width="1" opacity="0.52"/><line x1="348.6" y1="202.5" x2="395.3" y2="202.5" stroke="#000" stroke-width="1" opacity="0.30"/><line x1="338.6" y1="44.5" x2="427.6" y2="44.5" stroke="#000" stroke-width="1" opacity="0.54"/><line x1="360.7" y1="283.5" x2="436.7" y2="283.5" stroke="#fff" stroke-width="1" opacity="0.46"/><line x1="364.5" y1="138.5" x2="417.3" y2="138.5" stroke="#000" stroke-width="1" opacity="0.49"/><line x1="236.8" y1="149.5" x2="299.5" y2="149.5" stroke="#000" stroke-width="1" opacity="0.36"/><line x1="345.6" y1="140.5" x2="425.3" y2="140.5" stroke="#fff" stroke-width="1" opacity="0.25"/><line x1="528.3" y1="306.5" x2="560.5" y2="306.5" stroke="#fff" stroke-width="1" opacity="0.31"/><line x1="497.0" y1="262.5" x2="551.1" y2="262.5" stroke="#fff" stroke-width="1" opacity="0.34"/><line x1="344.1" y1="77.5" x2="427.4" y2="77.5" stroke="#000" stroke-width="1" opacity="0.36"/><line x1="400.6" y1="48.5" x2="435.4" y2="48.5" stroke="#000" stroke-width="1" opacity="0.47"/><line x1="73.4" y1="373.5" x2="145.2" y2="373.5" stroke="#fff" stroke-width="1" opacity="0.50"/><line x1="438.4" y1="319.5" x2="486.0" y2="319.5" stroke="#000" stroke-width="1" opacity="0.32"/><line x1="564.0" y1="208.5" x2="606.4" y2="208.5" stroke="#000" stroke-width="1" opacity="0.48"/><line x1="343.7" y1="145.5" x2="410.1" y2="145.5" stroke="#000" stroke-width="1" opacity="0.43"/><line x1="351.1" y1="200.5" x2="426.2" y2="200.5" stroke="#000" stroke-width="1" opacity="0.54"/><line x1="387.5" y1="382.5" x2="433.6" y2="382.5" stroke="#000" stroke-width="1" opacity="0.48"/><line x1="354.7" y1="370.5" x2="433.0" y2="370.5" stroke="#000" stroke-width="1" opacity="0.31"/><line x1="351.8" y1="215.5" x2="418.6" y2="215.5" stroke="#000" stroke-width="1" opacity="0.37"/><line x1="276.3" y1="317.5" x2="325.5" y2="317.5" stroke="#fff" stroke-width="1" opacity="0.54"/><line x1="271.9" y1="350.5" x2="325.9" y2="350.5" stroke="#000" stroke-width="1" opacity="0.54"/><line x1="381.8" y1="105.5" x2="415.9" y2="105.5" stroke="#fff" stroke-width="1" opacity="0.34"/><line x1="118.4" y1="302.5" x2="172.2" y2="302.5" stroke="#fff" stroke-width="1" opacity="0.25"/><line x1="377.1" y1="90.5" x2="436.7" y2="90.5" stroke="#000" stroke-width="1" opacity="0.45"/><line x1="332.3" y1="128.5" x2="436.7" y2="128.5" stroke="#000" stroke-width="1" opacity="0.27"/><line x1="554.1" y1="124.5" x2="617.4" y2="124.5" stroke="#000" stroke-width="1" opacity="0.32"/><line x1="557.1" y1="161.5" x2="599.8" y2="161.5" stroke="#fff" stroke-width="1" opacity="0.46"/><line x1="348.8" y1="297.5" x2="405.2" y2="297.5" stroke="#000" stroke-width="1" opacity="0.32"/><line x1="233.3" y1="55.5" x2="285.1" y2="55.5" stroke="#000" stroke-width="1" opacity="0.53"/><line x1="168.7" y1="272.5" x2="240.9" y2="272.5" stroke="#000" stroke-width="1" opacity="0.32"/><line x1="399.5" y1="269.5" x2="436.7" y2="269.5" stroke="#fff" stroke-width="1" opacity="0.38"/><line x1="90.2" y1="93.5" x2="166.8" y2="93.5" stroke="#000" stroke-width="1" opacity="0.33"/><line x1="344.1" y1="55.5" x2="436.7" y2="55.5" stroke="#000" stroke-width="1" opacity="0.50"/><line x1="362.8" y1="141.5" x2="418.3" y2="141.5" stroke="#000" stroke-width="1" opacity="0.39"/><line x1="243.2" y1="295.5" x2="290.5" y2="295.5" stroke="#fff" stroke-width="1" opacity="0.30"/><line x1="393.5" y1="68.5" x2="431.9" y2="68.5" stroke="#000" stroke-width="1" opacity="0.48"/><line x1="334.9" y1="278.5" x2="436.7" y2="278.5" stroke="#000" stroke-width="1" opacity="0.29"/><line x1="335.8" y1="301.5" x2="436.7" y2="301.5" stroke="#000" stroke-width="1" opacity="0.48"/><line x1="216.7" y1="98.5" x2="245.9" y2="98.5" stroke="#fff" stroke-width="1" opacity="0.53"/><line x1="247.0" y1="234.5" x2="288.7" y2="234.5" stroke="#fff" stroke-width="1" opacity="0.45"/><line x1="368.9" y1="47.5" x2="436.7" y2="47.5" stroke="#000" stroke-width="1" opacity="0.36"/><line x1="329.0" y1="367.5" x2="359.3" y2="367.5" stroke="#fff" stroke-width="1" opacity="0.54"/><line x1="127.7" y1="380.5" x2="151.4" y2="380.5" stroke="#fff" stroke-width="1" opacity="0.48"/><line x1="332.4" y1="262.5" x2="402.4" y2="262.5" stroke="#000" stroke-width="1" opacity="0.25"/><line x1="77.5" y1="359.5" x2="153.1" y2="359.5" stroke="#000" stroke-width="1" opacity="0.33"/><line x1="533.7" y1="331.5" x2="613.7" y2="331.5" stroke="#000" stroke-width="1" opacity="0.36"/><line x1="491.2" y1="99.5" x2="538.4" y2="99.5" stroke="#fff" stroke-width="1" opacity="0.55"/><line x1="398.2" y1="269.5" x2="454.2" y2="269.5" stroke="#000" stroke-width="1" opacity="0.40"/><line x1="330.2" y1="341.5" x2="436.7" y2="341.5" stroke="#000" stroke-width="1" opacity="0.31"/><line x1="336.0" y1="145.5" x2="412.9" y2="145.5" stroke="#fff" stroke-width="1" opacity="0.49"/><line x1="346.4" y1="49.5" x2="436.7" y2="49.5" stroke="#fff" stroke-width="1" opacity="0.36"/><line x1="453.4" y1="175.5" x2="494.0" y2="175.5" stroke="#fff" stroke-width="1" opacity="0.27"/><line x1="340.7" y1="314.5" x2="416.5" y2="314.5" stroke="#000" stroke-width="1" opacity="0.43"/><line x1="387.5" y1="123.5" x2="404.4" y2="123.5" stroke="#fff" stroke-width="1" opacity="0.32"/><line x1="350.0" y1="73.5" x2="374.0" y2="73.5" stroke="#000" stroke-width="1" opacity="0.36"/><line x1="346.5" y1="343.5" x2="373.1" y2="343.5" stroke="#000" stroke-width="1" opacity="0.27"/><line x1="162.2" y1="203.5" x2="204.4" y2="203.5" stroke="#fff" stroke-width="1" opacity="0.46"/><line x1="375.5" y1="363.5" x2="436.7" y2="363.5" stroke="#000" stroke-width="1" opacity="0.35"/><line x1="54.4" y1="130.5" x2="85.3" y2="130.5" stroke="#000" stroke-width="1" opacity="0.32"/><line x1="355.1" y1="345.5" x2="436.7" y2="345.5" stroke="#fff" stroke-width="1" opacity="0.40"/><line x1="248.4" y1="62.5" x2="305.9" y2="62.5" stroke="#fff" stroke-width="1" opacity="0.29"/></g></g><g clip-path="url(#cpt2)"><g filter="url(#nzTop)"><rect x="714.00" y="41.50" width="534.80" height="246.80" fill="url(#gt2_0)"/><rect x="714.00" y="287.80" width="534.80" height="108.70" fill="url(#gt2_1)"/><line x1="801.4" y1="94.5" x2="869.8" y2="94.5" stroke="#fff" stroke-width="1" opacity="0.37"/><line x1="736.3" y1="260.5" x2="791.0" y2="260.5" stroke="#fff" stroke-width="1" opacity="0.41"/><line x1="908.1" y1="352.5" x2="940.2" y2="352.5" stroke="#000" stroke-width="1" opacity="0.49"/><line x1="941.4" y1="285.5" x2="994.0" y2="285.5" stroke="#000" stroke-width="1" opacity="0.41"/><line x1="1038.4" y1="93.5" x2="1103.7" y2="93.5" stroke="#000" stroke-width="1" opacity="0.28"/><line x1="976.5" y1="159.5" x2="1047.6" y2="159.5" stroke="#000" stroke-width="1" opacity="0.37"/><line x1="1011.1" y1="362.5" x2="1086.2" y2="362.5" stroke="#fff" stroke-width="1" opacity="0.38"/><line x1="1001.0" y1="239.5" x2="1101.5" y2="239.5" stroke="#fff" stroke-width="1" opacity="0.44"/><line x1="944.2" y1="208.5" x2="1006.1" y2="208.5" stroke="#fff" stroke-width="1" opacity="0.46"/><line x1="1023.0" y1="180.5" x2="1106.7" y2="180.5" stroke="#fff" stroke-width="1" opacity="0.41"/><line x1="919.1" y1="385.5" x2="1004.4" y2="385.5" stroke="#fff" stroke-width="1" opacity="0.30"/><line x1="1168.4" y1="68.5" x2="1212.3" y2="68.5" stroke="#000" stroke-width="1" opacity="0.46"/><line x1="1020.2" y1="373.5" x2="1101.5" y2="373.5" stroke="#000" stroke-width="1" opacity="0.37"/><line x1="832.4" y1="92.5" x2="853.4" y2="92.5" stroke="#000" stroke-width="1" opacity="0.30"/><line x1="1029.0" y1="84.5" x2="1081.0" y2="84.5" stroke="#fff" stroke-width="1" opacity="0.37"/><line x1="1013.3" y1="128.5" x2="1101.5" y2="128.5" stroke="#000" stroke-width="1" opacity="0.39"/><line x1="952.0" y1="326.5" x2="1030.2" y2="326.5" stroke="#fff" stroke-width="1" opacity="0.32"/><line x1="1043.4" y1="75.5" x2="1101.5" y2="75.5" stroke="#fff" stroke-width="1" opacity="0.54"/><line x1="717.9" y1="366.5" x2="753.6" y2="366.5" stroke="#000" stroke-width="1" opacity="0.44"/><line x1="1077.0" y1="289.5" x2="1164.0" y2="289.5" stroke="#fff" stroke-width="1" opacity="0.39"/><line x1="1014.7" y1="337.5" x2="1101.5" y2="337.5" stroke="#fff" stroke-width="1" opacity="0.27"/><line x1="787.1" y1="108.5" x2="836.0" y2="108.5" stroke="#fff" stroke-width="1" opacity="0.39"/><line x1="889.7" y1="352.5" x2="914.8" y2="352.5" stroke="#fff" stroke-width="1" opacity="0.39"/><line x1="994.3" y1="130.5" x2="1068.8" y2="130.5" stroke="#000" stroke-width="1" opacity="0.42"/><line x1="1204.8" y1="368.5" x2="1224.8" y2="368.5" stroke="#fff" stroke-width="1" opacity="0.48"/><line x1="1029.2" y1="380.5" x2="1101.5" y2="380.5" stroke="#fff" stroke-width="1" opacity="0.39"/><line x1="1166.0" y1="138.5" x2="1233.6" y2="138.5" stroke="#fff" stroke-width="1" opacity="0.42"/><line x1="768.0" y1="70.5" x2="839.3" y2="70.5" stroke="#fff" stroke-width="1" opacity="0.31"/><line x1="993.4" y1="96.5" x2="1101.5" y2="96.5" stroke="#000" stroke-width="1" opacity="0.52"/><line x1="1033.6" y1="89.5" x2="1089.1" y2="89.5" stroke="#fff" stroke-width="1" opacity="0.32"/><line x1="1002.8" y1="212.5" x2="1086.5" y2="212.5" stroke="#000" stroke-width="1" opacity="0.40"/><line x1="998.1" y1="286.5" x2="1081.6" y2="286.5" stroke="#fff" stroke-width="1" opacity="0.26"/><line x1="1142.8" y1="201.5" x2="1232.0" y2="201.5" stroke="#000" stroke-width="1" opacity="0.54"/><line x1="1150.5" y1="62.5" x2="1194.8" y2="62.5" stroke="#000" stroke-width="1" opacity="0.38"/><line x1="1214.8" y1="176.5" x2="1247.1" y2="176.5" stroke="#000" stroke-width="1" opacity="0.49"/><line x1="1065.0" y1="304.5" x2="1148.6" y2="304.5" stroke="#fff" stroke-width="1" opacity="0.44"/><line x1="1003.6" y1="142.5" x2="1101.5" y2="142.5" stroke="#fff" stroke-width="1" opacity="0.33"/><line x1="820.4" y1="302.5" x2="837.2" y2="302.5" stroke="#000" stroke-width="1" opacity="0.32"/><line x1="1135.5" y1="282.5" x2="1202.2" y2="282.5" stroke="#fff" stroke-width="1" opacity="0.54"/><line x1="1084.2" y1="197.5" x2="1117.5" y2="197.5" stroke="#fff" stroke-width="1" opacity="0.30"/><line x1="719.1" y1="183.5" x2="774.3" y2="183.5" stroke="#000" stroke-width="1" opacity="0.33"/><line x1="885.7" y1="65.5" x2="908.0" y2="65.5" stroke="#000" stroke-width="1" opacity="0.45"/><line x1="756.9" y1="70.5" x2="807.2" y2="70.5" stroke="#000" stroke-width="1" opacity="0.51"/><line x1="865.5" y1="357.5" x2="904.8" y2="357.5" stroke="#fff" stroke-width="1" opacity="0.40"/><line x1="812.7" y1="266.5" x2="856.6" y2="266.5" stroke="#fff" stroke-width="1" opacity="0.35"/><line x1="994.7" y1="341.5" x2="1062.4" y2="341.5" stroke="#000" stroke-width="1" opacity="0.43"/><line x1="1035.9" y1="313.5" x2="1092.7" y2="313.5" stroke="#fff" stroke-width="1" opacity="0.50"/><line x1="892.6" y1="354.5" x2="954.0" y2="354.5" stroke="#000" stroke-width="1" opacity="0.36"/><line x1="1175.4" y1="144.5" x2="1208.5" y2="144.5" stroke="#000" stroke-width="1" opacity="0.30"/><line x1="1001.5" y1="171.5" x2="1081.3" y2="171.5" stroke="#000" stroke-width="1" opacity="0.49"/><line x1="1218.3" y1="128.5" x2="1246.0" y2="128.5" stroke="#000" stroke-width="1" opacity="0.54"/><line x1="1006.5" y1="184.5" x2="1102.0" y2="184.5" stroke="#000" stroke-width="1" opacity="0.51"/><line x1="1000.0" y1="239.5" x2="1101.5" y2="239.5" stroke="#fff" stroke-width="1" opacity="0.43"/><line x1="815.5" y1="308.5" x2="848.6" y2="308.5" stroke="#fff" stroke-width="1" opacity="0.38"/><line x1="982.5" y1="389.5" x2="1009.4" y2="389.5" stroke="#fff" stroke-width="1" opacity="0.43"/><line x1="959.8" y1="247.5" x2="1041.7" y2="247.5" stroke="#fff" stroke-width="1" opacity="0.30"/><line x1="997.7" y1="331.5" x2="1101.5" y2="331.5" stroke="#000" stroke-width="1" opacity="0.31"/><line x1="906.9" y1="290.5" x2="978.2" y2="290.5" stroke="#000" stroke-width="1" opacity="0.29"/><line x1="1208.1" y1="236.5" x2="1231.1" y2="236.5" stroke="#fff" stroke-width="1" opacity="0.35"/><line x1="1002.2" y1="384.5" x2="1055.3" y2="384.5" stroke="#000" stroke-width="1" opacity="0.30"/><line x1="1056.6" y1="313.5" x2="1101.3" y2="313.5" stroke="#000" stroke-width="1" opacity="0.45"/><line x1="1043.0" y1="115.5" x2="1101.5" y2="115.5" stroke="#000" stroke-width="1" opacity="0.44"/><line x1="1004.8" y1="286.5" x2="1083.9" y2="286.5" stroke="#fff" stroke-width="1" opacity="0.53"/><line x1="1072.3" y1="366.5" x2="1116.5" y2="366.5" stroke="#000" stroke-width="1" opacity="0.53"/><line x1="1012.2" y1="188.5" x2="1101.5" y2="188.5" stroke="#fff" stroke-width="1" opacity="0.28"/><line x1="1217.6" y1="318.5" x2="1303.2" y2="318.5" stroke="#fff" stroke-width="1" opacity="0.52"/><line x1="1223.5" y1="250.5" x2="1266.7" y2="250.5" stroke="#000" stroke-width="1" opacity="0.48"/><line x1="952.1" y1="373.5" x2="1000.8" y2="373.5" stroke="#000" stroke-width="1" opacity="0.51"/><line x1="997.4" y1="138.5" x2="1101.5" y2="138.5" stroke="#000" stroke-width="1" opacity="0.49"/><line x1="1098.0" y1="67.5" x2="1170.8" y2="67.5" stroke="#000" stroke-width="1" opacity="0.39"/><line x1="762.4" y1="329.5" x2="821.5" y2="329.5" stroke="#fff" stroke-width="1" opacity="0.44"/><line x1="1035.4" y1="319.5" x2="1061.5" y2="319.5" stroke="#fff" stroke-width="1" opacity="0.42"/><line x1="822.8" y1="106.5" x2="840.3" y2="106.5" stroke="#fff" stroke-width="1" opacity="0.27"/><line x1="995.4" y1="274.5" x2="1083.0" y2="274.5" stroke="#fff" stroke-width="1" opacity="0.45"/><line x1="804.7" y1="292.5" x2="851.5" y2="292.5" stroke="#fff" stroke-width="1" opacity="0.51"/><line x1="1135.9" y1="270.5" x2="1214.3" y2="270.5" stroke="#000" stroke-width="1" opacity="0.31"/><line x1="823.0" y1="44.5" x2="881.4" y2="44.5" stroke="#000" stroke-width="1" opacity="0.45"/><line x1="802.6" y1="373.5" x2="849.9" y2="373.5" stroke="#000" stroke-width="1" opacity="0.36"/><line x1="1037.5" y1="303.5" x2="1117.2" y2="303.5" stroke="#fff" stroke-width="1" opacity="0.33"/><line x1="727.9" y1="289.5" x2="817.3" y2="289.5" stroke="#000" stroke-width="1" opacity="0.45"/><line x1="994.2" y1="123.5" x2="1101.5" y2="123.5" stroke="#000" stroke-width="1" opacity="0.27"/><line x1="880.2" y1="298.5" x2="965.7" y2="298.5" stroke="#fff" stroke-width="1" opacity="0.38"/><line x1="1163.1" y1="293.5" x2="1205.4" y2="293.5" stroke="#fff" stroke-width="1" opacity="0.32"/><line x1="1092.4" y1="178.5" x2="1137.5" y2="178.5" stroke="#000" stroke-width="1" opacity="0.38"/><line x1="947.2" y1="291.5" x2="993.6" y2="291.5" stroke="#fff" stroke-width="1" opacity="0.49"/><line x1="1014.5" y1="127.5" x2="1101.5" y2="127.5" stroke="#fff" stroke-width="1" opacity="0.44"/><line x1="1098.2" y1="113.5" x2="1146.3" y2="113.5" stroke="#000" stroke-width="1" opacity="0.38"/><line x1="1063.3" y1="253.5" x2="1093.8" y2="253.5" stroke="#fff" stroke-width="1" opacity="0.41"/><line x1="1016.4" y1="130.5" x2="1055.2" y2="130.5" stroke="#fff" stroke-width="1" opacity="0.33"/><line x1="1216.3" y1="72.5" x2="1252.9" y2="72.5" stroke="#000" stroke-width="1" opacity="0.43"/><line x1="1008.8" y1="157.5" x2="1098.6" y2="157.5" stroke="#000" stroke-width="1" opacity="0.36"/><line x1="1165.3" y1="292.5" x2="1212.9" y2="292.5" stroke="#fff" stroke-width="1" opacity="0.40"/><line x1="797.6" y1="255.5" x2="821.9" y2="255.5" stroke="#000" stroke-width="1" opacity="0.55"/><line x1="944.7" y1="222.5" x2="1017.9" y2="222.5" stroke="#000" stroke-width="1" opacity="0.37"/><line x1="960.8" y1="160.5" x2="1021.0" y2="160.5" stroke="#fff" stroke-width="1" opacity="0.35"/><line x1="1096.1" y1="262.5" x2="1174.3" y2="262.5" stroke="#fff" stroke-width="1" opacity="0.31"/><line x1="1023.7" y1="265.5" x2="1059.6" y2="265.5" stroke="#fff" stroke-width="1" opacity="0.53"/><line x1="1008.2" y1="346.5" x2="1101.5" y2="346.5" stroke="#fff" stroke-width="1" opacity="0.49"/><line x1="1021.3" y1="316.5" x2="1101.5" y2="316.5" stroke="#000" stroke-width="1" opacity="0.49"/><line x1="1026.4" y1="302.5" x2="1052.2" y2="302.5" stroke="#000" stroke-width="1" opacity="0.28"/><line x1="1054.4" y1="43.5" x2="1094.3" y2="43.5" stroke="#fff" stroke-width="1" opacity="0.31"/><line x1="1033.4" y1="334.5" x2="1101.5" y2="334.5" stroke="#fff" stroke-width="1" opacity="0.38"/><line x1="724.5" y1="141.5" x2="749.1" y2="141.5" stroke="#000" stroke-width="1" opacity="0.42"/><line x1="1004.1" y1="310.5" x2="1101.5" y2="310.5" stroke="#000" stroke-width="1" opacity="0.48"/><line x1="1035.4" y1="90.5" x2="1093.3" y2="90.5" stroke="#000" stroke-width="1" opacity="0.44"/><line x1="789.1" y1="47.5" x2="874.9" y2="47.5" stroke="#000" stroke-width="1" opacity="0.31"/><line x1="999.6" y1="227.5" x2="1089.3" y2="227.5" stroke="#000" stroke-width="1" opacity="0.50"/><line x1="1204.3" y1="309.5" x2="1241.4" y2="309.5" stroke="#fff" stroke-width="1" opacity="0.42"/><line x1="1107.1" y1="260.5" x2="1170.9" y2="260.5" stroke="#fff" stroke-width="1" opacity="0.41"/><line x1="1003.7" y1="92.5" x2="1079.4" y2="92.5" stroke="#fff" stroke-width="1" opacity="0.32"/><line x1="794.3" y1="175.5" x2="849.5" y2="175.5" stroke="#000" stroke-width="1" opacity="0.39"/><line x1="1002.9" y1="142.5" x2="1055.5" y2="142.5" stroke="#000" stroke-width="1" opacity="0.26"/><line x1="1016.2" y1="208.5" x2="1101.5" y2="208.5" stroke="#000" stroke-width="1" opacity="0.36"/><line x1="1005.7" y1="152.5" x2="1085.3" y2="152.5" stroke="#000" stroke-width="1" opacity="0.39"/><line x1="996.9" y1="298.5" x2="1059.8" y2="298.5" stroke="#000" stroke-width="1" opacity="0.26"/><line x1="1059.1" y1="341.5" x2="1139.5" y2="341.5" stroke="#fff" stroke-width="1" opacity="0.38"/><line x1="1200.6" y1="311.5" x2="1281.1" y2="311.5" stroke="#fff" stroke-width="1" opacity="0.54"/><line x1="930.2" y1="375.5" x2="997.1" y2="375.5" stroke="#fff" stroke-width="1" opacity="0.28"/><line x1="1002.5" y1="195.5" x2="1076.1" y2="195.5" stroke="#000" stroke-width="1" opacity="0.28"/><line x1="969.1" y1="247.5" x2="986.0" y2="247.5" stroke="#000" stroke-width="1" opacity="0.41"/><line x1="996.1" y1="64.5" x2="1101.5" y2="64.5" stroke="#fff" stroke-width="1" opacity="0.52"/><line x1="1019.5" y1="318.5" x2="1101.5" y2="318.5" stroke="#fff" stroke-width="1" opacity="0.27"/><line x1="1029.5" y1="103.5" x2="1083.4" y2="103.5" stroke="#000" stroke-width="1" opacity="0.48"/><line x1="753.7" y1="372.5" x2="781.2" y2="372.5" stroke="#000" stroke-width="1" opacity="0.48"/><line x1="778.2" y1="311.5" x2="835.1" y2="311.5" stroke="#000" stroke-width="1" opacity="0.46"/><line x1="1025.8" y1="334.5" x2="1057.0" y2="334.5" stroke="#fff" stroke-width="1" opacity="0.35"/><line x1="992.4" y1="141.5" x2="1101.5" y2="141.5" stroke="#fff" stroke-width="1" opacity="0.41"/><line x1="1195.9" y1="183.5" x2="1213.5" y2="183.5" stroke="#000" stroke-width="1" opacity="0.45"/><line x1="763.6" y1="152.5" x2="810.8" y2="152.5" stroke="#fff" stroke-width="1" opacity="0.46"/><line x1="804.5" y1="252.5" x2="872.5" y2="252.5" stroke="#fff" stroke-width="1" opacity="0.36"/><line x1="1185.0" y1="47.5" x2="1208.4" y2="47.5" stroke="#000" stroke-width="1" opacity="0.46"/><line x1="997.1" y1="228.5" x2="1039.4" y2="228.5" stroke="#000" stroke-width="1" opacity="0.40"/><line x1="940.4" y1="318.5" x2="983.7" y2="318.5" stroke="#fff" stroke-width="1" opacity="0.31"/><line x1="995.0" y1="213.5" x2="1077.9" y2="213.5" stroke="#000" stroke-width="1" opacity="0.34"/><line x1="1044.2" y1="254.5" x2="1131.0" y2="254.5" stroke="#000" stroke-width="1" opacity="0.49"/><line x1="1208.2" y1="303.5" x2="1228.3" y2="303.5" stroke="#000" stroke-width="1" opacity="0.54"/><line x1="1002.2" y1="355.5" x2="1101.5" y2="355.5" stroke="#fff" stroke-width="1" opacity="0.26"/><line x1="794.1" y1="118.5" x2="830.4" y2="118.5" stroke="#fff" stroke-width="1" opacity="0.31"/><line x1="1007.9" y1="249.5" x2="1079.6" y2="249.5" stroke="#fff" stroke-width="1" opacity="0.37"/><line x1="1085.9" y1="128.5" x2="1101.9" y2="128.5" stroke="#fff" stroke-width="1" opacity="0.41"/><line x1="1030.4" y1="390.5" x2="1051.0" y2="390.5" stroke="#000" stroke-width="1" opacity="0.27"/><line x1="1154.2" y1="102.5" x2="1241.8" y2="102.5" stroke="#fff" stroke-width="1" opacity="0.40"/><line x1="897.9" y1="200.5" x2="914.6" y2="200.5" stroke="#fff" stroke-width="1" opacity="0.53"/><line x1="1125.7" y1="355.5" x2="1155.6" y2="355.5" stroke="#000" stroke-width="1" opacity="0.51"/><line x1="1015.1" y1="224.5" x2="1101.5" y2="224.5" stroke="#fff" stroke-width="1" opacity="0.29"/><line x1="1146.8" y1="148.5" x2="1235.9" y2="148.5" stroke="#000" stroke-width="1" opacity="0.35"/><line x1="1051.4" y1="189.5" x2="1089.5" y2="189.5" stroke="#fff" stroke-width="1" opacity="0.31"/><line x1="1008.7" y1="346.5" x2="1101.5" y2="346.5" stroke="#000" stroke-width="1" opacity="0.27"/><line x1="992.8" y1="165.5" x2="1101.5" y2="165.5" stroke="#fff" stroke-width="1" opacity="0.54"/><line x1="1116.7" y1="93.5" x2="1165.1" y2="93.5" stroke="#fff" stroke-width="1" opacity="0.28"/><line x1="818.6" y1="360.5" x2="839.0" y2="360.5" stroke="#fff" stroke-width="1" opacity="0.42"/><line x1="832.8" y1="389.5" x2="868.0" y2="389.5" stroke="#fff" stroke-width="1" opacity="0.35"/><line x1="1012.0" y1="388.5" x2="1092.4" y2="388.5" stroke="#fff" stroke-width="1" opacity="0.37"/><line x1="997.2" y1="256.5" x2="1032.0" y2="256.5" stroke="#000" stroke-width="1" opacity="0.26"/><line x1="841.9" y1="349.5" x2="863.7" y2="349.5" stroke="#fff" stroke-width="1" opacity="0.38"/><line x1="764.3" y1="346.5" x2="852.0" y2="346.5" stroke="#fff" stroke-width="1" opacity="0.36"/><line x1="766.4" y1="323.5" x2="799.3" y2="323.5" stroke="#000" stroke-width="1" opacity="0.42"/><line x1="729.4" y1="219.5" x2="771.8" y2="219.5" stroke="#000" stroke-width="1" opacity="0.36"/><line x1="994.5" y1="393.5" x2="1054.0" y2="393.5" stroke="#000" stroke-width="1" opacity="0.28"/><line x1="1139.1" y1="345.5" x2="1202.5" y2="345.5" stroke="#000" stroke-width="1" opacity="0.42"/><line x1="1000.2" y1="105.5" x2="1101.5" y2="105.5" stroke="#000" stroke-width="1" opacity="0.41"/><line x1="1178.3" y1="83.5" x2="1266.8" y2="83.5" stroke="#000" stroke-width="1" opacity="0.54"/><line x1="1211.9" y1="78.5" x2="1240.4" y2="78.5" stroke="#fff" stroke-width="1" opacity="0.49"/><line x1="1057.9" y1="322.5" x2="1111.0" y2="322.5" stroke="#000" stroke-width="1" opacity="0.48"/><line x1="1161.9" y1="306.5" x2="1197.4" y2="306.5" stroke="#000" stroke-width="1" opacity="0.37"/><line x1="721.5" y1="135.5" x2="807.3" y2="135.5" stroke="#000" stroke-width="1" opacity="0.45"/><line x1="992.7" y1="304.5" x2="1101.5" y2="304.5" stroke="#fff" stroke-width="1" opacity="0.40"/><line x1="1029.0" y1="125.5" x2="1053.2" y2="125.5" stroke="#fff" stroke-width="1" opacity="0.46"/><line x1="1026.1" y1="118.5" x2="1075.2" y2="118.5" stroke="#000" stroke-width="1" opacity="0.29"/><line x1="1059.4" y1="159.5" x2="1108.4" y2="159.5" stroke="#000" stroke-width="1" opacity="0.35"/><line x1="1105.8" y1="294.5" x2="1172.7" y2="294.5" stroke="#000" stroke-width="1" opacity="0.46"/><line x1="1014.1" y1="219.5" x2="1101.5" y2="219.5" stroke="#000" stroke-width="1" opacity="0.25"/><line x1="994.7" y1="206.5" x2="1101.5" y2="206.5" stroke="#fff" stroke-width="1" opacity="0.26"/><line x1="1006.6" y1="282.5" x2="1101.5" y2="282.5" stroke="#000" stroke-width="1" opacity="0.54"/><line x1="1038.6" y1="336.5" x2="1092.9" y2="336.5" stroke="#fff" stroke-width="1" opacity="0.54"/><line x1="767.5" y1="206.5" x2="792.9" y2="206.5" stroke="#fff" stroke-width="1" opacity="0.30"/><line x1="747.5" y1="302.5" x2="825.8" y2="302.5" stroke="#fff" stroke-width="1" opacity="0.40"/><line x1="1028.0" y1="294.5" x2="1101.5" y2="294.5" stroke="#fff" stroke-width="1" opacity="0.38"/><line x1="1002.8" y1="190.5" x2="1101.5" y2="190.5" stroke="#fff" stroke-width="1" opacity="0.53"/><line x1="1009.1" y1="266.5" x2="1061.6" y2="266.5" stroke="#fff" stroke-width="1" opacity="0.29"/><line x1="993.3" y1="260.5" x2="1101.5" y2="260.5" stroke="#000" stroke-width="1" opacity="0.49"/><line x1="1217.1" y1="392.5" x2="1243.5" y2="392.5" stroke="#fff" stroke-width="1" opacity="0.43"/><line x1="998.9" y1="220.5" x2="1092.3" y2="220.5" stroke="#000" stroke-width="1" opacity="0.46"/><line x1="742.9" y1="93.5" x2="830.6" y2="93.5" stroke="#fff" stroke-width="1" opacity="0.32"/><line x1="1026.6" y1="384.5" x2="1101.5" y2="384.5" stroke="#000" stroke-width="1" opacity="0.46"/><line x1="1214.2" y1="136.5" x2="1299.0" y2="136.5" stroke="#000" stroke-width="1" opacity="0.40"/><line x1="995.1" y1="285.5" x2="1086.1" y2="285.5" stroke="#fff" stroke-width="1" opacity="0.31"/><line x1="861.7" y1="303.5" x2="918.2" y2="303.5" stroke="#fff" stroke-width="1" opacity="0.27"/><line x1="1219.7" y1="294.5" x2="1309.1" y2="294.5" stroke="#fff" stroke-width="1" opacity="0.53"/><line x1="1056.7" y1="178.5" x2="1101.5" y2="178.5" stroke="#000" stroke-width="1" opacity="0.43"/><line x1="785.8" y1="183.5" x2="827.1" y2="183.5" stroke="#fff" stroke-width="1" opacity="0.34"/><line x1="1201.6" y1="297.5" x2="1227.7" y2="297.5" stroke="#000" stroke-width="1" opacity="0.35"/><line x1="1068.1" y1="294.5" x2="1155.6" y2="294.5" stroke="#fff" stroke-width="1" opacity="0.39"/><line x1="1025.5" y1="132.5" x2="1079.2" y2="132.5" stroke="#fff" stroke-width="1" opacity="0.54"/><line x1="1045.7" y1="227.5" x2="1101.5" y2="227.5" stroke="#fff" stroke-width="1" opacity="0.45"/><line x1="1002.0" y1="270.5" x2="1089.5" y2="270.5" stroke="#000" stroke-width="1" opacity="0.45"/><line x1="1014.7" y1="359.5" x2="1101.5" y2="359.5" stroke="#000" stroke-width="1" opacity="0.40"/><line x1="854.2" y1="73.5" x2="885.4" y2="73.5" stroke="#000" stroke-width="1" opacity="0.48"/><line x1="1002.5" y1="266.5" x2="1064.4" y2="266.5" stroke="#000" stroke-width="1" opacity="0.39"/><line x1="1162.7" y1="78.5" x2="1204.7" y2="78.5" stroke="#fff" stroke-width="1" opacity="0.43"/><line x1="1125.6" y1="200.5" x2="1196.3" y2="200.5" stroke="#fff" stroke-width="1" opacity="0.53"/><line x1="1181.0" y1="111.5" x2="1223.2" y2="111.5" stroke="#fff" stroke-width="1" opacity="0.38"/><line x1="1215.7" y1="165.5" x2="1257.1" y2="165.5" stroke="#000" stroke-width="1" opacity="0.49"/><line x1="1011.6" y1="123.5" x2="1054.0" y2="123.5" stroke="#fff" stroke-width="1" opacity="0.28"/><line x1="1208.3" y1="356.5" x2="1291.5" y2="356.5" stroke="#fff" stroke-width="1" opacity="0.53"/><line x1="921.6" y1="158.5" x2="1006.4" y2="158.5" stroke="#000" stroke-width="1" opacity="0.44"/><line x1="822.6" y1="214.5" x2="890.8" y2="214.5" stroke="#000" stroke-width="1" opacity="0.55"/><line x1="1020.5" y1="224.5" x2="1101.5" y2="224.5" stroke="#fff" stroke-width="1" opacity="0.45"/><line x1="1098.1" y1="244.5" x2="1166.6" y2="244.5" stroke="#000" stroke-width="1" opacity="0.45"/><line x1="1006.6" y1="394.5" x2="1030.6" y2="394.5" stroke="#000" stroke-width="1" opacity="0.38"/><line x1="1017.9" y1="103.5" x2="1045.0" y2="103.5" stroke="#000" stroke-width="1" opacity="0.49"/><line x1="1184.8" y1="260.5" x2="1247.6" y2="260.5" stroke="#000" stroke-width="1" opacity="0.26"/><line x1="1003.9" y1="250.5" x2="1101.5" y2="250.5" stroke="#000" stroke-width="1" opacity="0.33"/><line x1="937.6" y1="114.5" x2="978.7" y2="114.5" stroke="#fff" stroke-width="1" opacity="0.45"/><line x1="779.5" y1="193.5" x2="807.2" y2="193.5" stroke="#000" stroke-width="1" opacity="0.43"/><line x1="1023.0" y1="213.5" x2="1051.6" y2="213.5" stroke="#fff" stroke-width="1" opacity="0.51"/><line x1="849.9" y1="297.5" x2="889.0" y2="297.5" stroke="#000" stroke-width="1" opacity="0.30"/><line x1="979.2" y1="64.5" x2="1057.9" y2="64.5" stroke="#fff" stroke-width="1" opacity="0.37"/><line x1="1020.7" y1="102.5" x2="1101.5" y2="102.5" stroke="#000" stroke-width="1" opacity="0.36"/><line x1="1023.4" y1="130.5" x2="1090.0" y2="130.5" stroke="#000" stroke-width="1" opacity="0.49"/><line x1="1107.1" y1="317.5" x2="1165.2" y2="317.5" stroke="#000" stroke-width="1" opacity="0.52"/><line x1="1220.3" y1="371.5" x2="1259.8" y2="371.5" stroke="#000" stroke-width="1" opacity="0.48"/><line x1="1008.5" y1="169.5" x2="1101.5" y2="169.5" stroke="#000" stroke-width="1" opacity="0.25"/><line x1="1188.5" y1="363.5" x2="1223.1" y2="363.5" stroke="#000" stroke-width="1" opacity="0.26"/><line x1="997.3" y1="212.5" x2="1101.5" y2="212.5" stroke="#fff" stroke-width="1" opacity="0.32"/><line x1="1035.0" y1="332.5" x2="1067.0" y2="332.5" stroke="#000" stroke-width="1" opacity="0.35"/><line x1="1047.6" y1="61.5" x2="1110.0" y2="61.5" stroke="#fff" stroke-width="1" opacity="0.36"/><line x1="834.2" y1="102.5" x2="880.8" y2="102.5" stroke="#fff" stroke-width="1" opacity="0.54"/><line x1="1035.1" y1="167.5" x2="1087.9" y2="167.5" stroke="#000" stroke-width="1" opacity="0.28"/><line x1="1195.3" y1="197.5" x2="1219.3" y2="197.5" stroke="#000" stroke-width="1" opacity="0.26"/><line x1="1042.8" y1="144.5" x2="1096.0" y2="144.5" stroke="#fff" stroke-width="1" opacity="0.33"/><line x1="1056.4" y1="204.5" x2="1101.3" y2="204.5" stroke="#000" stroke-width="1" opacity="0.48"/><line x1="1073.5" y1="122.5" x2="1130.8" y2="122.5" stroke="#fff" stroke-width="1" opacity="0.34"/><line x1="1048.8" y1="347.5" x2="1101.5" y2="347.5" stroke="#fff" stroke-width="1" opacity="0.40"/><line x1="992.7" y1="144.5" x2="1101.5" y2="144.5" stroke="#000" stroke-width="1" opacity="0.48"/><line x1="1039.7" y1="359.5" x2="1075.3" y2="359.5" stroke="#fff" stroke-width="1" opacity="0.48"/><line x1="1090.0" y1="112.5" x2="1148.6" y2="112.5" stroke="#fff" stroke-width="1" opacity="0.41"/><line x1="1023.9" y1="325.5" x2="1078.9" y2="325.5" stroke="#000" stroke-width="1" opacity="0.52"/><line x1="1028.3" y1="134.5" x2="1075.6" y2="134.5" stroke="#fff" stroke-width="1" opacity="0.29"/><line x1="737.1" y1="313.5" x2="774.3" y2="313.5" stroke="#fff" stroke-width="1" opacity="0.43"/><line x1="1210.3" y1="210.5" x2="1297.1" y2="210.5" stroke="#000" stroke-width="1" opacity="0.32"/><line x1="1177.0" y1="294.5" x2="1259.2" y2="294.5" stroke="#fff" stroke-width="1" opacity="0.26"/><line x1="1187.5" y1="150.5" x2="1210.4" y2="150.5" stroke="#000" stroke-width="1" opacity="0.53"/><line x1="1152.3" y1="76.5" x2="1219.8" y2="76.5" stroke="#000" stroke-width="1" opacity="0.39"/><line x1="996.0" y1="110.5" x2="1030.2" y2="110.5" stroke="#fff" stroke-width="1" opacity="0.28"/><line x1="1019.5" y1="354.5" x2="1101.5" y2="354.5" stroke="#000" stroke-width="1" opacity="0.26"/><line x1="948.4" y1="110.5" x2="978.9" y2="110.5" stroke="#000" stroke-width="1" opacity="0.39"/><line x1="1091.8" y1="389.5" x2="1108.2" y2="389.5" stroke="#fff" stroke-width="1" opacity="0.40"/><line x1="794.1" y1="156.5" x2="813.7" y2="156.5" stroke="#fff" stroke-width="1" opacity="0.52"/><line x1="1051.0" y1="134.5" x2="1099.7" y2="134.5" stroke="#000" stroke-width="1" opacity="0.30"/><line x1="1004.9" y1="356.5" x2="1101.5" y2="356.5" stroke="#fff" stroke-width="1" opacity="0.45"/><line x1="1028.5" y1="129.5" x2="1101.5" y2="129.5" stroke="#fff" stroke-width="1" opacity="0.40"/><line x1="1165.8" y1="248.5" x2="1245.8" y2="248.5" stroke="#000" stroke-width="1" opacity="0.52"/><line x1="998.8" y1="170.5" x2="1045.2" y2="170.5" stroke="#000" stroke-width="1" opacity="0.37"/><line x1="1160.8" y1="251.5" x2="1187.2" y2="251.5" stroke="#000" stroke-width="1" opacity="0.46"/><line x1="861.9" y1="296.5" x2="906.2" y2="296.5" stroke="#fff" stroke-width="1" opacity="0.38"/><line x1="1125.0" y1="174.5" x2="1161.9" y2="174.5" stroke="#000" stroke-width="1" opacity="0.50"/><line x1="1035.4" y1="275.5" x2="1101.5" y2="275.5" stroke="#000" stroke-width="1" opacity="0.42"/><line x1="725.6" y1="79.5" x2="758.8" y2="79.5" stroke="#000" stroke-width="1" opacity="0.29"/><line x1="992.5" y1="207.5" x2="1101.5" y2="207.5" stroke="#000" stroke-width="1" opacity="0.54"/><ellipse cx="1088" cy="313" rx="18" ry="10" fill="#383838" filter="url(#soft)"/><ellipse cx="1030" cy="330" rx="14" ry="8" fill="#525252" filter="url(#soft)"/></g></g><g clip-path="url(#cpt3)"><g filter="url(#nzTop)"><rect x="1373.80" y="42.50" width="549.20" height="130.00" fill="url(#gt3_0)"/><rect x="1373.80" y="172.00" width="549.20" height="42.00" fill="url(#gt3_1)"/><rect x="1373.80" y="213.50" width="549.20" height="89.50" fill="url(#gt3_2)"/><rect x="1373.80" y="302.50" width="549.20" height="31.80" fill="url(#gt3_3)"/><rect x="1373.80" y="333.80" width="549.20" height="30.50" fill="url(#gt3_4)"/><rect x="1373.80" y="363.80" width="549.20" height="33.50" fill="url(#gt3_5)"/><line x1="1754.2" y1="388.5" x2="1824.3" y2="388.5" stroke="#000" stroke-width="1" opacity="0.27"/><line x1="1670.9" y1="255.5" x2="1771.5" y2="255.5" stroke="#fff" stroke-width="1" opacity="0.29"/><line x1="1733.9" y1="72.5" x2="1761.0" y2="72.5" stroke="#000" stroke-width="1" opacity="0.28"/><line x1="1470.9" y1="88.5" x2="1516.6" y2="88.5" stroke="#fff" stroke-width="1" opacity="0.47"/><line x1="1676.8" y1="189.5" x2="1753.8" y2="189.5" stroke="#000" stroke-width="1" opacity="0.36"/><line x1="1701.0" y1="247.5" x2="1751.6" y2="247.5" stroke="#000" stroke-width="1" opacity="0.33"/><line x1="1843.0" y1="119.5" x2="1925.1" y2="119.5" stroke="#000" stroke-width="1" opacity="0.46"/><line x1="1450.8" y1="147.5" x2="1497.3" y2="147.5" stroke="#000" stroke-width="1" opacity="0.28"/><line x1="1687.0" y1="367.5" x2="1771.5" y2="367.5" stroke="#000" stroke-width="1" opacity="0.40"/><line x1="1671.9" y1="394.5" x2="1744.8" y2="394.5" stroke="#fff" stroke-width="1" opacity="0.34"/><line x1="1582.3" y1="237.5" x2="1658.8" y2="237.5" stroke="#000" stroke-width="1" opacity="0.47"/><line x1="1667.3" y1="66.5" x2="1747.3" y2="66.5" stroke="#fff" stroke-width="1" opacity="0.41"/><line x1="1495.0" y1="242.5" x2="1539.0" y2="242.5" stroke="#fff" stroke-width="1" opacity="0.44"/><line x1="1548.9" y1="177.5" x2="1605.4" y2="177.5" stroke="#fff" stroke-width="1" opacity="0.35"/><line x1="1657.7" y1="284.5" x2="1746.2" y2="284.5" stroke="#000" stroke-width="1" opacity="0.53"/><line x1="1732.9" y1="107.5" x2="1760.7" y2="107.5" stroke="#fff" stroke-width="1" opacity="0.51"/><line x1="1556.7" y1="376.5" x2="1596.6" y2="376.5" stroke="#fff" stroke-width="1" opacity="0.27"/><line x1="1705.6" y1="53.5" x2="1732.8" y2="53.5" stroke="#000" stroke-width="1" opacity="0.34"/><line x1="1683.3" y1="349.5" x2="1771.5" y2="349.5" stroke="#000" stroke-width="1" opacity="0.33"/><line x1="1714.0" y1="227.5" x2="1766.9" y2="227.5" stroke="#fff" stroke-width="1" opacity="0.38"/><line x1="1847.4" y1="91.5" x2="1913.5" y2="91.5" stroke="#000" stroke-width="1" opacity="0.51"/><line x1="1705.0" y1="372.5" x2="1731.6" y2="372.5" stroke="#000" stroke-width="1" opacity="0.32"/><line x1="1829.4" y1="206.5" x2="1863.9" y2="206.5" stroke="#000" stroke-width="1" opacity="0.55"/><line x1="1433.3" y1="319.5" x2="1452.2" y2="319.5" stroke="#fff" stroke-width="1" opacity="0.41"/><line x1="1771.3" y1="346.5" x2="1846.7" y2="346.5" stroke="#000" stroke-width="1" opacity="0.32"/><line x1="1794.1" y1="196.5" x2="1865.9" y2="196.5" stroke="#fff" stroke-width="1" opacity="0.39"/><line x1="1719.7" y1="111.5" x2="1773.3" y2="111.5" stroke="#fff" stroke-width="1" opacity="0.54"/><line x1="1687.9" y1="375.5" x2="1765.0" y2="375.5" stroke="#fff" stroke-width="1" opacity="0.34"/><line x1="1778.8" y1="371.5" x2="1797.7" y2="371.5" stroke="#000" stroke-width="1" opacity="0.26"/><line x1="1878.0" y1="322.5" x2="1938.5" y2="322.5" stroke="#000" stroke-width="1" opacity="0.36"/><line x1="1672.7" y1="175.5" x2="1752.9" y2="175.5" stroke="#000" stroke-width="1" opacity="0.39"/><line x1="1700.9" y1="293.5" x2="1753.4" y2="293.5" stroke="#000" stroke-width="1" opacity="0.45"/><line x1="1672.8" y1="78.5" x2="1754.8" y2="78.5" stroke="#000" stroke-width="1" opacity="0.54"/><line x1="1651.0" y1="213.5" x2="1727.5" y2="213.5" stroke="#fff" stroke-width="1" opacity="0.44"/><line x1="1711.5" y1="54.5" x2="1771.5" y2="54.5" stroke="#fff" stroke-width="1" opacity="0.44"/><line x1="1883.5" y1="333.5" x2="1947.8" y2="333.5" stroke="#fff" stroke-width="1" opacity="0.38"/><line x1="1670.5" y1="137.5" x2="1771.5" y2="137.5" stroke="#fff" stroke-width="1" opacity="0.26"/><line x1="1661.9" y1="53.5" x2="1704.0" y2="53.5" stroke="#000" stroke-width="1" opacity="0.33"/><line x1="1806.9" y1="352.5" x2="1842.1" y2="352.5" stroke="#fff" stroke-width="1" opacity="0.31"/><line x1="1486.7" y1="149.5" x2="1523.7" y2="149.5" stroke="#000" stroke-width="1" opacity="0.51"/><line x1="1824.1" y1="285.5" x2="1873.9" y2="285.5" stroke="#fff" stroke-width="1" opacity="0.48"/><line x1="1709.2" y1="148.5" x2="1772.1" y2="148.5" stroke="#fff" stroke-width="1" opacity="0.45"/><line x1="1513.5" y1="305.5" x2="1584.3" y2="305.5" stroke="#fff" stroke-width="1" opacity="0.44"/><line x1="1673.5" y1="293.5" x2="1736.6" y2="293.5" stroke="#fff" stroke-width="1" opacity="0.47"/><line x1="1420.6" y1="210.5" x2="1439.2" y2="210.5" stroke="#000" stroke-width="1" opacity="0.35"/><line x1="1692.3" y1="129.5" x2="1745.9" y2="129.5" stroke="#fff" stroke-width="1" opacity="0.53"/><line x1="1379.7" y1="393.5" x2="1412.6" y2="393.5" stroke="#fff" stroke-width="1" opacity="0.46"/><line x1="1683.9" y1="345.5" x2="1717.3" y2="345.5" stroke="#000" stroke-width="1" opacity="0.36"/><line x1="1665.7" y1="209.5" x2="1723.5" y2="209.5" stroke="#fff" stroke-width="1" opacity="0.45"/><line x1="1700.3" y1="244.5" x2="1756.7" y2="244.5" stroke="#fff" stroke-width="1" opacity="0.37"/><line x1="1725.4" y1="325.5" x2="1750.8" y2="325.5" stroke="#000" stroke-width="1" opacity="0.49"/><line x1="1664.8" y1="344.5" x2="1771.5" y2="344.5" stroke="#fff" stroke-width="1" opacity="0.28"/><line x1="1532.3" y1="391.5" x2="1585.2" y2="391.5" stroke="#000" stroke-width="1" opacity="0.42"/><line x1="1720.5" y1="189.5" x2="1771.5" y2="189.5" stroke="#fff" stroke-width="1" opacity="0.47"/><line x1="1685.9" y1="375.5" x2="1771.5" y2="375.5" stroke="#000" stroke-width="1" opacity="0.52"/><line x1="1661.6" y1="220.5" x2="1771.5" y2="220.5" stroke="#fff" stroke-width="1" opacity="0.32"/><line x1="1692.7" y1="357.5" x2="1771.5" y2="357.5" stroke="#fff" stroke-width="1" opacity="0.52"/><line x1="1619.2" y1="301.5" x2="1704.2" y2="301.5" stroke="#000" stroke-width="1" opacity="0.47"/><line x1="1685.4" y1="308.5" x2="1771.5" y2="308.5" stroke="#000" stroke-width="1" opacity="0.43"/><line x1="1389.2" y1="214.5" x2="1456.8" y2="214.5" stroke="#000" stroke-width="1" opacity="0.47"/><line x1="1692.2" y1="128.5" x2="1771.5" y2="128.5" stroke="#fff" stroke-width="1" opacity="0.41"/><line x1="1674.0" y1="353.5" x2="1733.3" y2="353.5" stroke="#fff" stroke-width="1" opacity="0.48"/><line x1="1558.8" y1="66.5" x2="1613.5" y2="66.5" stroke="#000" stroke-width="1" opacity="0.30"/><line x1="1703.4" y1="267.5" x2="1771.5" y2="267.5" stroke="#000" stroke-width="1" opacity="0.31"/><line x1="1509.4" y1="228.5" x2="1597.1" y2="228.5" stroke="#000" stroke-width="1" opacity="0.48"/><line x1="1428.4" y1="284.5" x2="1515.6" y2="284.5" stroke="#fff" stroke-width="1" opacity="0.30"/><line x1="1699.4" y1="252.5" x2="1732.7" y2="252.5" stroke="#000" stroke-width="1" opacity="0.39"/><line x1="1868.9" y1="339.5" x2="1942.3" y2="339.5" stroke="#fff" stroke-width="1" opacity="0.43"/><line x1="1700.2" y1="381.5" x2="1771.5" y2="381.5" stroke="#000" stroke-width="1" opacity="0.51"/><line x1="1706.0" y1="282.5" x2="1771.5" y2="282.5" stroke="#fff" stroke-width="1" opacity="0.41"/><line x1="1421.4" y1="346.5" x2="1493.7" y2="346.5" stroke="#000" stroke-width="1" opacity="0.42"/><line x1="1410.4" y1="372.5" x2="1488.4" y2="372.5" stroke="#fff" stroke-width="1" opacity="0.39"/><line x1="1655.2" y1="133.5" x2="1673.7" y2="133.5" stroke="#fff" stroke-width="1" opacity="0.44"/><line x1="1465.5" y1="184.5" x2="1547.2" y2="184.5" stroke="#fff" stroke-width="1" opacity="0.39"/><line x1="1672.5" y1="83.5" x2="1744.1" y2="83.5" stroke="#000" stroke-width="1" opacity="0.41"/><line x1="1701.1" y1="187.5" x2="1771.5" y2="187.5" stroke="#fff" stroke-width="1" opacity="0.38"/><line x1="1460.6" y1="245.5" x2="1515.9" y2="245.5" stroke="#000" stroke-width="1" opacity="0.40"/><line x1="1883.1" y1="222.5" x2="1921.0" y2="222.5" stroke="#fff" stroke-width="1" opacity="0.36"/><line x1="1533.9" y1="131.5" x2="1619.8" y2="131.5" stroke="#fff" stroke-width="1" opacity="0.26"/><line x1="1446.7" y1="390.5" x2="1511.2" y2="390.5" stroke="#fff" stroke-width="1" opacity="0.30"/><line x1="1692.8" y1="291.5" x2="1760.9" y2="291.5" stroke="#fff" stroke-width="1" opacity="0.37"/><line x1="1659.2" y1="144.5" x2="1704.2" y2="144.5" stroke="#000" stroke-width="1" opacity="0.50"/><line x1="1664.5" y1="116.5" x2="1771.5" y2="116.5" stroke="#000" stroke-width="1" opacity="0.44"/><line x1="1730.1" y1="245.5" x2="1770.3" y2="245.5" stroke="#000" stroke-width="1" opacity="0.26"/><line x1="1690.7" y1="276.5" x2="1771.5" y2="276.5" stroke="#000" stroke-width="1" opacity="0.54"/><line x1="1723.8" y1="91.5" x2="1771.5" y2="91.5" stroke="#fff" stroke-width="1" opacity="0.46"/><line x1="1686.9" y1="310.5" x2="1751.8" y2="310.5" stroke="#fff" stroke-width="1" opacity="0.26"/><line x1="1667.9" y1="75.5" x2="1757.0" y2="75.5" stroke="#fff" stroke-width="1" opacity="0.40"/><line x1="1685.0" y1="160.5" x2="1771.5" y2="160.5" stroke="#fff" stroke-width="1" opacity="0.44"/><line x1="1485.4" y1="365.5" x2="1567.1" y2="365.5" stroke="#000" stroke-width="1" opacity="0.29"/><line x1="1676.3" y1="111.5" x2="1771.5" y2="111.5" stroke="#000" stroke-width="1" opacity="0.51"/><line x1="1803.8" y1="394.5" x2="1861.4" y2="394.5" stroke="#000" stroke-width="1" opacity="0.30"/><line x1="1694.2" y1="178.5" x2="1725.1" y2="178.5" stroke="#fff" stroke-width="1" opacity="0.38"/><line x1="1701.5" y1="76.5" x2="1733.2" y2="76.5" stroke="#fff" stroke-width="1" opacity="0.34"/><line x1="1671.5" y1="269.5" x2="1771.5" y2="269.5" stroke="#000" stroke-width="1" opacity="0.52"/><line x1="1761.8" y1="281.5" x2="1818.8" y2="281.5" stroke="#000" stroke-width="1" opacity="0.45"/><line x1="1674.7" y1="56.5" x2="1771.5" y2="56.5" stroke="#000" stroke-width="1" opacity="0.48"/><line x1="1697.5" y1="201.5" x2="1771.5" y2="201.5" stroke="#000" stroke-width="1" opacity="0.53"/><line x1="1758.4" y1="66.5" x2="1828.7" y2="66.5" stroke="#000" stroke-width="1" opacity="0.34"/><line x1="1638.7" y1="120.5" x2="1655.7" y2="120.5" stroke="#fff" stroke-width="1" opacity="0.47"/><line x1="1734.7" y1="322.5" x2="1795.1" y2="322.5" stroke="#fff" stroke-width="1" opacity="0.33"/><line x1="1511.9" y1="120.5" x2="1528.3" y2="120.5" stroke="#fff" stroke-width="1" opacity="0.49"/><line x1="1413.5" y1="348.5" x2="1499.4" y2="348.5" stroke="#000" stroke-width="1" opacity="0.29"/><line x1="1664.0" y1="143.5" x2="1701.6" y2="143.5" stroke="#fff" stroke-width="1" opacity="0.27"/><line x1="1682.2" y1="311.5" x2="1721.3" y2="311.5" stroke="#000" stroke-width="1" opacity="0.25"/><line x1="1673.5" y1="222.5" x2="1698.6" y2="222.5" stroke="#fff" stroke-width="1" opacity="0.30"/><line x1="1450.6" y1="188.5" x2="1492.7" y2="188.5" stroke="#fff" stroke-width="1" opacity="0.44"/><line x1="1816.0" y1="91.5" x2="1871.5" y2="91.5" stroke="#000" stroke-width="1" opacity="0.31"/><line x1="1680.2" y1="362.5" x2="1728.6" y2="362.5" stroke="#fff" stroke-width="1" opacity="0.51"/><line x1="1559.5" y1="276.5" x2="1592.2" y2="276.5" stroke="#fff" stroke-width="1" opacity="0.36"/><line x1="1860.1" y1="148.5" x2="1938.6" y2="148.5" stroke="#000" stroke-width="1" opacity="0.48"/><line x1="1700.3" y1="233.5" x2="1771.5" y2="233.5" stroke="#000" stroke-width="1" opacity="0.27"/><line x1="1811.1" y1="239.5" x2="1894.3" y2="239.5" stroke="#000" stroke-width="1" opacity="0.52"/><line x1="1677.5" y1="182.5" x2="1771.5" y2="182.5" stroke="#fff" stroke-width="1" opacity="0.30"/><line x1="1878.4" y1="303.5" x2="1920.5" y2="303.5" stroke="#fff" stroke-width="1" opacity="0.28"/><line x1="1723.6" y1="355.5" x2="1795.9" y2="355.5" stroke="#000" stroke-width="1" opacity="0.32"/><line x1="1391.4" y1="66.5" x2="1408.0" y2="66.5" stroke="#fff" stroke-width="1" opacity="0.40"/><line x1="1708.7" y1="393.5" x2="1750.2" y2="393.5" stroke="#fff" stroke-width="1" opacity="0.54"/><line x1="1699.8" y1="383.5" x2="1771.5" y2="383.5" stroke="#000" stroke-width="1" opacity="0.38"/><line x1="1615.5" y1="299.5" x2="1636.8" y2="299.5" stroke="#000" stroke-width="1" opacity="0.35"/><line x1="1700.1" y1="166.5" x2="1762.4" y2="166.5" stroke="#000" stroke-width="1" opacity="0.35"/><line x1="1665.1" y1="315.5" x2="1714.7" y2="315.5" stroke="#000" stroke-width="1" opacity="0.42"/><line x1="1787.2" y1="157.5" x2="1830.5" y2="157.5" stroke="#fff" stroke-width="1" opacity="0.51"/><line x1="1847.2" y1="374.5" x2="1932.7" y2="374.5" stroke="#000" stroke-width="1" opacity="0.55"/><line x1="1383.1" y1="138.5" x2="1472.7" y2="138.5" stroke="#fff" stroke-width="1" opacity="0.27"/><line x1="1585.6" y1="382.5" x2="1637.7" y2="382.5" stroke="#fff" stroke-width="1" opacity="0.53"/><line x1="1678.5" y1="88.5" x2="1706.3" y2="88.5" stroke="#000" stroke-width="1" opacity="0.43"/><line x1="1814.6" y1="272.5" x2="1882.2" y2="272.5" stroke="#fff" stroke-width="1" opacity="0.26"/><line x1="1695.7" y1="386.5" x2="1771.5" y2="386.5" stroke="#fff" stroke-width="1" opacity="0.45"/><line x1="1398.9" y1="98.5" x2="1479.6" y2="98.5" stroke="#fff" stroke-width="1" opacity="0.34"/><line x1="1673.6" y1="158.5" x2="1744.5" y2="158.5" stroke="#fff" stroke-width="1" opacity="0.35"/><line x1="1743.4" y1="195.5" x2="1769.3" y2="195.5" stroke="#000" stroke-width="1" opacity="0.52"/><line x1="1703.4" y1="267.5" x2="1760.0" y2="267.5" stroke="#fff" stroke-width="1" opacity="0.51"/><line x1="1684.3" y1="324.5" x2="1717.7" y2="324.5" stroke="#000" stroke-width="1" opacity="0.45"/><line x1="1769.0" y1="276.5" x2="1791.5" y2="276.5" stroke="#000" stroke-width="1" opacity="0.30"/><line x1="1571.9" y1="293.5" x2="1651.6" y2="293.5" stroke="#000" stroke-width="1" opacity="0.53"/><line x1="1692.5" y1="360.5" x2="1771.5" y2="360.5" stroke="#000" stroke-width="1" opacity="0.33"/><line x1="1717.3" y1="86.5" x2="1771.5" y2="86.5" stroke="#fff" stroke-width="1" opacity="0.36"/><line x1="1691.6" y1="283.5" x2="1771.5" y2="283.5" stroke="#000" stroke-width="1" opacity="0.33"/><line x1="1702.6" y1="73.5" x2="1771.5" y2="73.5" stroke="#000" stroke-width="1" opacity="0.46"/><line x1="1710.9" y1="72.5" x2="1771.5" y2="72.5" stroke="#000" stroke-width="1" opacity="0.44"/><line x1="1691.0" y1="215.5" x2="1771.5" y2="215.5" stroke="#000" stroke-width="1" opacity="0.38"/><line x1="1580.6" y1="248.5" x2="1612.8" y2="248.5" stroke="#000" stroke-width="1" opacity="0.52"/><line x1="1687.7" y1="392.5" x2="1751.7" y2="392.5" stroke="#fff" stroke-width="1" opacity="0.27"/><line x1="1680.0" y1="153.5" x2="1750.0" y2="153.5" stroke="#fff" stroke-width="1" opacity="0.48"/><line x1="1698.4" y1="165.5" x2="1771.5" y2="165.5" stroke="#000" stroke-width="1" opacity="0.44"/><line x1="1577.0" y1="100.5" x2="1620.0" y2="100.5" stroke="#fff" stroke-width="1" opacity="0.30"/><line x1="1694.7" y1="213.5" x2="1749.4" y2="213.5" stroke="#fff" stroke-width="1" opacity="0.48"/><line x1="1677.7" y1="117.5" x2="1740.3" y2="117.5" stroke="#fff" stroke-width="1" opacity="0.52"/><line x1="1670.3" y1="215.5" x2="1745.1" y2="215.5" stroke="#fff" stroke-width="1" opacity="0.50"/><line x1="1672.6" y1="94.5" x2="1740.2" y2="94.5" stroke="#fff" stroke-width="1" opacity="0.35"/><line x1="1705.2" y1="127.5" x2="1753.5" y2="127.5" stroke="#fff" stroke-width="1" opacity="0.39"/><line x1="1702.7" y1="269.5" x2="1771.5" y2="269.5" stroke="#fff" stroke-width="1" opacity="0.33"/><line x1="1671.7" y1="96.5" x2="1771.5" y2="96.5" stroke="#000" stroke-width="1" opacity="0.41"/><line x1="1547.9" y1="221.5" x2="1564.9" y2="221.5" stroke="#000" stroke-width="1" opacity="0.34"/><line x1="1662.5" y1="114.5" x2="1771.5" y2="114.5" stroke="#000" stroke-width="1" opacity="0.29"/><line x1="1530.2" y1="125.5" x2="1568.5" y2="125.5" stroke="#fff" stroke-width="1" opacity="0.30"/><line x1="1673.8" y1="222.5" x2="1771.5" y2="222.5" stroke="#000" stroke-width="1" opacity="0.44"/><line x1="1705.0" y1="142.5" x2="1771.5" y2="142.5" stroke="#000" stroke-width="1" opacity="0.43"/><line x1="1501.0" y1="318.5" x2="1583.9" y2="318.5" stroke="#000" stroke-width="1" opacity="0.35"/><line x1="1665.5" y1="81.5" x2="1721.8" y2="81.5" stroke="#fff" stroke-width="1" opacity="0.27"/><line x1="1704.5" y1="144.5" x2="1731.5" y2="144.5" stroke="#fff" stroke-width="1" opacity="0.40"/><line x1="1860.3" y1="332.5" x2="1898.0" y2="332.5" stroke="#fff" stroke-width="1" opacity="0.45"/><line x1="1679.2" y1="373.5" x2="1771.5" y2="373.5" stroke="#000" stroke-width="1" opacity="0.27"/><line x1="1699.5" y1="325.5" x2="1749.4" y2="325.5" stroke="#000" stroke-width="1" opacity="0.52"/><line x1="1817.9" y1="380.5" x2="1835.1" y2="380.5" stroke="#fff" stroke-width="1" opacity="0.41"/><line x1="1730.6" y1="276.5" x2="1760.0" y2="276.5" stroke="#fff" stroke-width="1" opacity="0.52"/><line x1="1405.2" y1="211.5" x2="1482.0" y2="211.5" stroke="#fff" stroke-width="1" opacity="0.28"/><line x1="1683.7" y1="218.5" x2="1771.5" y2="218.5" stroke="#fff" stroke-width="1" opacity="0.41"/><line x1="1695.4" y1="324.5" x2="1771.5" y2="324.5" stroke="#fff" stroke-width="1" opacity="0.35"/><line x1="1493.7" y1="48.5" x2="1523.5" y2="48.5" stroke="#000" stroke-width="1" opacity="0.51"/><line x1="1690.0" y1="192.5" x2="1764.9" y2="192.5" stroke="#000" stroke-width="1" opacity="0.45"/><line x1="1564.8" y1="317.5" x2="1617.9" y2="317.5" stroke="#fff" stroke-width="1" opacity="0.47"/><line x1="1579.4" y1="93.5" x2="1640.8" y2="93.5" stroke="#000" stroke-width="1" opacity="0.44"/><line x1="1732.9" y1="237.5" x2="1773.9" y2="237.5" stroke="#000" stroke-width="1" opacity="0.28"/><line x1="1487.1" y1="273.5" x2="1529.8" y2="273.5" stroke="#000" stroke-width="1" opacity="0.51"/><line x1="1631.0" y1="283.5" x2="1666.0" y2="283.5" stroke="#000" stroke-width="1" opacity="0.35"/><line x1="1656.8" y1="174.5" x2="1686.2" y2="174.5" stroke="#000" stroke-width="1" opacity="0.49"/><line x1="1791.1" y1="257.5" x2="1809.4" y2="257.5" stroke="#000" stroke-width="1" opacity="0.46"/><line x1="1757.8" y1="175.5" x2="1792.2" y2="175.5" stroke="#000" stroke-width="1" opacity="0.31"/><line x1="1394.2" y1="181.5" x2="1418.4" y2="181.5" stroke="#fff" stroke-width="1" opacity="0.47"/><line x1="1585.5" y1="257.5" x2="1668.1" y2="257.5" stroke="#000" stroke-width="1" opacity="0.49"/><line x1="1887.7" y1="295.5" x2="1923.7" y2="295.5" stroke="#000" stroke-width="1" opacity="0.39"/><line x1="1705.8" y1="115.5" x2="1760.5" y2="115.5" stroke="#fff" stroke-width="1" opacity="0.32"/><line x1="1576.3" y1="294.5" x2="1659.0" y2="294.5" stroke="#fff" stroke-width="1" opacity="0.28"/><line x1="1815.7" y1="145.5" x2="1886.1" y2="145.5" stroke="#fff" stroke-width="1" opacity="0.46"/><line x1="1415.0" y1="223.5" x2="1479.0" y2="223.5" stroke="#000" stroke-width="1" opacity="0.40"/><line x1="1695.4" y1="52.5" x2="1771.5" y2="52.5" stroke="#000" stroke-width="1" opacity="0.41"/><line x1="1888.1" y1="46.5" x2="1949.3" y2="46.5" stroke="#fff" stroke-width="1" opacity="0.25"/><line x1="1672.7" y1="365.5" x2="1750.4" y2="365.5" stroke="#000" stroke-width="1" opacity="0.45"/><line x1="1666.6" y1="318.5" x2="1704.9" y2="318.5" stroke="#000" stroke-width="1" opacity="0.26"/><line x1="1682.5" y1="119.5" x2="1771.5" y2="119.5" stroke="#fff" stroke-width="1" opacity="0.45"/><line x1="1673.8" y1="126.5" x2="1771.5" y2="126.5" stroke="#000" stroke-width="1" opacity="0.45"/><line x1="1681.8" y1="163.5" x2="1740.1" y2="163.5" stroke="#000" stroke-width="1" opacity="0.51"/><line x1="1470.6" y1="333.5" x2="1538.5" y2="333.5" stroke="#fff" stroke-width="1" opacity="0.48"/><line x1="1801.4" y1="372.5" x2="1874.6" y2="372.5" stroke="#fff" stroke-width="1" opacity="0.30"/><line x1="1677.3" y1="252.5" x2="1755.5" y2="252.5" stroke="#fff" stroke-width="1" opacity="0.46"/><line x1="1737.6" y1="80.5" x2="1771.5" y2="80.5" stroke="#000" stroke-width="1" opacity="0.32"/><line x1="1430.8" y1="103.5" x2="1507.8" y2="103.5" stroke="#000" stroke-width="1" opacity="0.44"/><line x1="1627.4" y1="139.5" x2="1700.8" y2="139.5" stroke="#fff" stroke-width="1" opacity="0.52"/><line x1="1667.2" y1="192.5" x2="1742.0" y2="192.5" stroke="#fff" stroke-width="1" opacity="0.43"/><line x1="1861.5" y1="44.5" x2="1911.1" y2="44.5" stroke="#000" stroke-width="1" opacity="0.26"/><line x1="1664.5" y1="384.5" x2="1709.7" y2="384.5" stroke="#000" stroke-width="1" opacity="0.54"/><line x1="1494.4" y1="337.5" x2="1514.2" y2="337.5" stroke="#000" stroke-width="1" opacity="0.45"/><line x1="1707.3" y1="127.5" x2="1771.5" y2="127.5" stroke="#000" stroke-width="1" opacity="0.34"/><line x1="1411.3" y1="130.5" x2="1440.8" y2="130.5" stroke="#000" stroke-width="1" opacity="0.33"/><line x1="1685.1" y1="170.5" x2="1753.2" y2="170.5" stroke="#000" stroke-width="1" opacity="0.51"/><line x1="1688.5" y1="368.5" x2="1762.6" y2="368.5" stroke="#000" stroke-width="1" opacity="0.28"/><line x1="1672.1" y1="356.5" x2="1771.5" y2="356.5" stroke="#fff" stroke-width="1" opacity="0.46"/><line x1="1747.5" y1="214.5" x2="1800.0" y2="214.5" stroke="#fff" stroke-width="1" opacity="0.50"/><line x1="1644.9" y1="139.5" x2="1688.5" y2="139.5" stroke="#fff" stroke-width="1" opacity="0.55"/><line x1="1708.3" y1="303.5" x2="1764.2" y2="303.5" stroke="#fff" stroke-width="1" opacity="0.35"/><line x1="1677.8" y1="332.5" x2="1771.5" y2="332.5" stroke="#000" stroke-width="1" opacity="0.34"/><line x1="1657.9" y1="196.5" x2="1715.1" y2="196.5" stroke="#fff" stroke-width="1" opacity="0.38"/><line x1="1380.6" y1="85.5" x2="1423.6" y2="85.5" stroke="#000" stroke-width="1" opacity="0.54"/><line x1="1704.0" y1="262.5" x2="1739.8" y2="262.5" stroke="#000" stroke-width="1" opacity="0.29"/><line x1="1687.9" y1="65.5" x2="1771.5" y2="65.5" stroke="#000" stroke-width="1" opacity="0.53"/><line x1="1693.4" y1="120.5" x2="1771.5" y2="120.5" stroke="#000" stroke-width="1" opacity="0.31"/><line x1="1683.3" y1="345.5" x2="1771.5" y2="345.5" stroke="#fff" stroke-width="1" opacity="0.41"/><line x1="1666.8" y1="274.5" x2="1771.5" y2="274.5" stroke="#fff" stroke-width="1" opacity="0.40"/><line x1="1589.3" y1="386.5" x2="1621.2" y2="386.5" stroke="#000" stroke-width="1" opacity="0.48"/><line x1="1674.9" y1="373.5" x2="1768.8" y2="373.5" stroke="#000" stroke-width="1" opacity="0.43"/><line x1="1672.1" y1="384.5" x2="1764.7" y2="384.5" stroke="#000" stroke-width="1" opacity="0.37"/><line x1="1398.7" y1="340.5" x2="1487.5" y2="340.5" stroke="#fff" stroke-width="1" opacity="0.25"/><line x1="1669.1" y1="380.5" x2="1771.5" y2="380.5" stroke="#fff" stroke-width="1" opacity="0.54"/><line x1="1449.0" y1="268.5" x2="1510.9" y2="268.5" stroke="#000" stroke-width="1" opacity="0.40"/><line x1="1429.8" y1="335.5" x2="1494.9" y2="335.5" stroke="#000" stroke-width="1" opacity="0.32"/><line x1="1681.3" y1="196.5" x2="1771.5" y2="196.5" stroke="#fff" stroke-width="1" opacity="0.33"/><line x1="1722.5" y1="208.5" x2="1771.5" y2="208.5" stroke="#fff" stroke-width="1" opacity="0.44"/><line x1="1774.2" y1="189.5" x2="1862.8" y2="189.5" stroke="#fff" stroke-width="1" opacity="0.51"/><line x1="1554.2" y1="118.5" x2="1630.5" y2="118.5" stroke="#000" stroke-width="1" opacity="0.43"/><line x1="1893.8" y1="171.5" x2="1921.7" y2="171.5" stroke="#fff" stroke-width="1" opacity="0.53"/><line x1="1676.8" y1="377.5" x2="1771.5" y2="377.5" stroke="#000" stroke-width="1" opacity="0.43"/><line x1="1700.6" y1="328.5" x2="1771.5" y2="328.5" stroke="#000" stroke-width="1" opacity="0.27"/><line x1="1609.5" y1="268.5" x2="1698.8" y2="268.5" stroke="#000" stroke-width="1" opacity="0.39"/><line x1="1480.6" y1="373.5" x2="1531.1" y2="373.5" stroke="#fff" stroke-width="1" opacity="0.39"/><line x1="1663.2" y1="381.5" x2="1771.5" y2="381.5" stroke="#fff" stroke-width="1" opacity="0.39"/><line x1="1411.0" y1="99.5" x2="1498.6" y2="99.5" stroke="#000" stroke-width="1" opacity="0.33"/><line x1="1679.1" y1="355.5" x2="1723.5" y2="355.5" stroke="#fff" stroke-width="1" opacity="0.40"/><line x1="1679.6" y1="298.5" x2="1771.5" y2="298.5" stroke="#000" stroke-width="1" opacity="0.43"/><line x1="1732.1" y1="355.5" x2="1753.4" y2="355.5" stroke="#fff" stroke-width="1" opacity="0.49"/><line x1="1479.4" y1="128.5" x2="1495.1" y2="128.5" stroke="#000" stroke-width="1" opacity="0.26"/><line x1="1690.8" y1="327.5" x2="1769.6" y2="327.5" stroke="#000" stroke-width="1" opacity="0.38"/><line x1="1559.4" y1="143.5" x2="1576.9" y2="143.5" stroke="#000" stroke-width="1" opacity="0.30"/><line x1="1705.3" y1="334.5" x2="1772.4" y2="334.5" stroke="#000" stroke-width="1" opacity="0.28"/><line x1="1591.3" y1="159.5" x2="1645.2" y2="159.5" stroke="#000" stroke-width="1" opacity="0.36"/><line x1="1873.4" y1="71.5" x2="1954.1" y2="71.5" stroke="#000" stroke-width="1" opacity="0.40"/><line x1="1779.4" y1="122.5" x2="1836.9" y2="122.5" stroke="#000" stroke-width="1" opacity="0.35"/><line x1="1688.7" y1="53.5" x2="1717.2" y2="53.5" stroke="#fff" stroke-width="1" opacity="0.42"/><line x1="1672.2" y1="167.5" x2="1744.9" y2="167.5" stroke="#fff" stroke-width="1" opacity="0.37"/><line x1="1588.3" y1="131.5" x2="1658.2" y2="131.5" stroke="#000" stroke-width="1" opacity="0.53"/><line x1="1409.7" y1="360.5" x2="1464.8" y2="360.5" stroke="#000" stroke-width="1" opacity="0.36"/><line x1="1679.2" y1="261.5" x2="1753.3" y2="261.5" stroke="#fff" stroke-width="1" opacity="0.35"/><line x1="1708.1" y1="53.5" x2="1741.2" y2="53.5" stroke="#fff" stroke-width="1" opacity="0.41"/><line x1="1744.4" y1="222.5" x2="1771.5" y2="222.5" stroke="#000" stroke-width="1" opacity="0.51"/><line x1="1835.8" y1="369.5" x2="1854.1" y2="369.5" stroke="#fff" stroke-width="1" opacity="0.52"/><line x1="1506.5" y1="264.5" x2="1565.4" y2="264.5" stroke="#000" stroke-width="1" opacity="0.43"/><line x1="1588.7" y1="191.5" x2="1629.3" y2="191.5" stroke="#fff" stroke-width="1" opacity="0.48"/><line x1="1897.2" y1="92.5" x2="1930.1" y2="92.5" stroke="#000" stroke-width="1" opacity="0.54"/><line x1="1673.8" y1="323.5" x2="1695.9" y2="323.5" stroke="#000" stroke-width="1" opacity="0.55"/><ellipse cx="1758" cy="188" rx="16" ry="10" fill="#3d3d3d" filter="url(#soft)"/><ellipse cx="1755" cy="314" rx="14" ry="8" fill="#424242" filter="url(#soft)"/><ellipse cx="1640" cy="190" rx="20" ry="8" fill="#525252" filter="url(#soft)"/></g></g><g clip-path="url(#cp4)"><g filter="url(#nzBot4)"><rect x="33.00" y="518.00" width="570.70" height="11.44" fill="url(#sg1)"/><rect x="33.00" y="528.84" width="570.70" height="11.44" fill="url(#sg2)"/><rect x="33.00" y="539.69" width="570.70" height="11.44" fill="url(#sg3)"/><rect x="33.00" y="550.53" width="570.70" height="11.44" fill="url(#sg4)"/><rect x="33.00" y="561.38" width="570.70" height="11.44" fill="url(#sg5)"/><rect x="33.00" y="572.22" width="570.70" height="11.44" fill="url(#sg6)"/><rect x="33.00" y="583.06" width="570.70" height="11.44" fill="url(#sg7)"/><rect x="33.00" y="593.91" width="570.70" height="11.44" fill="url(#sg8)"/><rect x="33.00" y="604.75" width="570.70" height="11.44" fill="url(#sg9)"/><rect x="33.00" y="615.59" width="570.70" height="11.44" fill="url(#sg10)"/><rect x="33.00" y="626.44" width="570.70" height="11.44" fill="url(#sg11)"/><rect x="33.00" y="637.28" width="570.70" height="11.44" fill="url(#sg12)"/><rect x="33.00" y="648.12" width="570.70" height="11.44" fill="url(#sg13)"/><rect x="33.00" y="658.97" width="570.70" height="11.44" fill="url(#sg14)"/><rect x="33.00" y="669.81" width="570.70" height="11.44" fill="url(#sg15)"/><rect x="33.00" y="680.66" width="570.70" height="11.44" fill="url(#sg16)"/><rect x="33.00" y="691.50" width="570.70" height="11.44" fill="url(#sg17)"/><rect x="33.00" y="702.34" width="570.70" height="11.44" fill="url(#sg18)"/><rect x="33.00" y="713.19" width="570.70" height="11.44" fill="url(#sg19)"/><rect x="33.00" y="724.03" width="570.70" height="11.44" fill="url(#sg20)"/><rect x="33.00" y="734.88" width="570.70" height="11.44" fill="url(#sg21)"/><rect x="33.00" y="745.72" width="570.70" height="11.44" fill="url(#sg22)"/><rect x="33.00" y="756.56" width="570.70" height="11.44" fill="url(#sg23)"/><rect x="33.00" y="767.41" width="570.70" height="11.44" fill="url(#sg24)"/><rect x="33.00" y="778.25" width="570.70" height="11.44" fill="url(#sg25)"/><rect x="33.00" y="789.09" width="570.70" height="11.44" fill="url(#sg26)"/><rect x="33.00" y="799.94" width="570.70" height="11.44" fill="url(#sg27)"/><rect x="33.00" y="810.78" width="570.70" height="11.44" fill="url(#sg28)"/><rect x="33.00" y="821.62" width="570.70" height="11.44" fill="url(#sg29)"/><rect x="33.00" y="832.47" width="570.70" height="11.44" fill="url(#sg30)"/><rect x="33.00" y="843.31" width="570.70" height="11.44" fill="url(#sg31)"/><rect x="33.00" y="854.16" width="570.70" height="11.44" fill="url(#sg32)"/></g></g><g clip-path="url(#cp5)"><g filter="url(#nzBot5)"><rect x="699.00" y="515.00" width="571.00" height="11.52" fill="url(#sg33)"/><rect x="699.00" y="525.92" width="571.00" height="11.52" fill="url(#sg34)"/><rect x="699.00" y="536.84" width="571.00" height="11.52" fill="url(#sg35)"/><rect x="699.00" y="547.77" width="571.00" height="11.52" fill="url(#sg36)"/><rect x="699.00" y="558.69" width="571.00" height="11.52" fill="url(#sg37)"/><rect x="699.00" y="569.61" width="571.00" height="11.52" fill="url(#sg38)"/><rect x="699.00" y="580.53" width="571.00" height="11.52" fill="url(#sg39)"/><rect x="699.00" y="591.45" width="571.00" height="11.52" fill="url(#sg40)"/><rect x="699.00" y="602.38" width="571.00" height="11.52" fill="url(#sg41)"/><rect x="699.00" y="613.30" width="571.00" height="11.52" fill="url(#sg42)"/><rect x="699.00" y="624.22" width="571.00" height="11.52" fill="url(#sg43)"/><rect x="699.00" y="635.14" width="571.00" height="11.52" fill="url(#sg44)"/><rect x="699.00" y="646.06" width="571.00" height="11.52" fill="url(#sg45)"/><rect x="699.00" y="656.98" width="571.00" height="11.52" fill="url(#sg46)"/><rect x="699.00" y="667.91" width="571.00" height="11.52" fill="url(#sg47)"/><rect x="699.00" y="678.83" width="571.00" height="11.52" fill="url(#sg48)"/><rect x="699.00" y="689.75" width="571.00" height="11.52" fill="url(#sg49)"/><rect x="699.00" y="700.67" width="571.00" height="11.52" fill="url(#sg50)"/><rect x="699.00" y="711.59" width="571.00" height="11.52" fill="url(#sg51)"/><rect x="699.00" y="722.52" width="571.00" height="11.52" fill="url(#sg52)"/><rect x="699.00" y="733.44" width="571.00" height="11.52" fill="url(#sg53)"/><rect x="699.00" y="744.36" width="571.00" height="11.52" fill="url(#sg54)"/><rect x="699.00" y="755.28" width="571.00" height="11.52" fill="url(#sg55)"/><rect x="699.00" y="766.20" width="571.00" height="11.52" fill="url(#sg56)"/><rect x="699.00" y="777.12" width="571.00" height="11.52" fill="url(#sg57)"/><rect x="699.00" y="788.05" width="571.00" height="11.52" fill="url(#sg58)"/><rect x="699.00" y="798.97" width="571.00" height="11.52" fill="url(#sg59)"/><rect x="699.00" y="809.89" width="571.00" height="11.52" fill="url(#sg60)"/><rect x="699.00" y="820.81" width="571.00" height="11.52" fill="url(#sg61)"/><rect x="699.00" y="831.73" width="571.00" height="11.52" fill="url(#sg62)"/><rect x="699.00" y="842.66" width="571.00" height="11.52" fill="url(#sg63)"/><rect x="699.00" y="853.58" width="571.00" height="11.52" fill="url(#sg64)"/></g></g><g clip-path="url(#cp6)"><g filter="url(#nzBot6)"><rect x="1357.80" y="514.50" width="580.70" height="11.73" fill="url(#sg65)"/><rect x="1357.80" y="525.63" width="580.70" height="11.73" fill="url(#sg66)"/><rect x="1357.80" y="536.77" width="580.70" height="11.73" fill="url(#sg67)"/><rect x="1357.80" y="547.90" width="580.70" height="11.73" fill="url(#sg68)"/><rect x="1357.80" y="559.03" width="580.70" height="11.73" fill="url(#sg69)"/><rect x="1357.80" y="570.17" width="580.70" height="11.73" fill="url(#sg70)"/><rect x="1357.80" y="581.30" width="580.70" height="11.73" fill="url(#sg71)"/><rect x="1357.80" y="592.43" width="580.70" height="11.73" fill="url(#sg72)"/><rect x="1357.80" y="603.57" width="580.70" height="11.73" fill="url(#sg73)"/><rect x="1357.80" y="614.70" width="580.70" height="11.73" fill="url(#sg74)"/><rect x="1357.80" y="625.83" width="580.70" height="11.73" fill="url(#sg75)"/><rect x="1357.80" y="636.97" width="580.70" height="11.73" fill="url(#sg76)"/><rect x="1357.80" y="648.10" width="580.70" height="11.73" fill="url(#sg77)"/><rect x="1357.80" y="659.23" width="580.70" height="11.73" fill="url(#sg78)"/><rect x="1357.80" y="670.37" width="580.70" height="11.73" fill="url(#sg79)"/><rect x="1357.80" y="681.50" width="580.70" height="11.72" fill="url(#sg80)"/><rect x="1357.80" y="692.62" width="580.70" height="11.72" fill="url(#sg81)"/><rect x="1357.80" y="703.74" width="580.70" height="11.72" fill="url(#sg82)"/><rect x="1357.80" y="714.85" width="580.70" height="11.72" fill="url(#sg83)"/><rect x="1357.80" y="725.97" width="580.70" height="11.72" fill="url(#sg84)"/><rect x="1357.80" y="737.09" width="580.70" height="11.72" fill="url(#sg85)"/><rect x="1357.80" y="748.21" width="580.70" height="11.72" fill="url(#sg86)"/><rect x="1357.80" y="759.33" width="580.70" height="11.72" fill="url(#sg87)"/><rect x="1357.80" y="770.45" width="580.70" height="11.72" fill="url(#sg88)"/><rect x="1357.80" y="781.56" width="580.70" height="11.72" fill="url(#sg89)"/><rect x="1357.80" y="792.68" width="580.70" height="11.72" fill="url(#sg90)"/><rect x="1357.80" y="803.80" width="580.70" height="12.34" fill="url(#sg91)"/><rect x="1357.80" y="815.54" width="580.70" height="12.34" fill="url(#sg92)"/><rect x="1357.80" y="827.28" width="580.70" height="12.34" fill="url(#sg93)"/><rect x="1357.80" y="839.02" width="580.70" height="12.34" fill="url(#sg94)"/><rect x="1357.80" y="850.76" width="580.70" height="12.34" fill="url(#sg95)"/></g></g><line x1="438.7" y1="43.5" x2="438.7" y2="394" stroke="#000" stroke-width="2.6" stroke-dasharray="9 2 5 1 14 2 6 1" opacity="0.9"/><line x1="441.3" y1="43.5" x2="441.3" y2="394" stroke="#fff" stroke-width="1.6" stroke-dasharray="3 5 7 3 2 6" opacity="0.7"/><line x1="1103.5" y1="42.3" x2="1103.5" y2="395.3" stroke="#000" stroke-width="2.6" stroke-dasharray="9 2 5 1 14 2 6 1" opacity="0.9"/><line x1="1106.1" y1="42.3" x2="1106.1" y2="395.3" stroke="#fff" stroke-width="1.6" stroke-dasharray="3 5 7 3 2 6" opacity="0.7"/><line x1="1773.5" y1="43.3" x2="1773.5" y2="396" stroke="#000" stroke-width="2.6" stroke-dasharray="9 2 5 1 14 2 6 1" opacity="0.9"/><line x1="1776.1" y1="43.3" x2="1776.1" y2="396" stroke="#fff" stroke-width="1.6" stroke-dasharray="3 5 7 3 2 6" opacity="0.7"/><line x1="714.5" y1="297.7" x2="1248" y2="297.7" stroke="#ffffff" stroke-width="3" stroke-dasharray="11 8" opacity="0.6"/><line x1="714.5" y1="287.8" x2="1248" y2="287.8" stroke="#ff0000" stroke-width="4"/><line x1="1374.5" y1="213.5" x2="1922" y2="213.5" stroke="#ff0000" stroke-width="4"/><line x1="1374.5" y1="333.8" x2="1922" y2="333.8" stroke="#0000ff" stroke-width="4"/><line x1="1374.5" y1="172.0" x2="1922" y2="172.0" stroke="#ffffff" stroke-width="4" stroke-dasharray="14.8 14.3"/><line x1="1374.5" y1="302.5" x2="1922" y2="302.5" stroke="#ffffff" stroke-width="4" stroke-dasharray="14.8 14.3"/><line x1="1374.5" y1="363.8" x2="1922" y2="363.8" stroke="#ffffff" stroke-width="4" stroke-dasharray="14.8 14.3"/><line x1="1374.5" y1="681.5" x2="1920" y2="681.5" stroke="#f01010" stroke-width="3.6"/><line x1="1374.5" y1="803.8" x2="1920" y2="803.8" stroke="#1010e8" stroke-width="3.6"/><rect x="49.00" y="42.70" width="537.70" height="351.90" fill="none" stroke="#262626" stroke-width="1.5"/><rect x="714.00" y="41.50" width="534.80" height="354.50" fill="none" stroke="#262626" stroke-width="1.5"/><rect x="1373.80" y="42.50" width="549.20" height="354.30" fill="none" stroke="#262626" stroke-width="1.5"/><rect x="49.00" y="518.00" width="538.70" height="347.00" fill="none" stroke="#262626" stroke-width="1.5"/><rect x="715.00" y="515.00" width="539.00" height="349.50" fill="none" stroke="#262626" stroke-width="1.5"/><rect x="1373.80" y="514.50" width="548.70" height="348.00" fill="none" stroke="#262626" stroke-width="1.5"/><line x1="49.00" y1="85.45" x2="55.00" y2="85.45" stroke="#262626" stroke-width="1.3"/><line x1="586.70" y1="85.45" x2="580.70" y2="85.45" stroke="#262626" stroke-width="1.3"/><text x="42.00" y="93.05" font-family='"Liberation Sans", Arial, Helvetica, sans-serif' font-size="21.5" font-weight="bold" text-anchor="end" fill="#262626" stroke="#262626" stroke-width="0.55" >1</text><line x1="49.00" y1="128.20" x2="55.00" y2="128.20" stroke="#262626" stroke-width="1.3"/><line x1="586.70" y1="128.20" x2="580.70" y2="128.20" stroke="#262626" stroke-width="1.3"/><text x="42.00" y="135.80" font-family='"Liberation Sans", Arial, Helvetica, sans-serif' font-size="21.5" font-weight="bold" text-anchor="end" fill="#262626" stroke="#262626" stroke-width="0.55" >2</text><line x1="49.00" y1="170.95" x2="55.00" y2="170.95" stroke="#262626" stroke-width="1.3"/><line x1="586.70" y1="170.95" x2="580.70" y2="170.95" stroke="#262626" stroke-width="1.3"/><text x="42.00" y="178.55" font-family='"Liberation Sans", Arial, Helvetica, sans-serif' font-size="21.5" font-weight="bold" text-anchor="end" fill="#262626" stroke="#262626" stroke-width="0.55" >3</text><line x1="49.00" y1="213.70" x2="55.00" y2="213.70" stroke="#262626" stroke-width="1.3"/><line x1="586.70" y1="213.70" x2="580.70" y2="213.70" stroke="#262626" stroke-width="1.3"/><text x="42.00" y="221.30" font-family='"Liberation Sans", Arial, Helvetica, sans-serif' font-size="21.5" font-weight="bold" text-anchor="end" fill="#262626" stroke="#262626" stroke-width="0.55" >4</text><line x1="49.00" y1="256.45" x2="55.00" y2="256.45" stroke="#262626" stroke-width="1.3"/><line x1="586.70" y1="256.45" x2="580.70" y2="256.45" stroke="#262626" stroke-width="1.3"/><text x="42.00" y="264.05" font-family='"Liberation Sans", Arial, Helvetica, sans-serif' font-size="21.5" font-weight="bold" text-anchor="end" fill="#262626" stroke="#262626" stroke-width="0.55" >5</text><line x1="49.00" y1="299.20" x2="55.00" y2="299.20" stroke="#262626" stroke-width="1.3"/><line x1="586.70" y1="299.20" x2="580.70" y2="299.20" stroke="#262626" stroke-width="1.3"/><text x="42.00" y="306.80" font-family='"Liberation Sans", Arial, Helvetica, sans-serif' font-size="21.5" font-weight="bold" text-anchor="end" fill="#262626" stroke="#262626" stroke-width="0.55" >6</text><line x1="49.00" y1="341.95" x2="55.00" y2="341.95" stroke="#262626" stroke-width="1.3"/><line x1="586.70" y1="341.95" x2="580.70" y2="341.95" stroke="#262626" stroke-width="1.3"/><text x="42.00" y="349.55" font-family='"Liberation Sans", Arial, Helvetica, sans-serif' font-size="21.5" font-weight="bold" text-anchor="end" fill="#262626" stroke="#262626" stroke-width="0.55" >7</text><line x1="49.00" y1="384.70" x2="55.00" y2="384.70" stroke="#262626" stroke-width="1.3"/><line x1="586.70" y1="384.70" x2="580.70" y2="384.70" stroke="#262626" stroke-width="1.3"/><text x="42.00" y="392.30" font-family='"Liberation Sans", Arial, Helvetica, sans-serif' font-size="21.5" font-weight="bold" text-anchor="end" fill="#262626" stroke="#262626" stroke-width="0.55" >8</text><line x1="156.54" y1="394.60" x2="156.54" y2="388.60" stroke="#262626" stroke-width="1.3"/><line x1="156.54" y1="42.70" x2="156.54" y2="48.70" stroke="#262626" stroke-width="1.3"/><text x="156.54" y="421.80" font-family='"Liberation Sans", Arial, Helvetica, sans-serif' font-size="21.5" font-weight="bold" text-anchor="middle" fill="#262626" stroke="#262626" stroke-width="0.55" >72</text><line x1="264.08" y1="394.60" x2="264.08" y2="388.60" stroke="#262626" stroke-width="1.3"/><line x1="264.08" y1="42.70" x2="264.08" y2="48.70" stroke="#262626" stroke-width="1.3"/><text x="264.08" y="421.80" font-family='"Liberation Sans", Arial, Helvetica, sans-serif' font-size="21.5" font-weight="bold" text-anchor="middle" fill="#262626" stroke="#262626" stroke-width="0.55" >144</text><line x1="371.62" y1="394.60" x2="371.62" y2="388.60" stroke="#262626" stroke-width="1.3"/><line x1="371.62" y1="42.70" x2="371.62" y2="48.70" stroke="#262626" stroke-width="1.3"/><text x="371.62" y="421.80" font-family='"Liberation Sans", Arial, Helvetica, sans-serif' font-size="21.5" font-weight="bold" text-anchor="middle" fill="#262626" stroke="#262626" stroke-width="0.55" >216</text><line x1="479.16" y1="394.60" x2="479.16" y2="388.60" stroke="#262626" stroke-width="1.3"/><line x1="479.16" y1="42.70" x2="479.16" y2="48.70" stroke="#262626" stroke-width="1.3"/><text x="479.16" y="421.80" font-family='"Liberation Sans", Arial, Helvetica, sans-serif' font-size="21.5" font-weight="bold" text-anchor="middle" fill="#262626" stroke="#262626" stroke-width="0.55" >288</text><line x1="586.70" y1="394.60" x2="586.70" y2="388.60" stroke="#262626" stroke-width="1.3"/><line x1="586.70" y1="42.70" x2="586.70" y2="48.70" stroke="#262626" stroke-width="1.3"/><text x="586.70" y="421.80" font-family='"Liberation Sans", Arial, Helvetica, sans-serif' font-size="21.5" font-weight="bold" text-anchor="middle" fill="#262626" stroke="#262626" stroke-width="0.55" >360</text><text x="317.85" y="450.00" font-family='"Liberation Sans", Arial, Helvetica, sans-serif' font-size="23" font-weight="bold" text-anchor="middle" fill="#262626" stroke="#262626" stroke-width="0.55" >Times(s)</text><text x="0" y="0" transform="translate(22.70 218.65) rotate(-90)" font-family='"Liberation Sans", Arial, Helvetica, sans-serif' font-size="23" font-weight="bold" text-anchor="middle" fill="#262626" stroke="#262626" stroke-width="0.5">Voxels</text><text x="50.40" y="37.50" font-family='"Liberation Sans", Arial, Helvetica, sans-serif' fill="#262626"><tspan font-size="25" font-weight="normal" dy="2.6">×</tspan><tspan font-size="21.5" font-weight="bold" dx="2.1" dy="-2.6" stroke="#262626" stroke-width="0.5">10</tspan><tspan font-size="16.5" font-weight="bold" dy="-10.2" stroke="#262626" stroke-width="0.4">4</tspan></text><line x1="714.00" y1="84.34" x2="720.00" y2="84.34" stroke="#262626" stroke-width="1.3"/><line x1="1248.80" y1="84.34" x2="1242.80" y2="84.34" stroke="#262626" stroke-width="1.3"/><text x="707.00" y="91.94" font-family='"Liberation Sans", Arial, Helvetica, sans-serif' font-size="21.5" font-weight="bold" text-anchor="end" fill="#262626" stroke="#262626" stroke-width="0.55" >1</text><line x1="714.00" y1="127.18" x2="720.00" y2="127.18" stroke="#262626" stroke-width="1.3"/><line x1="1248.80" y1="127.18" x2="1242.80" y2="127.18" stroke="#262626" stroke-width="1.3"/><text x="707.00" y="134.78" font-family='"Liberation Sans", Arial, Helvetica, sans-serif' font-size="21.5" font-weight="bold" text-anchor="end" fill="#262626" stroke="#262626" stroke-width="0.55" >2</text><line x1="714.00" y1="170.02" x2="720.00" y2="170.02" stroke="#262626" stroke-width="1.3"/><line x1="1248.80" y1="170.02" x2="1242.80" y2="170.02" stroke="#262626" stroke-width="1.3"/><text x="707.00" y="177.62" font-family='"Liberation Sans", Arial, Helvetica, sans-serif' font-size="21.5" font-weight="bold" text-anchor="end" fill="#262626" stroke="#262626" stroke-width="0.55" >3</text><line x1="714.00" y1="212.86" x2="720.00" y2="212.86" stroke="#262626" stroke-width="1.3"/><line x1="1248.80" y1="212.86" x2="1242.80" y2="212.86" stroke="#262626" stroke-width="1.3"/><text x="707.00" y="220.46" font-family='"Liberation Sans", Arial, Helvetica, sans-serif' font-size="21.5" font-weight="bold" text-anchor="end" fill="#262626" stroke="#262626" stroke-width="0.55" >4</text><line x1="714.00" y1="255.70" x2="720.00" y2="255.70" stroke="#262626" stroke-width="1.3"/><line x1="1248.80" y1="255.70" x2="1242.80" y2="255.70" stroke="#262626" stroke-width="1.3"/><text x="707.00" y="263.30" font-family='"Liberation Sans", Arial, Helvetica, sans-serif' font-size="21.5" font-weight="bold" text-anchor="end" fill="#262626" stroke="#262626" stroke-width="0.55" >5</text><line x1="714.00" y1="298.54" x2="720.00" y2="298.54" stroke="#262626" stroke-width="1.3"/><line x1="1248.80" y1="298.54" x2="1242.80" y2="298.54" stroke="#262626" stroke-width="1.3"/><text x="707.00" y="306.14" font-family='"Liberation Sans", Arial, Helvetica, sans-serif' font-size="21.5" font-weight="bold" text-anchor="end" fill="#262626" stroke="#262626" stroke-width="0.55" >6</text><line x1="714.00" y1="341.38" x2="720.00" y2="341.38" stroke="#262626" stroke-width="1.3"/><line x1="1248.80" y1="341.38" x2="1242.80" y2="341.38" stroke="#262626" stroke-width="1.3"/><text x="707.00" y="348.98" font-family='"Liberation Sans", Arial, Helvetica, sans-serif' font-size="21.5" font-weight="bold" text-anchor="end" fill="#262626" stroke="#262626" stroke-width="0.55" >7</text><line x1="714.00" y1="384.22" x2="720.00" y2="384.22" stroke="#262626" stroke-width="1.3"/><line x1="1248.80" y1="384.22" x2="1242.80" y2="384.22" stroke="#262626" stroke-width="1.3"/><text x="707.00" y="391.82" font-family='"Liberation Sans", Arial, Helvetica, sans-serif' font-size="21.5" font-weight="bold" text-anchor="end" fill="#262626" stroke="#262626" stroke-width="0.55" >8</text><line x1="820.96" y1="396.00" x2="820.96" y2="390.00" stroke="#262626" stroke-width="1.3"/><line x1="820.96" y1="41.50" x2="820.96" y2="47.50" stroke="#262626" stroke-width="1.3"/><text x="820.96" y="423.20" font-family='"Liberation Sans", Arial, Helvetica, sans-serif' font-size="21.5" font-weight="bold" text-anchor="middle" fill="#262626" stroke="#262626" stroke-width="0.55" >72</text><line x1="927.92" y1="396.00" x2="927.92" y2="390.00" stroke="#262626" stroke-width="1.3"/><line x1="927.92" y1="41.50" x2="927.92" y2="47.50" stroke="#262626" stroke-width="1.3"/><text x="927.92" y="423.20" font-family='"Liberation Sans", Arial, Helvetica, sans-serif' font-size="21.5" font-weight="bold" text-anchor="middle" fill="#262626" stroke="#262626" stroke-width="0.55" >144</text><line x1="1034.88" y1="396.00" x2="1034.88" y2="390.00" stroke="#262626" stroke-width="1.3"/><line x1="1034.88" y1="41.50" x2="1034.88" y2="47.50" stroke="#262626" stroke-width="1.3"/><text x="1034.88" y="423.20" font-family='"Liberation Sans", Arial, Helvetica, sans-serif' font-size="21.5" font-weight="bold" text-anchor="middle" fill="#262626" stroke="#262626" stroke-width="0.55" >216</text><line x1="1141.84" y1="396.00" x2="1141.84" y2="390.00" stroke="#262626" stroke-width="1.3"/><line x1="1141.84" y1="41.50" x2="1141.84" y2="47.50" stroke="#262626" stroke-width="1.3"/><text x="1141.84" y="423.20" font-family='"Liberation Sans", Arial, Helvetica, sans-serif' font-size="21.5" font-weight="bold" text-anchor="middle" fill="#262626" stroke="#262626" stroke-width="0.55" >288</text><line x1="1248.80" y1="396.00" x2="1248.80" y2="390.00" stroke="#262626" stroke-width="1.3"/><line x1="1248.80" y1="41.50" x2="1248.80" y2="47.50" stroke="#262626" stroke-width="1.3"/><text x="1248.80" y="423.20" font-family='"Liberation Sans", Arial, Helvetica, sans-serif' font-size="21.5" font-weight="bold" text-anchor="middle" fill="#262626" stroke="#262626" stroke-width="0.55" >360</text><text x="981.40" y="451.40" font-family='"Liberation Sans", Arial, Helvetica, sans-serif' font-size="23" font-weight="bold" text-anchor="middle" fill="#262626" stroke="#262626" stroke-width="0.55" >Times(s)</text><text x="0" y="0" transform="translate(687.70 218.75) rotate(-90)" font-family='"Liberation Sans", Arial, Helvetica, sans-serif' font-size="23" font-weight="bold" text-anchor="middle" fill="#262626" stroke="#262626" stroke-width="0.5">Voxels</text><text x="715.40" y="36.30" font-family='"Liberation Sans", Arial, Helvetica, sans-serif' fill="#262626"><tspan font-size="25" font-weight="normal" dy="2.6">×</tspan><tspan font-size="21.5" font-weight="bold" dx="2.1" dy="-2.6" stroke="#262626" stroke-width="0.5">10</tspan><tspan font-size="16.5" font-weight="bold" dy="-10.2" stroke="#262626" stroke-width="0.4">4</tspan></text><line x1="1373.80" y1="85.34" x2="1379.80" y2="85.34" stroke="#262626" stroke-width="1.3"/><line x1="1923.00" y1="85.34" x2="1917.00" y2="85.34" stroke="#262626" stroke-width="1.3"/><text x="1366.80" y="92.94" font-family='"Liberation Sans", Arial, Helvetica, sans-serif' font-size="21.5" font-weight="bold" text-anchor="end" fill="#262626" stroke="#262626" stroke-width="0.55" >1</text><line x1="1373.80" y1="128.18" x2="1379.80" y2="128.18" stroke="#262626" stroke-width="1.3"/><line x1="1923.00" y1="128.18" x2="1917.00" y2="128.18" stroke="#262626" stroke-width="1.3"/><text x="1366.80" y="135.78" font-family='"Liberation Sans", Arial, Helvetica, sans-serif' font-size="21.5" font-weight="bold" text-anchor="end" fill="#262626" stroke="#262626" stroke-width="0.55" >2</text><line x1="1373.80" y1="171.02" x2="1379.80" y2="171.02" stroke="#262626" stroke-width="1.3"/><line x1="1923.00" y1="171.02" x2="1917.00" y2="171.02" stroke="#262626" stroke-width="1.3"/><text x="1366.80" y="178.62" font-family='"Liberation Sans", Arial, Helvetica, sans-serif' font-size="21.5" font-weight="bold" text-anchor="end" fill="#262626" stroke="#262626" stroke-width="0.55" >3</text><line x1="1373.80" y1="213.86" x2="1379.80" y2="213.86" stroke="#262626" stroke-width="1.3"/><line x1="1923.00" y1="213.86" x2="1917.00" y2="213.86" stroke="#262626" stroke-width="1.3"/><text x="1366.80" y="221.46" font-family='"Liberation Sans", Arial, Helvetica, sans-serif' font-size="21.5" font-weight="bold" text-anchor="end" fill="#262626" stroke="#262626" stroke-width="0.55" >4</text><line x1="1373.80" y1="256.70" x2="1379.80" y2="256.70" stroke="#262626" stroke-width="1.3"/><line x1="1923.00" y1="256.70" x2="1917.00" y2="256.70" stroke="#262626" stroke-width="1.3"/><text x="1366.80" y="264.30" font-family='"Liberation Sans", Arial, Helvetica, sans-serif' font-size="21.5" font-weight="bold" text-anchor="end" fill="#262626" stroke="#262626" stroke-width="0.55" >5</text><line x1="1373.80" y1="299.54" x2="1379.80" y2="299.54" stroke="#262626" stroke-width="1.3"/><line x1="1923.00" y1="299.54" x2="1917.00" y2="299.54" stroke="#262626" stroke-width="1.3"/><text x="1366.80" y="307.14" font-family='"Liberation Sans", Arial, Helvetica, sans-serif' font-size="21.5" font-weight="bold" text-anchor="end" fill="#262626" stroke="#262626" stroke-width="0.55" >6</text><line x1="1373.80" y1="342.38" x2="1379.80" y2="342.38" stroke="#262626" stroke-width="1.3"/><line x1="1923.00" y1="342.38" x2="1917.00" y2="342.38" stroke="#262626" stroke-width="1.3"/><text x="1366.80" y="349.98" font-family='"Liberation Sans", Arial, Helvetica, sans-serif' font-size="21.5" font-weight="bold" text-anchor="end" fill="#262626" stroke="#262626" stroke-width="0.55" >7</text><line x1="1373.80" y1="385.22" x2="1379.80" y2="385.22" stroke="#262626" stroke-width="1.3"/><line x1="1923.00" y1="385.22" x2="1917.00" y2="385.22" stroke="#262626" stroke-width="1.3"/><text x="1366.80" y="392.82" font-family='"Liberation Sans", Arial, Helvetica, sans-serif' font-size="21.5" font-weight="bold" text-anchor="end" fill="#262626" stroke="#262626" stroke-width="0.55" >8</text><line x1="1483.64" y1="396.80" x2="1483.64" y2="390.80" stroke="#262626" stroke-width="1.3"/><line x1="1483.64" y1="42.50" x2="1483.64" y2="48.50" stroke="#262626" stroke-width="1.3"/><text x="1483.64" y="424.00" font-family='"Liberation Sans", Arial, Helvetica, sans-serif' font-size="21.5" font-weight="bold" text-anchor="middle" fill="#262626" stroke="#262626" stroke-width="0.55" >72</text><line x1="1593.48" y1="396.80" x2="1593.48" y2="390.80" stroke="#262626" stroke-width="1.3"/><line x1="1593.48" y1="42.50" x2="1593.48" y2="48.50" stroke="#262626" stroke-width="1.3"/><text x="1593.48" y="424.00" font-family='"Liberation Sans", Arial, Helvetica, sans-serif' font-size="21.5" font-weight="bold" text-anchor="middle" fill="#262626" stroke="#262626" stroke-width="0.55" >144</text><line x1="1703.32" y1="396.80" x2="1703.32" y2="390.80" stroke="#262626" stroke-width="1.3"/><line x1="1703.32" y1="42.50" x2="1703.32" y2="48.50" stroke="#262626" stroke-width="1.3"/><text x="1703.32" y="424.00" font-family='"Liberation Sans", Arial, Helvetica, sans-serif' font-size="21.5" font-weight="bold" text-anchor="middle" fill="#262626" stroke="#262626" stroke-width="0.55" >216</text><line x1="1813.16" y1="396.80" x2="1813.16" y2="390.80" stroke="#262626" stroke-width="1.3"/><line x1="1813.16" y1="42.50" x2="1813.16" y2="48.50" stroke="#262626" stroke-width="1.3"/><text x="1813.16" y="424.00" font-family='"Liberation Sans", Arial, Helvetica, sans-serif' font-size="21.5" font-weight="bold" text-anchor="middle" fill="#262626" stroke="#262626" stroke-width="0.55" >288</text><line x1="1923.00" y1="396.80" x2="1923.00" y2="390.80" stroke="#262626" stroke-width="1.3"/><line x1="1923.00" y1="42.50" x2="1923.00" y2="48.50" stroke="#262626" stroke-width="1.3"/><text x="1923.00" y="424.00" font-family='"Liberation Sans", Arial, Helvetica, sans-serif' font-size="21.5" font-weight="bold" text-anchor="middle" fill="#262626" stroke="#262626" stroke-width="0.55" >360</text><text x="1648.40" y="452.20" font-family='"Liberation Sans", Arial, Helvetica, sans-serif' font-size="23" font-weight="bold" text-anchor="middle" fill="#262626" stroke="#262626" stroke-width="0.55" >Times(s)</text><text x="0" y="0" transform="translate(1347.50 219.65) rotate(-90)" font-family='"Liberation Sans", Arial, Helvetica, sans-serif' font-size="23" font-weight="bold" text-anchor="middle" fill="#262626" stroke="#262626" stroke-width="0.5">Voxels</text><text x="1375.20" y="37.30" font-family='"Liberation Sans", Arial, Helvetica, sans-serif' fill="#262626"><tspan font-size="25" font-weight="normal" dy="2.6">×</tspan><tspan font-size="21.5" font-weight="bold" dx="2.1" dy="-2.6" stroke="#262626" stroke-width="0.5">10</tspan><tspan font-size="16.5" font-weight="bold" dy="-10.2" stroke="#262626" stroke-width="0.4">4</tspan></text><line x1="49.00" y1="562.85" x2="55.00" y2="562.85" stroke="#262626" stroke-width="1.3"/><line x1="587.70" y1="562.85" x2="581.70" y2="562.85" stroke="#262626" stroke-width="1.3"/><text x="42.00" y="570.45" font-family='"Liberation Sans", Arial, Helvetica, sans-serif' font-size="21.5" font-weight="bold" text-anchor="end" fill="#262626" stroke="#262626" stroke-width="0.55" >1</text><line x1="49.00" y1="607.70" x2="55.00" y2="607.70" stroke="#262626" stroke-width="1.3"/><line x1="587.70" y1="607.70" x2="581.70" y2="607.70" stroke="#262626" stroke-width="1.3"/><text x="42.00" y="615.30" font-family='"Liberation Sans", Arial, Helvetica, sans-serif' font-size="21.5" font-weight="bold" text-anchor="end" fill="#262626" stroke="#262626" stroke-width="0.55" >2</text><line x1="49.00" y1="652.55" x2="55.00" y2="652.55" stroke="#262626" stroke-width="1.3"/><line x1="587.70" y1="652.55" x2="581.70" y2="652.55" stroke="#262626" stroke-width="1.3"/><text x="42.00" y="660.15" font-family='"Liberation Sans", Arial, Helvetica, sans-serif' font-size="21.5" font-weight="bold" text-anchor="end" fill="#262626" stroke="#262626" stroke-width="0.55" >3</text><line x1="49.00" y1="697.40" x2="55.00" y2="697.40" stroke="#262626" stroke-width="1.3"/><line x1="587.70" y1="697.40" x2="581.70" y2="697.40" stroke="#262626" stroke-width="1.3"/><text x="42.00" y="705.00" font-family='"Liberation Sans", Arial, Helvetica, sans-serif' font-size="21.5" font-weight="bold" text-anchor="end" fill="#262626" stroke="#262626" stroke-width="0.55" >4</text><line x1="49.00" y1="742.25" x2="55.00" y2="742.25" stroke="#262626" stroke-width="1.3"/><line x1="587.70" y1="742.25" x2="581.70" y2="742.25" stroke="#262626" stroke-width="1.3"/><text x="42.00" y="749.85" font-family='"Liberation Sans", Arial, Helvetica, sans-serif' font-size="21.5" font-weight="bold" text-anchor="end" fill="#262626" stroke="#262626" stroke-width="0.55" >5</text><line x1="49.00" y1="787.10" x2="55.00" y2="787.10" stroke="#262626" stroke-width="1.3"/><line x1="587.70" y1="787.10" x2="581.70" y2="787.10" stroke="#262626" stroke-width="1.3"/><text x="42.00" y="794.70" font-family='"Liberation Sans", Arial, Helvetica, sans-serif' font-size="21.5" font-weight="bold" text-anchor="end" fill="#262626" stroke="#262626" stroke-width="0.55" >6</text><line x1="49.00" y1="831.95" x2="55.00" y2="831.95" stroke="#262626" stroke-width="1.3"/><line x1="587.70" y1="831.95" x2="581.70" y2="831.95" stroke="#262626" stroke-width="1.3"/><text x="42.00" y="839.55" font-family='"Liberation Sans", Arial, Helvetica, sans-serif' font-size="21.5" font-weight="bold" text-anchor="end" fill="#262626" stroke="#262626" stroke-width="0.55" >7</text><line x1="51.50" y1="865.00" x2="51.50" y2="859.00" stroke="#262626" stroke-width="1.3"/><line x1="51.50" y1="518.00" x2="51.50" y2="524.00" stroke="#262626" stroke-width="1.3"/><text x="51.50" y="892.00" font-family='"Liberation Sans", Arial, Helvetica, sans-serif' font-size="21.5" font-weight="bold" text-anchor="middle" fill="#262626" stroke="#262626" stroke-width="0.55" >2</text><line x1="110.86" y1="865.00" x2="110.86" y2="859.00" stroke="#262626" stroke-width="1.3"/><line x1="110.86" y1="518.00" x2="110.86" y2="524.00" stroke="#262626" stroke-width="1.3"/><text x="110.86" y="892.00" font-family='"Liberation Sans", Arial, Helvetica, sans-serif' font-size="21.5" font-weight="bold" text-anchor="middle" fill="#262626" stroke="#262626" stroke-width="0.55" >21</text><line x1="170.21" y1="865.00" x2="170.21" y2="859.00" stroke="#262626" stroke-width="1.3"/><line x1="170.21" y1="518.00" x2="170.21" y2="524.00" stroke="#262626" stroke-width="1.3"/><text x="170.21" y="892.00" font-family='"Liberation Sans", Arial, Helvetica, sans-serif' font-size="21.5" font-weight="bold" text-anchor="middle" fill="#262626" stroke="#262626" stroke-width="0.55" >40</text><line x1="229.57" y1="865.00" x2="229.57" y2="859.00" stroke="#262626" stroke-width="1.3"/><line x1="229.57" y1="518.00" x2="229.57" y2="524.00" stroke="#262626" stroke-width="1.3"/><text x="229.57" y="892.00" font-family='"Liberation Sans", Arial, Helvetica, sans-serif' font-size="21.5" font-weight="bold" text-anchor="middle" fill="#262626" stroke="#262626" stroke-width="0.55" >59</text><line x1="288.92" y1="865.00" x2="288.92" y2="859.00" stroke="#262626" stroke-width="1.3"/><line x1="288.92" y1="518.00" x2="288.92" y2="524.00" stroke="#262626" stroke-width="1.3"/><text x="288.92" y="892.00" font-family='"Liberation Sans", Arial, Helvetica, sans-serif' font-size="21.5" font-weight="bold" text-anchor="middle" fill="#262626" stroke="#262626" stroke-width="0.55" >79</text><line x1="348.28" y1="865.00" x2="348.28" y2="859.00" stroke="#262626" stroke-width="1.3"/><line x1="348.28" y1="518.00" x2="348.28" y2="524.00" stroke="#262626" stroke-width="1.3"/><text x="348.28" y="892.00" font-family='"Liberation Sans", Arial, Helvetica, sans-serif' font-size="21.5" font-weight="bold" text-anchor="middle" fill="#262626" stroke="#262626" stroke-width="0.55" >98</text><line x1="407.63" y1="865.00" x2="407.63" y2="859.00" stroke="#262626" stroke-width="1.3"/><line x1="407.63" y1="518.00" x2="407.63" y2="524.00" stroke="#262626" stroke-width="1.3"/><text x="407.63" y="892.00" font-family='"Liberation Sans", Arial, Helvetica, sans-serif' font-size="21.5" font-weight="bold" text-anchor="middle" fill="#262626" stroke="#262626" stroke-width="0.55" >117</text><line x1="466.99" y1="865.00" x2="466.99" y2="859.00" stroke="#262626" stroke-width="1.3"/><line x1="466.99" y1="518.00" x2="466.99" y2="524.00" stroke="#262626" stroke-width="1.3"/><text x="466.99" y="892.00" font-family='"Liberation Sans", Arial, Helvetica, sans-serif' font-size="21.5" font-weight="bold" text-anchor="middle" fill="#262626" stroke="#262626" stroke-width="0.55" >137</text><line x1="526.34" y1="865.00" x2="526.34" y2="859.00" stroke="#262626" stroke-width="1.3"/><line x1="526.34" y1="518.00" x2="526.34" y2="524.00" stroke="#262626" stroke-width="1.3"/><text x="526.34" y="892.00" font-family='"Liberation Sans", Arial, Helvetica, sans-serif' font-size="21.5" font-weight="bold" text-anchor="middle" fill="#262626" stroke="#262626" stroke-width="0.55" >156</text><line x1="585.70" y1="865.00" x2="585.70" y2="859.00" stroke="#262626" stroke-width="1.3"/><line x1="585.70" y1="518.00" x2="585.70" y2="524.00" stroke="#262626" stroke-width="1.3"/><text x="585.70" y="892.00" font-family='"Liberation Sans", Arial, Helvetica, sans-serif' font-size="21.5" font-weight="bold" text-anchor="middle" fill="#262626" stroke="#262626" stroke-width="0.55" >175</text><text x="318.35" y="920.40" font-family='"Liberation Sans", Arial, Helvetica, sans-serif' font-size="23" font-weight="bold" text-anchor="middle" fill="#262626" stroke="#262626" stroke-width="0.55" >Times(s)</text><text x="0" y="0" transform="translate(22.70 691.50) rotate(-90)" font-family='"Liberation Sans", Arial, Helvetica, sans-serif' font-size="23" font-weight="bold" text-anchor="middle" fill="#262626" stroke="#262626" stroke-width="0.5">Voxels</text><text x="50.40" y="512.80" font-family='"Liberation Sans", Arial, Helvetica, sans-serif' fill="#262626"><tspan font-size="25" font-weight="normal" dy="2.6">×</tspan><tspan font-size="21.5" font-weight="bold" dx="2.1" dy="-2.6" stroke="#262626" stroke-width="0.5">10</tspan><tspan font-size="16.5" font-weight="bold" dy="-10.2" stroke="#262626" stroke-width="0.4">4</tspan></text><line x1="715.00" y1="560.10" x2="721.00" y2="560.10" stroke="#262626" stroke-width="1.3"/><line x1="1254.00" y1="560.10" x2="1248.00" y2="560.10" stroke="#262626" stroke-width="1.3"/><text x="708.00" y="567.70" font-family='"Liberation Sans", Arial, Helvetica, sans-serif' font-size="21.5" font-weight="bold" text-anchor="end" fill="#262626" stroke="#262626" stroke-width="0.55" >1</text><line x1="715.00" y1="605.20" x2="721.00" y2="605.20" stroke="#262626" stroke-width="1.3"/><line x1="1254.00" y1="605.20" x2="1248.00" y2="605.20" stroke="#262626" stroke-width="1.3"/><text x="708.00" y="612.80" font-family='"Liberation Sans", Arial, Helvetica, sans-serif' font-size="21.5" font-weight="bold" text-anchor="end" fill="#262626" stroke="#262626" stroke-width="0.55" >2</text><line x1="715.00" y1="650.30" x2="721.00" y2="650.30" stroke="#262626" stroke-width="1.3"/><line x1="1254.00" y1="650.30" x2="1248.00" y2="650.30" stroke="#262626" stroke-width="1.3"/><text x="708.00" y="657.90" font-family='"Liberation Sans", Arial, Helvetica, sans-serif' font-size="21.5" font-weight="bold" text-anchor="end" fill="#262626" stroke="#262626" stroke-width="0.55" >3</text><line x1="715.00" y1="695.40" x2="721.00" y2="695.40" stroke="#262626" stroke-width="1.3"/><line x1="1254.00" y1="695.40" x2="1248.00" y2="695.40" stroke="#262626" stroke-width="1.3"/><text x="708.00" y="703.00" font-family='"Liberation Sans", Arial, Helvetica, sans-serif' font-size="21.5" font-weight="bold" text-anchor="end" fill="#262626" stroke="#262626" stroke-width="0.55" >4</text><line x1="715.00" y1="740.50" x2="721.00" y2="740.50" stroke="#262626" stroke-width="1.3"/><line x1="1254.00" y1="740.50" x2="1248.00" y2="740.50" stroke="#262626" stroke-width="1.3"/><text x="708.00" y="748.10" font-family='"Liberation Sans", Arial, Helvetica, sans-serif' font-size="21.5" font-weight="bold" text-anchor="end" fill="#262626" stroke="#262626" stroke-width="0.55" >5</text><line x1="715.00" y1="785.60" x2="721.00" y2="785.60" stroke="#262626" stroke-width="1.3"/><line x1="1254.00" y1="785.60" x2="1248.00" y2="785.60" stroke="#262626" stroke-width="1.3"/><text x="708.00" y="793.20" font-family='"Liberation Sans", Arial, Helvetica, sans-serif' font-size="21.5" font-weight="bold" text-anchor="end" fill="#262626" stroke="#262626" stroke-width="0.55" >6</text><line x1="715.00" y1="830.70" x2="721.00" y2="830.70" stroke="#262626" stroke-width="1.3"/><line x1="1254.00" y1="830.70" x2="1248.00" y2="830.70" stroke="#262626" stroke-width="1.3"/><text x="708.00" y="838.30" font-family='"Liberation Sans", Arial, Helvetica, sans-serif' font-size="21.5" font-weight="bold" text-anchor="end" fill="#262626" stroke="#262626" stroke-width="0.55" >7</text><line x1="717.50" y1="864.50" x2="717.50" y2="858.50" stroke="#262626" stroke-width="1.3"/><line x1="717.50" y1="515.00" x2="717.50" y2="521.00" stroke="#262626" stroke-width="1.3"/><text x="717.50" y="891.50" font-family='"Liberation Sans", Arial, Helvetica, sans-serif' font-size="21.5" font-weight="bold" text-anchor="middle" fill="#262626" stroke="#262626" stroke-width="0.55" >2</text><line x1="776.89" y1="864.50" x2="776.89" y2="858.50" stroke="#262626" stroke-width="1.3"/><line x1="776.89" y1="515.00" x2="776.89" y2="521.00" stroke="#262626" stroke-width="1.3"/><text x="776.89" y="891.50" font-family='"Liberation Sans", Arial, Helvetica, sans-serif' font-size="21.5" font-weight="bold" text-anchor="middle" fill="#262626" stroke="#262626" stroke-width="0.55" >21</text><line x1="836.28" y1="864.50" x2="836.28" y2="858.50" stroke="#262626" stroke-width="1.3"/><line x1="836.28" y1="515.00" x2="836.28" y2="521.00" stroke="#262626" stroke-width="1.3"/><text x="836.28" y="891.50" font-family='"Liberation Sans", Arial, Helvetica, sans-serif' font-size="21.5" font-weight="bold" text-anchor="middle" fill="#262626" stroke="#262626" stroke-width="0.55" >40</text><line x1="895.67" y1="864.50" x2="895.67" y2="858.50" stroke="#262626" stroke-width="1.3"/><line x1="895.67" y1="515.00" x2="895.67" y2="521.00" stroke="#262626" stroke-width="1.3"/><text x="895.67" y="891.50" font-family='"Liberation Sans", Arial, Helvetica, sans-serif' font-size="21.5" font-weight="bold" text-anchor="middle" fill="#262626" stroke="#262626" stroke-width="0.55" >59</text><line x1="955.06" y1="864.50" x2="955.06" y2="858.50" stroke="#262626" stroke-width="1.3"/><line x1="955.06" y1="515.00" x2="955.06" y2="521.00" stroke="#262626" stroke-width="1.3"/><text x="955.06" y="891.50" font-family='"Liberation Sans", Arial, Helvetica, sans-serif' font-size="21.5" font-weight="bold" text-anchor="middle" fill="#262626" stroke="#262626" stroke-width="0.55" >79</text><line x1="1014.44" y1="864.50" x2="1014.44" y2="858.50" stroke="#262626" stroke-width="1.3"/><line x1="1014.44" y1="515.00" x2="1014.44" y2="521.00" stroke="#262626" stroke-width="1.3"/><text x="1014.44" y="891.50" font-family='"Liberation Sans", Arial, Helvetica, sans-serif' font-size="21.5" font-weight="bold" text-anchor="middle" fill="#262626" stroke="#262626" stroke-width="0.55" >98</text><line x1="1073.83" y1="864.50" x2="1073.83" y2="858.50" stroke="#262626" stroke-width="1.3"/><line x1="1073.83" y1="515.00" x2="1073.83" y2="521.00" stroke="#262626" stroke-width="1.3"/><text x="1073.83" y="891.50" font-family='"Liberation Sans", Arial, Helvetica, sans-serif' font-size="21.5" font-weight="bold" text-anchor="middle" fill="#262626" stroke="#262626" stroke-width="0.55" >117</text><line x1="1133.22" y1="864.50" x2="1133.22" y2="858.50" stroke="#262626" stroke-width="1.3"/><line x1="1133.22" y1="515.00" x2="1133.22" y2="521.00" stroke="#262626" stroke-width="1.3"/><text x="1133.22" y="891.50" font-family='"Liberation Sans", Arial, Helvetica, sans-serif' font-size="21.5" font-weight="bold" text-anchor="middle" fill="#262626" stroke="#262626" stroke-width="0.55" >137</text><line x1="1192.61" y1="864.50" x2="1192.61" y2="858.50" stroke="#262626" stroke-width="1.3"/><line x1="1192.61" y1="515.00" x2="1192.61" y2="521.00" stroke="#262626" stroke-width="1.3"/><text x="1192.61" y="891.50" font-family='"Liberation Sans", Arial, Helvetica, sans-serif' font-size="21.5" font-weight="bold" text-anchor="middle" fill="#262626" stroke="#262626" stroke-width="0.55" >156</text><line x1="1252.00" y1="864.50" x2="1252.00" y2="858.50" stroke="#262626" stroke-width="1.3"/><line x1="1252.00" y1="515.00" x2="1252.00" y2="521.00" stroke="#262626" stroke-width="1.3"/><text x="1252.00" y="891.50" font-family='"Liberation Sans", Arial, Helvetica, sans-serif' font-size="21.5" font-weight="bold" text-anchor="middle" fill="#262626" stroke="#262626" stroke-width="0.55" >175</text><text x="984.50" y="919.90" font-family='"Liberation Sans", Arial, Helvetica, sans-serif' font-size="23" font-weight="bold" text-anchor="middle" fill="#262626" stroke="#262626" stroke-width="0.55" >Times(s)</text><text x="0" y="0" transform="translate(688.70 689.75) rotate(-90)" font-family='"Liberation Sans", Arial, Helvetica, sans-serif' font-size="23" font-weight="bold" text-anchor="middle" fill="#262626" stroke="#262626" stroke-width="0.5">Voxels</text><text x="716.40" y="509.80" font-family='"Liberation Sans", Arial, Helvetica, sans-serif' fill="#262626"><tspan font-size="25" font-weight="normal" dy="2.6">×</tspan><tspan font-size="21.5" font-weight="bold" dx="2.1" dy="-2.6" stroke="#262626" stroke-width="0.5">10</tspan><tspan font-size="16.5" font-weight="bold" dy="-10.2" stroke="#262626" stroke-width="0.4">4</tspan></text><line x1="1373.80" y1="559.70" x2="1379.80" y2="559.70" stroke="#262626" stroke-width="1.3"/><line x1="1922.50" y1="559.70" x2="1916.50" y2="559.70" stroke="#262626" stroke-width="1.3"/><text x="1366.80" y="567.30" font-family='"Liberation Sans", Arial, Helvetica, sans-serif' font-size="21.5" font-weight="bold" text-anchor="end" fill="#262626" stroke="#262626" stroke-width="0.55" >1</text><line x1="1373.80" y1="604.90" x2="1379.80" y2="604.90" stroke="#262626" stroke-width="1.3"/><line x1="1922.50" y1="604.90" x2="1916.50" y2="604.90" stroke="#262626" stroke-width="1.3"/><text x="1366.80" y="612.50" font-family='"Liberation Sans", Arial, Helvetica, sans-serif' font-size="21.5" font-weight="bold" text-anchor="end" fill="#262626" stroke="#262626" stroke-width="0.55" >2</text><line x1="1373.80" y1="650.10" x2="1379.80" y2="650.10" stroke="#262626" stroke-width="1.3"/><line x1="1922.50" y1="650.10" x2="1916.50" y2="650.10" stroke="#262626" stroke-width="1.3"/><text x="1366.80" y="657.70" font-family='"Liberation Sans", Arial, Helvetica, sans-serif' font-size="21.5" font-weight="bold" text-anchor="end" fill="#262626" stroke="#262626" stroke-width="0.55" >3</text><line x1="1373.80" y1="695.30" x2="1379.80" y2="695.30" stroke="#262626" stroke-width="1.3"/><line x1="1922.50" y1="695.30" x2="1916.50" y2="695.30" stroke="#262626" stroke-width="1.3"/><text x="1366.80" y="702.90" font-family='"Liberation Sans", Arial, Helvetica, sans-serif' font-size="21.5" font-weight="bold" text-anchor="end" fill="#262626" stroke="#262626" stroke-width="0.55" >4</text><line x1="1373.80" y1="740.50" x2="1379.80" y2="740.50" stroke="#262626" stroke-width="1.3"/><line x1="1922.50" y1="740.50" x2="1916.50" y2="740.50" stroke="#262626" stroke-width="1.3"/><text x="1366.80" y="748.10" font-family='"Liberation Sans", Arial, Helvetica, sans-serif' font-size="21.5" font-weight="bold" text-anchor="end" fill="#262626" stroke="#262626" stroke-width="0.55" >5</text><line x1="1373.80" y1="785.70" x2="1379.80" y2="785.70" stroke="#262626" stroke-width="1.3"/><line x1="1922.50" y1="785.70" x2="1916.50" y2="785.70" stroke="#262626" stroke-width="1.3"/><text x="1366.80" y="793.30" font-family='"Liberation Sans", Arial, Helvetica, sans-serif' font-size="21.5" font-weight="bold" text-anchor="end" fill="#262626" stroke="#262626" stroke-width="0.55" >6</text><line x1="1373.80" y1="830.90" x2="1379.80" y2="830.90" stroke="#262626" stroke-width="1.3"/><line x1="1922.50" y1="830.90" x2="1916.50" y2="830.90" stroke="#262626" stroke-width="1.3"/><text x="1366.80" y="838.50" font-family='"Liberation Sans", Arial, Helvetica, sans-serif' font-size="21.5" font-weight="bold" text-anchor="end" fill="#262626" stroke="#262626" stroke-width="0.55" >7</text><line x1="1376.30" y1="862.50" x2="1376.30" y2="856.50" stroke="#262626" stroke-width="1.3"/><line x1="1376.30" y1="514.50" x2="1376.30" y2="520.50" stroke="#262626" stroke-width="1.3"/><text x="1376.30" y="889.50" font-family='"Liberation Sans", Arial, Helvetica, sans-serif' font-size="21.5" font-weight="bold" text-anchor="middle" fill="#262626" stroke="#262626" stroke-width="0.55" >2</text><line x1="1436.77" y1="862.50" x2="1436.77" y2="856.50" stroke="#262626" stroke-width="1.3"/><line x1="1436.77" y1="514.50" x2="1436.77" y2="520.50" stroke="#262626" stroke-width="1.3"/><text x="1436.77" y="889.50" font-family='"Liberation Sans", Arial, Helvetica, sans-serif' font-size="21.5" font-weight="bold" text-anchor="middle" fill="#262626" stroke="#262626" stroke-width="0.55" >21</text><line x1="1497.23" y1="862.50" x2="1497.23" y2="856.50" stroke="#262626" stroke-width="1.3"/><line x1="1497.23" y1="514.50" x2="1497.23" y2="520.50" stroke="#262626" stroke-width="1.3"/><text x="1497.23" y="889.50" font-family='"Liberation Sans", Arial, Helvetica, sans-serif' font-size="21.5" font-weight="bold" text-anchor="middle" fill="#262626" stroke="#262626" stroke-width="0.55" >40</text><line x1="1557.70" y1="862.50" x2="1557.70" y2="856.50" stroke="#262626" stroke-width="1.3"/><line x1="1557.70" y1="514.50" x2="1557.70" y2="520.50" stroke="#262626" stroke-width="1.3"/><text x="1557.70" y="889.50" font-family='"Liberation Sans", Arial, Helvetica, sans-serif' font-size="21.5" font-weight="bold" text-anchor="middle" fill="#262626" stroke="#262626" stroke-width="0.55" >59</text><line x1="1618.17" y1="862.50" x2="1618.17" y2="856.50" stroke="#262626" stroke-width="1.3"/><line x1="1618.17" y1="514.50" x2="1618.17" y2="520.50" stroke="#262626" stroke-width="1.3"/><text x="1618.17" y="889.50" font-family='"Liberation Sans", Arial, Helvetica, sans-serif' font-size="21.5" font-weight="bold" text-anchor="middle" fill="#262626" stroke="#262626" stroke-width="0.55" >79</text><line x1="1678.63" y1="862.50" x2="1678.63" y2="856.50" stroke="#262626" stroke-width="1.3"/><line x1="1678.63" y1="514.50" x2="1678.63" y2="520.50" stroke="#262626" stroke-width="1.3"/><text x="1678.63" y="889.50" font-family='"Liberation Sans", Arial, Helvetica, sans-serif' font-size="21.5" font-weight="bold" text-anchor="middle" fill="#262626" stroke="#262626" stroke-width="0.55" >98</text><line x1="1739.10" y1="862.50" x2="1739.10" y2="856.50" stroke="#262626" stroke-width="1.3"/><line x1="1739.10" y1="514.50" x2="1739.10" y2="520.50" stroke="#262626" stroke-width="1.3"/><text x="1739.10" y="889.50" font-family='"Liberation Sans", Arial, Helvetica, sans-serif' font-size="21.5" font-weight="bold" text-anchor="middle" fill="#262626" stroke="#262626" stroke-width="0.55" >117</text><line x1="1799.57" y1="862.50" x2="1799.57" y2="856.50" stroke="#262626" stroke-width="1.3"/><line x1="1799.57" y1="514.50" x2="1799.57" y2="520.50" stroke="#262626" stroke-width="1.3"/><text x="1799.57" y="889.50" font-family='"Liberation Sans", Arial, Helvetica, sans-serif' font-size="21.5" font-weight="bold" text-anchor="middle" fill="#262626" stroke="#262626" stroke-width="0.55" >137</text><line x1="1860.03" y1="862.50" x2="1860.03" y2="856.50" stroke="#262626" stroke-width="1.3"/><line x1="1860.03" y1="514.50" x2="1860.03" y2="520.50" stroke="#262626" stroke-width="1.3"/><text x="1860.03" y="889.50" font-family='"Liberation Sans", Arial, Helvetica, sans-serif' font-size="21.5" font-weight="bold" text-anchor="middle" fill="#262626" stroke="#262626" stroke-width="0.55" >156</text><line x1="1920.50" y1="862.50" x2="1920.50" y2="856.50" stroke="#262626" stroke-width="1.3"/><line x1="1920.50" y1="514.50" x2="1920.50" y2="520.50" stroke="#262626" stroke-width="1.3"/><text x="1920.50" y="889.50" font-family='"Liberation Sans", Arial, Helvetica, sans-serif' font-size="21.5" font-weight="bold" text-anchor="middle" fill="#262626" stroke="#262626" stroke-width="0.55" >175</text><text x="1648.15" y="917.90" font-family='"Liberation Sans", Arial, Helvetica, sans-serif' font-size="23" font-weight="bold" text-anchor="middle" fill="#262626" stroke="#262626" stroke-width="0.55" >Times(s)</text><text x="0" y="0" transform="translate(1347.50 688.50) rotate(-90)" font-family='"Liberation Sans", Arial, Helvetica, sans-serif' font-size="23" font-weight="bold" text-anchor="middle" fill="#262626" stroke="#262626" stroke-width="0.5">Voxels</text><text x="1375.20" y="509.30" font-family='"Liberation Sans", Arial, Helvetica, sans-serif' fill="#262626"><tspan font-size="25" font-weight="normal" dy="2.6">×</tspan><tspan font-size="21.5" font-weight="bold" dx="2.1" dy="-2.6" stroke="#262626" stroke-width="0.5">10</tspan><tspan font-size="16.5" font-weight="bold" dy="-10.2" stroke="#262626" stroke-width="0.4">4</tspan></text><text x="135.90" y="26.90" font-family='"Liberation Sans", Arial, Helvetica, sans-serif' font-size="29" font-weight="bold" fill="#000" textLength="343.80" lengthAdjust="spacingAndGlyphs">Conventional rs carpet plot</text><text x="828.80" y="27.00" font-family='"Liberation Sans", Arial, Helvetica, sans-serif' font-size="29" font-weight="bold" fill="#000" textLength="246.80" lengthAdjust="spacingAndGlyphs">rs SHAG carpet plot</text><text x="1499.80" y="27.00" font-family='"Liberation Sans", Arial, Helvetica, sans-serif' font-size="29" font-weight="bold" fill="#000" textLength="268.10" lengthAdjust="spacingAndGlyphs">rs SHAG (segmented)</text><text x="114.30" y="500.90" font-family='"Liberation Sans", Arial, Helvetica, sans-serif' font-size="29" font-weight="bold" fill="#000" textLength="372.00" lengthAdjust="spacingAndGlyphs">Conventional DSC carpet plot</text><text x="826.80" y="500.30" font-family='"Liberation Sans", Arial, Helvetica, sans-serif' font-size="29" font-weight="bold" fill="#000" textLength="274.50" lengthAdjust="spacingAndGlyphs">DSC SHAG carpet plot</text><text x="1521.70" y="500.30" font-family='"Liberation Sans", Arial, Helvetica, sans-serif' font-size="29" font-weight="bold" fill="#000" textLength="295.00" lengthAdjust="spacingAndGlyphs">DSC SHAG (segmented)</text><text x="291.80" y="966.90" font-family='"Liberation Sans", Arial, Helvetica, sans-serif' font-size="31" font-weight="bold" fill="#000" textLength="37.70" lengthAdjust="spacingAndGlyphs">(a)</text><text x="954.20" y="966.90" font-family='"Liberation Sans", Arial, Helvetica, sans-serif' font-size="31" font-weight="bold" fill="#000" textLength="39.40" lengthAdjust="spacingAndGlyphs">(b)</text><text x="1616.80" y="966.90" font-family='"Liberation Sans", Arial, Helvetica, sans-serif' font-size="31" font-weight="bold" fill="#000" textLength="36.20" lengthAdjust="spacingAndGlyphs">(c)</text><polygon points="442.0,416.6 458.3,432.4 449.9,432.4 449.9,450.6 434.1,450.6 434.1,432.4 425.7,432.4" fill="#ffc000" stroke="#000" stroke-width="2" stroke-linejoin="miter"/><polygon points="1103.3,416.6 1119.6,432.4 1111.2,432.4 1111.2,450.6 1095.4,450.6 1095.4,432.4 1087.0,432.4" fill="#ffc000" stroke="#000" stroke-width="2" stroke-linejoin="miter"/><polygon points="1774.0,416.6 1790.3,432.4 1781.9,432.4 1781.9,450.6 1766.1,450.6 1766.1,432.4 1757.7,432.4" fill="#ffc000" stroke="#000" stroke-width="2" stroke-linejoin="miter"/><path d="M1960.0,46.4 C1968.2,46.4 1968.2,48.4 1968.2,58.4 L1968.2,117.7 C1968.2,127.7 1973.0,129.7 1975.0,129.7 C1973.0,129.7 1968.2,131.7 1968.2,141.7 L1968.2,199.9 C1968.2,209.9 1968.2,211.9 1960.0,211.9" fill="none" stroke="#000" stroke-width="2.0"/><path d="M1960.0,217.2 C1968.2,217.2 1968.2,219.2 1968.2,229.2 L1968.2,263.8 C1968.2,273.8 1973.0,275.8 1975.0,275.8 C1973.0,275.8 1968.2,277.8 1968.2,287.8 L1968.2,321.7 C1968.2,331.7 1968.2,333.7 1960.0,333.7" fill="none" stroke="#000" stroke-width="2.0"/><path d="M1960.0,336.8 C1968.2,336.8 1968.2,338.8 1968.2,348.8 L1968.2,355.5 C1968.2,365.5 1973.0,367.5 1975.0,367.5 C1973.0,367.5 1968.2,369.5 1968.2,379.5 L1968.2,385.7 C1968.2,395.7 1968.2,397.7 1960.0,397.7" fill="none" stroke="#000" stroke-width="2.0"/><text x="0" y="0" transform="translate(2003.30 128.70) rotate(-90)" font-family='"Liberation Sans", Arial, Helvetica, sans-serif' font-size="22.8" font-weight="bold" text-anchor="middle" fill="#000" stroke="#000" stroke-width="0.5" textLength="32.20" lengthAdjust="spacingAndGlyphs">GM</text><text x="0" y="0" transform="translate(2004.30 275.50) rotate(-90)" font-family='"Liberation Sans", Arial, Helvetica, sans-serif' font-size="22.8" font-weight="bold" text-anchor="middle" fill="#000" stroke="#000" stroke-width="0.5" textLength="39.00" lengthAdjust="spacingAndGlyphs">WM</text><text x="0" y="0" transform="translate(2004.30 368.00) rotate(-90)" font-family='"Liberation Sans", Arial, Helvetica, sans-serif' font-size="22.8" font-weight="bold" text-anchor="middle" fill="#000" stroke="#000" stroke-width="0.5" textLength="31.80" lengthAdjust="spacingAndGlyphs">CSF</text><path d="M1929.6,176.0 H1936.4 V205.5 H1929.6" fill="none" stroke="#000" stroke-width="1.8"/><path d="M1930.6,303.0 H1936.6 V332.7 H1930.6" fill="none" stroke="#000" stroke-width="1.8"/><path d="M1930.6,364.4 H1936.6 V395.0 H1930.6" fill="none" stroke="#000" stroke-width="1.8"/><text x="0" y="0" transform="translate(1953.30 188.50) rotate(-90)" font-family='"Liberation Sans", Arial, Helvetica, sans-serif' font-size="18.8" font-weight="bold" text-anchor="middle" fill="#000" stroke="#000" stroke-width="0.7" textLength="39.50" lengthAdjust="spacingAndGlyphs">crop</text><text x="0" y="0" transform="translate(1953.30 316.40) rotate(-90)" font-family='"Liberation Sans", Arial, Helvetica, sans-serif' font-size="18.8" font-weight="bold" text-anchor="middle" fill="#000" stroke="#000" stroke-width="0.7" textLength="39.00" lengthAdjust="spacingAndGlyphs">crop</text><text x="0" y="0" transform="translate(1953.30 376.60) rotate(-90)" font-family='"Liberation Sans", Arial, Helvetica, sans-serif' font-size="18.8" font-weight="bold" text-anchor="middle" fill="#000" stroke="#000" stroke-width="0.7" textLength="39.00" lengthAdjust="spacingAndGlyphs">crop</text><path d="M1931.0,518.0 C1939.8,518.0 1939.8,520.0 1939.8,530.0 L1939.8,586.2 C1939.8,596.2 1945.8,598.2 1947.8,598.2 C1945.8,598.2 1939.8,600.2 1939.8,610.2 L1939.8,665.5 C1939.8,675.5 1939.8,677.5 1931.0,677.5" fill="none" stroke="#000" stroke-width="2.0"/><path d="M1931.0,685.0 C1939.8,685.0 1939.8,687.0 1939.8,697.0 L1939.8,730.0 C1939.8,740.0 1945.8,742.0 1947.8,742.0 C1945.8,742.0 1939.8,744.0 1939.8,754.0 L1939.8,787.7 C1939.8,797.7 1939.8,799.7 1931.0,799.7" fill="none" stroke="#000" stroke-width="2.0"/><path d="M1931.0,807.0 C1939.8,807.0 1939.8,809.0 1939.8,819.0 L1939.8,825.0 C1939.8,835.0 1945.8,837.0 1947.8,837.0 C1945.8,837.0 1939.8,839.0 1939.8,849.0 L1939.8,852.6 C1939.8,862.6 1939.8,864.6 1931.0,864.6" fill="none" stroke="#000" stroke-width="2.0"/><text x="0" y="0" transform="translate(1976.00 597.70) rotate(-90)" font-family='"Liberation Sans", Arial, Helvetica, sans-serif' font-size="22.8" font-weight="bold" text-anchor="middle" fill="#000" stroke="#000" stroke-width="0.5" textLength="32.20" lengthAdjust="spacingAndGlyphs">GM</text><text x="0" y="0" transform="translate(1975.50 741.00) rotate(-90)" font-family='"Liberation Sans", Arial, Helvetica, sans-serif' font-size="22.8" font-weight="bold" text-anchor="middle" fill="#000" stroke="#000" stroke-width="0.5" textLength="39.00" lengthAdjust="spacingAndGlyphs">WM</text><text x="0" y="0" transform="translate(1975.50 835.30) rotate(-90)" font-family='"Liberation Sans", Arial, Helvetica, sans-serif' font-size="22.8" font-weight="bold" text-anchor="middle" fill="#000" stroke="#000" stroke-width="0.5" textLength="31.80" lengthAdjust="spacingAndGlyphs">CSF</text><path d="M1256.3,291.0 H1264.4 V396.8 H1256.3" fill="none" stroke="#262626" stroke-width="1.5"/><text x="0" y="0" transform="translate(1285.00 342.00) rotate(-90)" font-family='"Liberation Sans", Arial, Helvetica, sans-serif' font-size="19.5" font-weight="bold" text-anchor="middle" fill="#262626" stroke="#262626" stroke-width="0.5">crop</text></svg></body></html>
